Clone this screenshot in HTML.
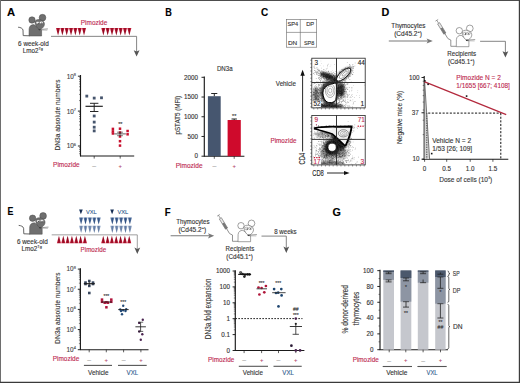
<!DOCTYPE html>
<html><head><meta charset="utf-8"><style>
html,body{margin:0;padding:0;background:#fff;width:520px;height:383px;overflow:hidden}
svg{display:block}
text{font-family:"Liberation Sans",sans-serif}
</style></head><body>
<svg width="520" height="383" viewBox="0 0 520 383">
<defs>
<linearGradient id="gRed" x1="0" y1="0" x2="1" y2="0">
<stop offset="0" stop-color="#d8213f"/><stop offset="0.5" stop-color="#8e0a22"/><stop offset="1" stop-color="#d8213f"/>
</linearGradient>
<linearGradient id="gNavy" x1="0" y1="0" x2="1" y2="0">
<stop offset="0" stop-color="#2d4d78"/><stop offset="0.5" stop-color="#0f2245"/><stop offset="1" stop-color="#2d4d78"/>
</linearGradient>
<linearGradient id="gB2" x1="0" y1="0" x2="1" y2="0">
<stop offset="0" stop-color="#7a95bd"/><stop offset="0.5" stop-color="#2f4f80"/><stop offset="1" stop-color="#7a95bd"/>
</linearGradient>
<linearGradient id="gB3" x1="0" y1="0" x2="1" y2="0">
<stop offset="0" stop-color="#aebfd8"/><stop offset="0.5" stop-color="#6079a0"/><stop offset="1" stop-color="#aebfd8"/>
</linearGradient>
</defs>
<rect x="0" y="0" width="520" height="383" fill="#ffffff"/>
<text x="6.9" y="16.1" font-size="10.4" fill="#000" stroke="#000" stroke-width="0.12" textLength="8.1" lengthAdjust="spacingAndGlyphs" font-weight="bold" >A</text>
<text x="165.2" y="16.2" font-size="10.4" fill="#000" stroke="#000" stroke-width="0.12" textLength="6.6" lengthAdjust="spacingAndGlyphs" font-weight="bold" >B</text>
<text x="261" y="16.2" font-size="10.4" fill="#000" stroke="#000" stroke-width="0.12" textLength="7.2" lengthAdjust="spacingAndGlyphs" font-weight="bold" >C</text>
<text x="381.6" y="16.3" font-size="10.4" fill="#000" stroke="#000" stroke-width="0.12" textLength="7.8" lengthAdjust="spacingAndGlyphs" font-weight="bold" >D</text>
<text x="7.4" y="215.4" font-size="10.4" fill="#000" stroke="#000" stroke-width="0.12" textLength="5.9" lengthAdjust="spacingAndGlyphs" font-weight="bold" >E</text>
<text x="164.8" y="215.8" font-size="10.4" fill="#000" stroke="#000" stroke-width="0.12" textLength="5.9" lengthAdjust="spacingAndGlyphs" font-weight="bold" >F</text>
<text x="332.6" y="216" font-size="10.4" fill="#000" stroke="#000" stroke-width="0.12" textLength="8.4" lengthAdjust="spacingAndGlyphs" font-weight="bold" >G</text>
<g transform="translate(-427.3 -10.7)">
<path d="M445.4 37.9 C447.8 38.1 449.9 39.0 450.3 40.7 L450.5 46.3 L456.8 46.5" fill="none" stroke="#555" stroke-width="0.9" />
<circle cx="459.3" cy="30.7" r="3.2" fill="#6f6f6f" stroke="#4a4a4a" stroke-width="0.5"/>
<circle cx="469.8" cy="28.4" r="3.35" fill="#6f6f6f" stroke="#4a4a4a" stroke-width="0.5"/>
<path d="M456.3 46.7 L456.4 39.6 C456.6 36.6 458.6 35.4 461.2 35.3 L468.9 40.8 L468.9 46.7 Z" fill="#6f6f6f" stroke="#4a4a4a" stroke-width="0.5" />
<path d="M462.3 33.2 C462.0 30.8 464.5 29.9 467.0 30.3 C470.5 30.9 472.4 33.5 471.6 36.0 C470.9 38.2 468.9 39.8 466.8 40.6 C464.6 39.0 462.6 36.2 462.3 33.2 Z" fill="#6f6f6f" stroke="#4a4a4a" stroke-width="0.5" />
<ellipse cx="465.0" cy="33.5" rx="1.75" ry="1.3" fill="#fff" stroke="#4a4a4a" stroke-width="0.4"/>
<ellipse cx="468.6" cy="33.3" rx="1.75" ry="1.3" fill="#fff" stroke="#4a4a4a" stroke-width="0.4"/>
<circle cx="465.5" cy="33.9" r="0.55" fill="#111" stroke="none" stroke-width="0.5"/>
<circle cx="468.7" cy="33.7" r="0.55" fill="#111" stroke="none" stroke-width="0.5"/>
<ellipse cx="466.9" cy="40.3" rx="1.1" ry="0.7" fill="#333"/>
<line x1="466.8" y1="40.2" x2="475.2" y2="39.6" stroke="#555" stroke-width="0.6" />
<line x1="467.2" y1="40.8" x2="474.6" y2="41" stroke="#777" stroke-width="0.4" />
</g>
<text x="18.1" y="45.67" font-size="6.3" fill="#333333" stroke="#333333" stroke-width="0.12" textLength="30.7" lengthAdjust="spacingAndGlyphs" >6 week-old</text>
<text x="22.7" y="52.6" font-size="6.3" fill="#333333" stroke="#333333" stroke-width="0.12">Lmo2<tspan font-size="3.8" dy="-2.9">Tg</tspan></text>
<path d="M51 36.35 L136.6 36.35 L136.6 53" fill="none" stroke="#666" stroke-width="0.8" />
<path d="M133.7 50.2 L136.6 51.61 L139.5 50.2 L136.6 56.6 Z" fill="#555" stroke="none" stroke-width="0.8" />
<text x="80.8" y="24.77" font-size="6.3" fill="#bd2a50" stroke="#bd2a50" stroke-width="0.12" textLength="26.5" lengthAdjust="spacingAndGlyphs" >Pimozide</text>
<path d="M56 28.1 L60.1 28.1 L58.05 35.4 Z" fill="url(#gRed)" stroke="none" stroke-width="0.8" />
<path d="M60.33 28.1 L64.43 28.1 L62.38 35.4 Z" fill="url(#gRed)" stroke="none" stroke-width="0.8" />
<path d="M64.66 28.1 L68.76 28.1 L66.71 35.4 Z" fill="url(#gRed)" stroke="none" stroke-width="0.8" />
<path d="M68.99 28.1 L73.09 28.1 L71.04 35.4 Z" fill="url(#gRed)" stroke="none" stroke-width="0.8" />
<path d="M73.32 28.1 L77.42 28.1 L75.37 35.4 Z" fill="url(#gRed)" stroke="none" stroke-width="0.8" />
<path d="M77.65 28.1 L81.75 28.1 L79.7 35.4 Z" fill="url(#gRed)" stroke="none" stroke-width="0.8" />
<path d="M81.98 28.1 L86.08 28.1 L84.03 35.4 Z" fill="url(#gRed)" stroke="none" stroke-width="0.8" />
<path d="M101.3 28.1 L105.4 28.1 L103.35 35.4 Z" fill="url(#gRed)" stroke="none" stroke-width="0.8" />
<path d="M105.63 28.1 L109.73 28.1 L107.68 35.4 Z" fill="url(#gRed)" stroke="none" stroke-width="0.8" />
<path d="M109.96 28.1 L114.06 28.1 L112.01 35.4 Z" fill="url(#gRed)" stroke="none" stroke-width="0.8" />
<path d="M114.29 28.1 L118.39 28.1 L116.34 35.4 Z" fill="url(#gRed)" stroke="none" stroke-width="0.8" />
<path d="M118.62 28.1 L122.72 28.1 L120.67 35.4 Z" fill="url(#gRed)" stroke="none" stroke-width="0.8" />
<path d="M122.95 28.1 L127.05 28.1 L125 35.4 Z" fill="url(#gRed)" stroke="none" stroke-width="0.8" />
<path d="M127.28 28.1 L131.38 28.1 L129.33 35.4 Z" fill="url(#gRed)" stroke="none" stroke-width="0.8" />
<line x1="80.5" y1="75" x2="80.5" y2="156.4" stroke="#1a1a1a" stroke-width="1.15" />
<line x1="80.1" y1="156" x2="134.2" y2="156" stroke="#1a1a1a" stroke-width="1.15" />
<line x1="77.9" y1="76.2" x2="80.5" y2="76.2" stroke="#1a1a1a" stroke-width="0.95" />
<line x1="77.9" y1="111.1" x2="80.5" y2="111.1" stroke="#1a1a1a" stroke-width="0.95" />
<line x1="77.9" y1="146" x2="80.5" y2="146" stroke="#1a1a1a" stroke-width="0.95" />
<line x1="79" y1="100.59" x2="80.5" y2="100.59" stroke="#1a1a1a" stroke-width="0.5" />
<line x1="79" y1="94.45" x2="80.5" y2="94.45" stroke="#1a1a1a" stroke-width="0.5" />
<line x1="79" y1="90.09" x2="80.5" y2="90.09" stroke="#1a1a1a" stroke-width="0.5" />
<line x1="79" y1="86.71" x2="80.5" y2="86.71" stroke="#1a1a1a" stroke-width="0.5" />
<line x1="79" y1="83.94" x2="80.5" y2="83.94" stroke="#1a1a1a" stroke-width="0.5" />
<line x1="79" y1="81.61" x2="80.5" y2="81.61" stroke="#1a1a1a" stroke-width="0.5" />
<line x1="79" y1="79.58" x2="80.5" y2="79.58" stroke="#1a1a1a" stroke-width="0.5" />
<line x1="79" y1="77.8" x2="80.5" y2="77.8" stroke="#1a1a1a" stroke-width="0.5" />
<line x1="79" y1="135.49" x2="80.5" y2="135.49" stroke="#1a1a1a" stroke-width="0.5" />
<line x1="79" y1="129.35" x2="80.5" y2="129.35" stroke="#1a1a1a" stroke-width="0.5" />
<line x1="79" y1="124.99" x2="80.5" y2="124.99" stroke="#1a1a1a" stroke-width="0.5" />
<line x1="79" y1="121.61" x2="80.5" y2="121.61" stroke="#1a1a1a" stroke-width="0.5" />
<line x1="79" y1="118.84" x2="80.5" y2="118.84" stroke="#1a1a1a" stroke-width="0.5" />
<line x1="79" y1="116.51" x2="80.5" y2="116.51" stroke="#1a1a1a" stroke-width="0.5" />
<line x1="79" y1="114.48" x2="80.5" y2="114.48" stroke="#1a1a1a" stroke-width="0.5" />
<line x1="79" y1="112.7" x2="80.5" y2="112.7" stroke="#1a1a1a" stroke-width="0.5" />
<line x1="79" y1="153.74" x2="80.5" y2="153.74" stroke="#1a1a1a" stroke-width="0.5" />
<line x1="79" y1="151.41" x2="80.5" y2="151.41" stroke="#1a1a1a" stroke-width="0.5" />
<line x1="79" y1="149.38" x2="80.5" y2="149.38" stroke="#1a1a1a" stroke-width="0.5" />
<line x1="79" y1="147.6" x2="80.5" y2="147.6" stroke="#1a1a1a" stroke-width="0.5" />
<text x="76" y="78.6" font-size="6.4" fill="#444" text-anchor="end" stroke="#444" stroke-width="0.12">10<tspan font-size="3.97" dy="-2.6">8</tspan></text>
<text x="76" y="113.6" font-size="6.4" fill="#444" text-anchor="end" stroke="#444" stroke-width="0.12">10<tspan font-size="3.97" dy="-2.6">7</tspan></text>
<text x="76" y="148.3" font-size="6.4" fill="#444" text-anchor="end" stroke="#444" stroke-width="0.12">10<tspan font-size="3.97" dy="-2.6">6</tspan></text>
<line x1="94.2" y1="156" x2="94.2" y2="158.6" stroke="#1a1a1a" stroke-width="0.7" />
<line x1="120.2" y1="156" x2="120.2" y2="158.6" stroke="#1a1a1a" stroke-width="0.7" />
<text transform="translate(57.6 114.95) rotate(-90)" x="0" y="2.77" font-size="7.7" fill="#333333" stroke="#333333" stroke-width="0.12" text-anchor="middle" textLength="71.1" lengthAdjust="spacingAndGlyphs">DN3a absolute numbers</text>
<text x="53.1" y="167.47" font-size="6.3" fill="#bd2a50" stroke="#bd2a50" stroke-width="0.12" textLength="26.5" lengthAdjust="spacingAndGlyphs" >Pimozide</text>
<text x="92.2" y="167.76" font-size="6" fill="#707070" stroke="#707070" stroke-width="0.12" textLength="3.8" lengthAdjust="spacingAndGlyphs" >–</text>
<text x="120.3" y="167.6" font-size="5.8" fill="#b2476a" stroke="#b2476a" stroke-width="0.12" text-anchor="middle" >+</text>
<rect x="85.4" y="94.7" width="2.8" height="2.8" fill="#46556d"/>
<rect x="92.8" y="96.7" width="2.8" height="2.8" fill="#46556d"/>
<rect x="100.1" y="96.4" width="2.8" height="2.8" fill="#46556d"/>
<rect x="92.8" y="114.6" width="2.8" height="2.8" fill="#46556d"/>
<rect x="92.8" y="120.7" width="2.8" height="2.8" fill="#46556d"/>
<rect x="92.8" y="125.8" width="2.8" height="2.8" fill="#46556d"/>
<rect x="92.8" y="129.5" width="2.8" height="2.8" fill="#46556d"/>
<line x1="85.5" y1="106.3" x2="102.8" y2="106.3" stroke="#1a1a1a" stroke-width="1.15" />
<line x1="94.2" y1="103.3" x2="94.2" y2="111.5" stroke="#1a1a1a" stroke-width="0.95" />
<line x1="90" y1="103.3" x2="98.4" y2="103.3" stroke="#1a1a1a" stroke-width="0.95" />
<line x1="90" y1="111.5" x2="98.4" y2="111.5" stroke="#1a1a1a" stroke-width="0.95" />
<rect x="118.75" y="127.45" width="2.5" height="2.5" fill="#c8102e"/>
<rect x="111.65" y="127.65" width="2.5" height="2.5" fill="#c8102e"/>
<rect x="111.65" y="130.15" width="2.5" height="2.5" fill="#c8102e"/>
<rect x="111.65" y="132.25" width="2.5" height="2.5" fill="#c8102e"/>
<rect x="126.35" y="129.75" width="2.5" height="2.5" fill="#c8102e"/>
<rect x="126.35" y="133.05" width="2.5" height="2.5" fill="#c8102e"/>
<rect x="118.75" y="135.25" width="2.5" height="2.5" fill="#c8102e"/>
<rect x="118.75" y="139.95" width="2.5" height="2.5" fill="#c8102e"/>
<rect x="118.75" y="144.35" width="2.5" height="2.5" fill="#c8102e"/>
<rect x="118.75" y="131.25" width="2.5" height="2.5" fill="#c8102e"/>
<line x1="114.2" y1="133.9" x2="125.9" y2="133.9" stroke="#333" stroke-width="0.8" />
<line x1="120" y1="132.2" x2="120" y2="135.7" stroke="#333" stroke-width="0.7" />
<line x1="117" y1="132.2" x2="123" y2="132.2" stroke="#333" stroke-width="0.6" />
<line x1="117" y1="135.7" x2="123" y2="135.7" stroke="#333" stroke-width="0.6" />
<text x="120.3" y="125.6" font-size="5.5" fill="#333" stroke="#333" stroke-width="0.12" text-anchor="middle" >**</text>
<text x="216.9" y="70.67" font-size="6.3" fill="#333333" stroke="#333333" stroke-width="0.12" textLength="15.7" lengthAdjust="spacingAndGlyphs" >DN3a</text>
<line x1="204.3" y1="76.5" x2="204.3" y2="156.6" stroke="#1a1a1a" stroke-width="1.15" />
<line x1="203.9" y1="156.2" x2="244.4" y2="156.2" stroke="#1a1a1a" stroke-width="1.15" />
<line x1="201.5" y1="156.2" x2="204.3" y2="156.2" stroke="#1a1a1a" stroke-width="0.95" />
<text x="197.9" y="158.45" font-size="6.3" fill="#333333" stroke="#333333" stroke-width="0.12" text-anchor="end" >0</text>
<line x1="201.5" y1="136.47" x2="204.3" y2="136.47" stroke="#1a1a1a" stroke-width="0.95" />
<text x="197.9" y="138.72" font-size="6.3" fill="#333333" stroke="#333333" stroke-width="0.12" text-anchor="end" >500</text>
<line x1="201.5" y1="116.75" x2="204.3" y2="116.75" stroke="#1a1a1a" stroke-width="0.95" />
<text x="197.9" y="119" font-size="6.3" fill="#333333" stroke="#333333" stroke-width="0.12" text-anchor="end" >1000</text>
<line x1="201.5" y1="97.02" x2="204.3" y2="97.02" stroke="#1a1a1a" stroke-width="0.95" />
<text x="197.9" y="99.27" font-size="6.3" fill="#333333" stroke="#333333" stroke-width="0.12" text-anchor="end" >1500</text>
<line x1="201.5" y1="77.3" x2="204.3" y2="77.3" stroke="#1a1a1a" stroke-width="0.95" />
<text x="197.9" y="79.55" font-size="6.3" fill="#333333" stroke="#333333" stroke-width="0.12" text-anchor="end" >2000</text>
<text transform="translate(177.3 115.2) rotate(-90)" x="0" y="2.38" font-size="6.6" fill="#333333" stroke="#333333" stroke-width="0.12" text-anchor="middle" textLength="38.8" lengthAdjust="spacingAndGlyphs">pSTAT5 (MFI)</text>
<rect x="207.9" y="96.2" width="12.8" height="60" fill="#46566f"/>
<rect x="227.6" y="120" width="13.2" height="36.2" fill="#cf0a2c"/>
<line x1="214.3" y1="93.5" x2="214.3" y2="96.2" stroke="#1a1a1a" stroke-width="0.95" />
<line x1="211.2" y1="93.5" x2="217.3" y2="93.5" stroke="#1a1a1a" stroke-width="0.95" />
<line x1="234.2" y1="119" x2="234.2" y2="120" stroke="#1a1a1a" stroke-width="0.95" />
<line x1="231.5" y1="119" x2="236.9" y2="119" stroke="#1a1a1a" stroke-width="0.95" />
<text x="234.2" y="118.3" font-size="5.5" fill="#333" stroke="#333" stroke-width="0.12" text-anchor="middle" >**</text>
<line x1="214.3" y1="156.2" x2="214.3" y2="158.8" stroke="#1a1a1a" stroke-width="0.7" />
<line x1="234.2" y1="156.2" x2="234.2" y2="158.8" stroke="#1a1a1a" stroke-width="0.7" />
<text x="175.7" y="167.57" font-size="6.3" fill="#bd2a50" stroke="#bd2a50" stroke-width="0.12" textLength="26.9" lengthAdjust="spacingAndGlyphs" >Pimozide</text>
<text x="212.5" y="167.76" font-size="6" fill="#707070" stroke="#707070" stroke-width="0.12" textLength="3.8" lengthAdjust="spacingAndGlyphs" >–</text>
<text x="234.2" y="167.7" font-size="5.8" fill="#b2476a" stroke="#b2476a" stroke-width="0.12" text-anchor="middle" >+</text>
<rect x="286.5" y="19.4" width="30.2" height="27.8" fill="none" stroke="#666" stroke-width="0.6"/>
<line x1="300.3" y1="19.4" x2="300.3" y2="47.2" stroke="#666" stroke-width="0.6" />
<line x1="286.5" y1="32.4" x2="316.7" y2="32.4" stroke="#666" stroke-width="0.6" />
<text x="287.4" y="26" font-size="6.2" fill="#333333" stroke="#333333" stroke-width="0.12" textLength="10.7" lengthAdjust="spacingAndGlyphs" >SP4</text>
<text x="306.2" y="26" font-size="6.2" fill="#333333" stroke="#333333" stroke-width="0.12" textLength="8" lengthAdjust="spacingAndGlyphs" >DP</text>
<text x="287.9" y="45.3" font-size="6.2" fill="#333333" stroke="#333333" stroke-width="0.12" textLength="9.3" lengthAdjust="spacingAndGlyphs" >DN</text>
<text x="303.9" y="45.3" font-size="6.2" fill="#333333" stroke="#333333" stroke-width="0.12" textLength="10.3" lengthAdjust="spacingAndGlyphs" >SP8</text>
<text x="275.8" y="86.47" font-size="6.3" fill="#333333" stroke="#333333" stroke-width="0.12" textLength="20.2" lengthAdjust="spacingAndGlyphs" >Vehicle</text>
<text x="270.5" y="143.27" font-size="6.3" fill="#bd2a50" stroke="#bd2a50" stroke-width="0.12" textLength="25.9" lengthAdjust="spacingAndGlyphs" >Pimozide</text>
<line x1="302.6" y1="151.5" x2="302.6" y2="74" stroke="#111" stroke-width="0.9" />
<path d="M300.4 75.8 L302.6 69.8 L304.8 75.8 Z" fill="#111" stroke="none" stroke-width="0.8" />
<text transform="translate(301.6 158.65) rotate(-90)" x="0" y="3.02" font-size="8.4" fill="#222" stroke="#222" stroke-width="0.12" text-anchor="middle" textLength="11.5" lengthAdjust="spacingAndGlyphs">CD4</text>
<text x="312.2" y="175.72" font-size="8.4" fill="#222" stroke="#222" stroke-width="0.12" textLength="11.6" lengthAdjust="spacingAndGlyphs" >CD8</text>
<line x1="327" y1="173" x2="346" y2="173" stroke="#111" stroke-width="0.9" />
<path d="M344 170.9 L349.6 173 L344 175.1 Z" fill="#111" stroke="none" stroke-width="0.8" />
<defs><filter id="bl1" filterUnits="userSpaceOnUse" x="300" y="50" width="80" height="130"><feGaussianBlur stdDeviation="1.3"/></filter><filter id="bl2" filterUnits="userSpaceOnUse" x="300" y="50" width="80" height="130"><feGaussianBlur stdDeviation="2.2"/></filter><clipPath id="cp1"><rect x="312.2" y="58.6" width="52.6" height="48.9"/></clipPath><clipPath id="cp2"><rect x="312.2" y="115.8" width="52.6" height="48.7"/></clipPath></defs>
<defs><filter id="bl0" filterUnits="userSpaceOnUse" x="300" y="50" width="80" height="130"><feGaussianBlur stdDeviation="0.45"/></filter></defs>
<g clip-path="url(#cp1)">
<g filter="url(#bl1)" opacity="0.75">
<ellipse cx="329.3" cy="92.8" rx="9" ry="12" fill="#000"/>
<ellipse cx="328.5" cy="76.5" rx="9" ry="3.0" fill="#000" transform="rotate(22 328.5 76.5)"/>
<circle cx="336" cy="81.5" r="3" fill="#000"/>
<ellipse cx="343.6" cy="74.6" rx="10" ry="4.3" fill="#000" transform="rotate(-41.5 343.6 74.6)"/>
<ellipse cx="330" cy="106" rx="13" ry="2.5" fill="#000"/>
<ellipse cx="341" cy="90" rx="4" ry="7" fill="#000"/>
<ellipse cx="316" cy="95" rx="3" ry="8" fill="#000" opacity="0.6"/>
</g>
<path d="M327.96 97.09h0.6v0.6h-0.6zM328.14 90.48h0.6v0.6h-0.6zM323.92 91.29h0.6v0.6h-0.6zM336.17 96.39h0.6v0.6h-0.6zM335.72 94.99h0.6v0.6h-0.6zM331.87 94.48h0.6v0.6h-0.6zM319.5 99.84h0.6v0.6h-0.6zM332.54 96.99h0.6v0.6h-0.6zM319.35 79.05h0.6v0.6h-0.6zM324.16 89.25h0.6v0.6h-0.6zM331.33 92.63h0.6v0.6h-0.6zM332.63 87.86h0.6v0.6h-0.6zM331.35 96.15h0.6v0.6h-0.6zM325.53 106.74h0.6v0.6h-0.6zM332.84 102.58h0.6v0.6h-0.6zM325.78 87.08h0.6v0.6h-0.6zM327.44 92.15h0.6v0.6h-0.6zM333.29 94.99h0.6v0.6h-0.6zM326.82 85.34h0.6v0.6h-0.6zM326.38 102.77h0.6v0.6h-0.6zM324.65 94.96h0.6v0.6h-0.6zM332.06 81.08h0.6v0.6h-0.6zM329.79 103.45h0.6v0.6h-0.6zM317.41 90.43h0.6v0.6h-0.6zM328.86 86.46h0.6v0.6h-0.6zM332.48 92.5h0.6v0.6h-0.6zM320.71 99.62h0.6v0.6h-0.6zM333.52 100.57h0.6v0.6h-0.6zM338.14 95.9h0.6v0.6h-0.6zM330.22 82.61h0.6v0.6h-0.6zM333.19 88.11h0.6v0.6h-0.6zM326.78 82.88h0.6v0.6h-0.6zM323.69 88.75h0.6v0.6h-0.6zM337.23 76.75h0.6v0.6h-0.6zM320.75 94.91h0.6v0.6h-0.6zM338.16 97.63h0.6v0.6h-0.6zM318.1 72.85h0.6v0.6h-0.6zM331.64 87.11h0.6v0.6h-0.6zM322.78 100.82h0.6v0.6h-0.6zM336.11 94.26h0.6v0.6h-0.6zM330.97 96.47h0.6v0.6h-0.6zM339.06 97.95h0.6v0.6h-0.6zM332.61 97.38h0.6v0.6h-0.6zM320.09 103.25h0.6v0.6h-0.6zM335.23 97.24h0.6v0.6h-0.6zM317.66 87.93h0.6v0.6h-0.6zM334.55 78.51h0.6v0.6h-0.6zM328.4 101.16h0.6v0.6h-0.6zM321.63 105.88h0.6v0.6h-0.6zM332.81 91.8h0.6v0.6h-0.6zM331.45 98.2h0.6v0.6h-0.6zM330.22 102.17h0.6v0.6h-0.6zM325.53 89.68h0.6v0.6h-0.6zM335.75 93.21h0.6v0.6h-0.6zM324.22 100.57h0.6v0.6h-0.6zM338.29 89.44h0.6v0.6h-0.6zM321.22 91.92h0.6v0.6h-0.6zM328.61 90.62h0.6v0.6h-0.6zM337.93 84.78h0.6v0.6h-0.6zM337.06 82.85h0.6v0.6h-0.6zM324.78 98.05h0.6v0.6h-0.6zM336.27 99.87h0.6v0.6h-0.6zM331.57 94.14h0.6v0.6h-0.6zM330.41 97.6h0.6v0.6h-0.6zM328.44 95.22h0.6v0.6h-0.6zM332.94 93.01h0.6v0.6h-0.6zM334.08 97.53h0.6v0.6h-0.6zM341.56 95.6h0.6v0.6h-0.6zM326.93 90.02h0.6v0.6h-0.6zM329.42 100.39h0.6v0.6h-0.6zM327.48 96.09h0.6v0.6h-0.6zM340.52 72.48h0.6v0.6h-0.6zM322.76 94.95h0.6v0.6h-0.6zM331.89 94.91h0.6v0.6h-0.6zM326.91 98.24h0.6v0.6h-0.6zM331.19 88.82h0.6v0.6h-0.6zM344.08 95.84h0.6v0.6h-0.6zM326.17 92.2h0.6v0.6h-0.6zM328.15 92.5h0.6v0.6h-0.6zM313.13 89.1h0.6v0.6h-0.6zM335.55 83.65h0.6v0.6h-0.6zM329.1 100.63h0.6v0.6h-0.6zM334.64 104.93h0.6v0.6h-0.6zM319.29 90.17h0.6v0.6h-0.6zM327.45 97.99h0.6v0.6h-0.6zM336.05 71.54h0.6v0.6h-0.6zM336.03 81.42h0.6v0.6h-0.6zM333.6 81.06h0.6v0.6h-0.6zM330.56 102.56h0.6v0.6h-0.6zM328.6 94.53h0.6v0.6h-0.6zM334.28 94.13h0.6v0.6h-0.6zM328.97 105.27h0.6v0.6h-0.6zM335.79 90.65h0.6v0.6h-0.6zM345.97 83.83h0.6v0.6h-0.6zM334.99 90.87h0.6v0.6h-0.6zM330.29 98.64h0.6v0.6h-0.6zM330.83 98.11h0.6v0.6h-0.6zM320.34 80.92h0.6v0.6h-0.6zM333.19 85.29h0.6v0.6h-0.6zM323.34 81.24h0.6v0.6h-0.6zM337.1 98.97h0.6v0.6h-0.6zM338.34 85.5h0.6v0.6h-0.6zM329.51 83.88h0.6v0.6h-0.6zM334.1 105.72h0.6v0.6h-0.6zM324.16 105.48h0.6v0.6h-0.6zM335.43 91.58h0.6v0.6h-0.6zM317.67 104.25h0.6v0.6h-0.6zM328.92 88.18h0.6v0.6h-0.6zM331.9 96.28h0.6v0.6h-0.6zM338.49 84.84h0.6v0.6h-0.6zM336.32 104.9h0.6v0.6h-0.6zM338.21 91.56h0.6v0.6h-0.6zM325.04 101.15h0.6v0.6h-0.6zM330.19 93.99h0.6v0.6h-0.6zM338.05 90.89h0.6v0.6h-0.6zM315.72 89.9h0.6v0.6h-0.6zM318.38 99.55h0.6v0.6h-0.6zM331.4 88.11h0.6v0.6h-0.6zM329.44 99.66h0.6v0.6h-0.6zM329.97 103.61h0.6v0.6h-0.6zM329.13 101.32h0.6v0.6h-0.6zM338.45 105.88h0.6v0.6h-0.6zM325.47 100.04h0.6v0.6h-0.6zM318.24 84.33h0.6v0.6h-0.6zM317.72 101.55h0.6v0.6h-0.6zM322.11 92.9h0.6v0.6h-0.6zM328.35 92.77h0.6v0.6h-0.6zM325.95 94.87h0.6v0.6h-0.6zM340.25 93.35h0.6v0.6h-0.6zM332.69 101h0.6v0.6h-0.6zM328.31 82.92h0.6v0.6h-0.6zM326.17 101.59h0.6v0.6h-0.6zM319.62 88.22h0.6v0.6h-0.6zM335.54 99.34h0.6v0.6h-0.6zM329.55 99.44h0.6v0.6h-0.6zM330.5 83.57h0.6v0.6h-0.6zM320.12 87.89h0.6v0.6h-0.6zM335.04 88.48h0.6v0.6h-0.6zM324.09 86.83h0.6v0.6h-0.6zM320.31 92.06h0.6v0.6h-0.6zM322.42 95.91h0.6v0.6h-0.6zM315.34 95.62h0.6v0.6h-0.6zM325.65 77.46h0.6v0.6h-0.6zM333.85 90.8h0.6v0.6h-0.6zM316.12 86h0.6v0.6h-0.6zM331.25 89.33h0.6v0.6h-0.6zM334.18 98.98h0.6v0.6h-0.6zM333.5 95.61h0.6v0.6h-0.6zM337.5 98.28h0.6v0.6h-0.6zM332.21 76.33h0.6v0.6h-0.6zM334.88 103.48h0.6v0.6h-0.6zM327.72 89.24h0.6v0.6h-0.6zM341.14 78.93h0.6v0.6h-0.6zM323.93 98.52h0.6v0.6h-0.6zM340.82 92.04h0.6v0.6h-0.6zM332.87 100.22h0.6v0.6h-0.6zM324.07 92.29h0.6v0.6h-0.6zM331.26 99.6h0.6v0.6h-0.6zM329.29 91.44h0.6v0.6h-0.6zM323.4 90.13h0.6v0.6h-0.6zM334.85 93.81h0.6v0.6h-0.6zM324.38 86.27h0.6v0.6h-0.6zM345.5 102.12h0.6v0.6h-0.6zM333.32 72.26h0.6v0.6h-0.6zM333.23 96.85h0.6v0.6h-0.6zM339.6 96.42h0.6v0.6h-0.6zM329.1 97.18h0.6v0.6h-0.6zM317.83 101.27h0.6v0.6h-0.6zM331.45 87.38h0.6v0.6h-0.6zM337.45 107.47h0.6v0.6h-0.6zM321.09 87.67h0.6v0.6h-0.6zM331.25 94.47h0.6v0.6h-0.6zM327.11 85.21h0.6v0.6h-0.6zM342.22 101.3h0.6v0.6h-0.6zM322.33 82.24h0.6v0.6h-0.6zM339.72 100.91h0.6v0.6h-0.6zM340.43 99.48h0.6v0.6h-0.6zM324.27 95.09h0.6v0.6h-0.6zM316.54 87.02h0.6v0.6h-0.6zM329.15 97.18h0.6v0.6h-0.6zM325.13 92.01h0.6v0.6h-0.6zM332.25 96.01h0.6v0.6h-0.6zM333.33 94.67h0.6v0.6h-0.6zM327.56 99.31h0.6v0.6h-0.6zM329.8 86.39h0.6v0.6h-0.6zM325.74 93h0.6v0.6h-0.6zM328.84 94.26h0.6v0.6h-0.6zM329.5 94.41h0.6v0.6h-0.6zM328.69 82.93h0.6v0.6h-0.6zM332.03 101.43h0.6v0.6h-0.6zM332.11 91.49h0.6v0.6h-0.6zM332.18 85.27h0.6v0.6h-0.6zM318.12 93.48h0.6v0.6h-0.6zM323.92 98.92h0.6v0.6h-0.6zM323 71.97h0.6v0.6h-0.6zM323.26 105.62h0.6v0.6h-0.6zM327.21 82.04h0.6v0.6h-0.6zM324.92 97.17h0.6v0.6h-0.6zM332.48 94.41h0.6v0.6h-0.6zM338.4 98.65h0.6v0.6h-0.6zM329.37 97.77h0.6v0.6h-0.6zM339.43 100.77h0.6v0.6h-0.6zM335.64 84.34h0.6v0.6h-0.6zM328.61 98.84h0.6v0.6h-0.6zM327.72 101.55h0.6v0.6h-0.6zM333.08 100.27h0.6v0.6h-0.6zM336.94 91.28h0.6v0.6h-0.6zM327.44 99.99h0.6v0.6h-0.6zM335.38 93.05h0.6v0.6h-0.6zM322.5 94.5h0.6v0.6h-0.6zM331.66 102.04h0.6v0.6h-0.6zM334.2 93.19h0.6v0.6h-0.6zM334.62 97.32h0.6v0.6h-0.6zM330.74 93.44h0.6v0.6h-0.6zM328.04 98.49h0.6v0.6h-0.6zM323.17 87.97h0.6v0.6h-0.6zM329.53 81.29h0.6v0.6h-0.6zM326.88 76.93h0.6v0.6h-0.6zM325.4 97.55h0.6v0.6h-0.6zM332.9 92.56h0.6v0.6h-0.6zM328.11 81.67h0.6v0.6h-0.6zM340.47 97.13h0.6v0.6h-0.6zM336.06 85.94h0.6v0.6h-0.6zM328.39 78.44h0.6v0.6h-0.6zM334.18 100.48h0.6v0.6h-0.6zM318.12 92.58h0.6v0.6h-0.6zM333.28 78.9h0.6v0.6h-0.6zM318.55 84.48h0.6v0.6h-0.6zM325.72 81.78h0.6v0.6h-0.6zM329.69 95h0.6v0.6h-0.6zM333.3 98.62h0.6v0.6h-0.6zM338.52 102.31h0.6v0.6h-0.6zM321.63 88.96h0.6v0.6h-0.6zM323.14 84.39h0.6v0.6h-0.6zM329.01 93.04h0.6v0.6h-0.6zM332.44 80.3h0.6v0.6h-0.6zM322.07 92.82h0.6v0.6h-0.6zM328.3 90.51h0.6v0.6h-0.6zM329.12 86.92h0.6v0.6h-0.6zM333.71 95.83h0.6v0.6h-0.6zM328.97 87.62h0.6v0.6h-0.6zM328.45 71.23h0.6v0.6h-0.6zM323.61 93.3h0.6v0.6h-0.6zM320.48 94.6h0.6v0.6h-0.6zM330.38 81.98h0.6v0.6h-0.6zM328 90.49h0.6v0.6h-0.6zM332.26 97.9h0.6v0.6h-0.6zM329.28 86.19h0.6v0.6h-0.6zM328.63 92.48h0.6v0.6h-0.6zM333.91 95.35h0.6v0.6h-0.6zM325.16 82.16h0.6v0.6h-0.6zM327.26 87.08h0.6v0.6h-0.6zM322.83 92.07h0.6v0.6h-0.6zM326.55 93.84h0.6v0.6h-0.6zM332.64 89.7h0.6v0.6h-0.6zM343.45 90.43h0.6v0.6h-0.6zM336.11 93.97h0.6v0.6h-0.6zM336.2 73.99h0.6v0.6h-0.6zM324.99 94.98h0.6v0.6h-0.6zM331.44 103.24h0.6v0.6h-0.6zM334.1 100.58h0.6v0.6h-0.6zM332.56 91.75h0.6v0.6h-0.6zM332.55 84.37h0.6v0.6h-0.6zM336.59 84.86h0.6v0.6h-0.6zM328.16 93.16h0.6v0.6h-0.6zM336.48 93.21h0.6v0.6h-0.6zM324.65 95.07h0.6v0.6h-0.6zM332.99 98.68h0.6v0.6h-0.6zM324.86 107.02h0.6v0.6h-0.6zM339.5 93.15h0.6v0.6h-0.6zM331.11 89.57h0.6v0.6h-0.6zM337.98 87.36h0.6v0.6h-0.6zM333.54 89.16h0.6v0.6h-0.6zM325.34 98.75h0.6v0.6h-0.6zM337.5 92.92h0.6v0.6h-0.6zM325.44 99.49h0.6v0.6h-0.6zM329.2 95.49h0.6v0.6h-0.6zM338.64 102.05h0.6v0.6h-0.6zM329.52 99.29h0.6v0.6h-0.6zM325.62 92.64h0.6v0.6h-0.6zM319 107.29h0.6v0.6h-0.6zM337.69 83.28h0.6v0.6h-0.6zM320.47 80.03h0.6v0.6h-0.6zM336.55 89.32h0.6v0.6h-0.6zM329.14 90.5h0.6v0.6h-0.6zM328.77 84.29h0.6v0.6h-0.6zM329.64 81.5h0.6v0.6h-0.6zM329.07 95.47h0.6v0.6h-0.6zM332.31 91.15h0.6v0.6h-0.6zM324.08 94.28h0.6v0.6h-0.6zM326.59 105.53h0.6v0.6h-0.6zM334.11 92.08h0.6v0.6h-0.6zM326.67 87.38h0.6v0.6h-0.6zM323.88 90.18h0.6v0.6h-0.6zM331.27 97.12h0.6v0.6h-0.6zM325.27 93.1h0.6v0.6h-0.6zM346.27 78.06h0.6v0.6h-0.6zM326.37 94.36h0.6v0.6h-0.6zM330.43 96.26h0.6v0.6h-0.6zM328.07 95.93h0.6v0.6h-0.6zM329.82 99.17h0.6v0.6h-0.6zM318.14 85.92h0.6v0.6h-0.6zM329.49 84.75h0.6v0.6h-0.6zM323.23 98.02h0.6v0.6h-0.6zM325.6 98.08h0.6v0.6h-0.6zM333.97 95.45h0.6v0.6h-0.6zM332.55 92.16h0.6v0.6h-0.6zM321.05 92.76h0.6v0.6h-0.6zM332.23 88.76h0.6v0.6h-0.6zM328.9 98.99h0.6v0.6h-0.6zM324.23 98.12h0.6v0.6h-0.6zM340.68 88.56h0.6v0.6h-0.6zM330.38 91.8h0.6v0.6h-0.6zM338.74 95.53h0.6v0.6h-0.6zM334.89 87.48h0.6v0.6h-0.6zM329.4 92.92h0.6v0.6h-0.6zM318.84 104.53h0.6v0.6h-0.6zM334.9 79.01h0.6v0.6h-0.6zM333.97 91.95h0.6v0.6h-0.6zM332.19 95.93h0.6v0.6h-0.6zM320.51 91.3h0.6v0.6h-0.6zM338.46 88.4h0.6v0.6h-0.6zM323.36 82.12h0.6v0.6h-0.6zM322.17 95.68h0.6v0.6h-0.6zM339.66 96.44h0.6v0.6h-0.6zM326.38 87.61h0.6v0.6h-0.6zM332.67 97.39h0.6v0.6h-0.6zM323.41 83.64h0.6v0.6h-0.6zM331.25 94.98h0.6v0.6h-0.6zM321.66 91.38h0.6v0.6h-0.6zM326.24 96.68h0.6v0.6h-0.6zM328.8 92.31h0.6v0.6h-0.6zM327.38 101.43h0.6v0.6h-0.6zM337.84 90.06h0.6v0.6h-0.6zM334.58 86.94h0.6v0.6h-0.6zM329.93 99h0.6v0.6h-0.6zM338.59 89.94h0.6v0.6h-0.6zM329.06 94.57h0.6v0.6h-0.6zM320.51 93.13h0.6v0.6h-0.6zM325.44 95.97h0.6v0.6h-0.6zM322.72 77.19h0.6v0.6h-0.6zM329.73 95.08h0.6v0.6h-0.6zM326.21 100.11h0.6v0.6h-0.6zM327.86 88.15h0.6v0.6h-0.6zM332.37 80.45h0.6v0.6h-0.6zM325.44 92.83h0.6v0.6h-0.6zM334.59 91.7h0.6v0.6h-0.6zM331.35 87.76h0.6v0.6h-0.6zM331.31 106.31h0.6v0.6h-0.6zM325.64 93.14h0.6v0.6h-0.6zM330.54 101.19h0.6v0.6h-0.6zM322.08 76.2h0.6v0.6h-0.6zM333.14 99.36h0.6v0.6h-0.6zM330.73 95.03h0.6v0.6h-0.6zM335.08 95.95h0.6v0.6h-0.6zM339.48 83.09h0.6v0.6h-0.6zM327.25 65.44h0.6v0.6h-0.6zM334.37 90.02h0.6v0.6h-0.6zM329.46 90.96h0.6v0.6h-0.6zM326.5 86.3h0.6v0.6h-0.6zM325.72 98.11h0.6v0.6h-0.6zM329.72 93.53h0.6v0.6h-0.6zM328.46 100.31h0.6v0.6h-0.6zM332.46 91.87h0.6v0.6h-0.6zM333.49 91.79h0.6v0.6h-0.6zM322.58 104.64h0.6v0.6h-0.6zM332.29 85.34h0.6v0.6h-0.6zM335.97 95.76h0.6v0.6h-0.6zM320.11 105.88h0.6v0.6h-0.6zM331.5 100.13h0.6v0.6h-0.6zM330.69 91.8h0.6v0.6h-0.6zM320.21 100.77h0.6v0.6h-0.6zM329.68 90.71h0.6v0.6h-0.6zM331.61 93.62h0.6v0.6h-0.6zM333.55 90.03h0.6v0.6h-0.6zM329.28 75.89h0.6v0.6h-0.6zM326.96 98.41h0.6v0.6h-0.6zM337.52 90.09h0.6v0.6h-0.6zM328.77 105.67h0.6v0.6h-0.6zM327.55 98.87h0.6v0.6h-0.6zM339.57 93.32h0.6v0.6h-0.6zM336.86 87.32h0.6v0.6h-0.6zM330.75 92.38h0.6v0.6h-0.6zM330.19 102.04h0.6v0.6h-0.6zM343.84 87.68h0.6v0.6h-0.6zM326.05 96.98h0.6v0.6h-0.6zM323.17 96.98h0.6v0.6h-0.6zM332.93 90.78h0.6v0.6h-0.6zM332.69 80.61h0.6v0.6h-0.6zM334.06 80.64h0.6v0.6h-0.6zM325.32 88.55h0.6v0.6h-0.6zM327.09 99.87h0.6v0.6h-0.6zM329.99 89.82h0.6v0.6h-0.6zM332.76 105.65h0.6v0.6h-0.6zM329.54 95.93h0.6v0.6h-0.6zM336.94 95.14h0.6v0.6h-0.6zM342.75 77.12h0.6v0.6h-0.6zM329.27 96.34h0.6v0.6h-0.6zM335.29 98.35h0.6v0.6h-0.6zM327.87 84.57h0.6v0.6h-0.6zM330.12 101.27h0.6v0.6h-0.6zM322.96 84.78h0.6v0.6h-0.6zM329.35 77.5h0.6v0.6h-0.6zM327.94 89.51h0.6v0.6h-0.6zM332.2 87.39h0.6v0.6h-0.6zM324.21 89.85h0.6v0.6h-0.6zM329.2 87.68h0.6v0.6h-0.6zM329.57 99h0.6v0.6h-0.6zM336.61 106.64h0.6v0.6h-0.6zM324.8 89.64h0.6v0.6h-0.6zM325.15 92.73h0.6v0.6h-0.6zM332.64 82.13h0.6v0.6h-0.6zM332.28 92.79h0.6v0.6h-0.6zM318.54 95.34h0.6v0.6h-0.6zM336.67 78.06h0.6v0.6h-0.6zM334.34 94.67h0.6v0.6h-0.6zM332.35 96.53h0.6v0.6h-0.6zM337.32 91.21h0.6v0.6h-0.6zM334.74 89.72h0.6v0.6h-0.6zM333.87 86.49h0.6v0.6h-0.6zM328.85 106.85h0.6v0.6h-0.6zM332.17 91.73h0.6v0.6h-0.6zM322.63 86.68h0.6v0.6h-0.6zM330.66 100.52h0.6v0.6h-0.6zM332.06 97.19h0.6v0.6h-0.6zM329.25 103.82h0.6v0.6h-0.6zM327.16 88.6h0.6v0.6h-0.6zM334.83 93.51h0.6v0.6h-0.6zM327.83 88.39h0.6v0.6h-0.6zM327.96 97.99h0.6v0.6h-0.6zM331.62 83.32h0.6v0.6h-0.6zM332.06 94.43h0.6v0.6h-0.6zM323.5 99.18h0.6v0.6h-0.6zM327.82 90.32h0.6v0.6h-0.6zM334.27 103.57h0.6v0.6h-0.6zM325.37 96.51h0.6v0.6h-0.6zM326.54 102.56h0.6v0.6h-0.6zM325.62 99.49h0.6v0.6h-0.6zM342.81 72.67h0.6v0.6h-0.6zM326.89 97h0.6v0.6h-0.6zM328.94 87.65h0.6v0.6h-0.6zM342.41 93.64h0.6v0.6h-0.6zM319.63 99.83h0.6v0.6h-0.6zM319.17 102.21h0.6v0.6h-0.6zM326.03 94.16h0.6v0.6h-0.6zM337.07 93.94h0.6v0.6h-0.6zM321.15 79.43h0.6v0.6h-0.6zM336.6 98.92h0.6v0.6h-0.6zM324.61 99.88h0.6v0.6h-0.6zM332.48 98.18h0.6v0.6h-0.6zM315.95 90.58h0.6v0.6h-0.6zM334.9 98.87h0.6v0.6h-0.6zM334.79 73.34h0.6v0.6h-0.6zM330.51 96.94h0.6v0.6h-0.6zM344.81 85.37h0.6v0.6h-0.6zM327.52 93.29h0.6v0.6h-0.6zM334.82 89.45h0.6v0.6h-0.6zM336.38 86.7h0.6v0.6h-0.6zM331.1 88.78h0.6v0.6h-0.6zM330.45 87.47h0.6v0.6h-0.6zM319.92 101.74h0.6v0.6h-0.6zM331.32 88.53h0.6v0.6h-0.6zM330.71 100.92h0.6v0.6h-0.6zM323.64 92.12h0.6v0.6h-0.6zM332.73 97.21h0.6v0.6h-0.6zM327.49 76.14h0.6v0.6h-0.6zM336.96 95.63h0.6v0.6h-0.6zM329.58 90.77h0.6v0.6h-0.6zM331.08 89.6h0.6v0.6h-0.6zM323.35 87.08h0.6v0.6h-0.6zM325.92 88.1h0.6v0.6h-0.6zM322.55 98.09h0.6v0.6h-0.6zM321.64 98.28h0.6v0.6h-0.6zM323.41 95.82h0.6v0.6h-0.6zM337.74 94.63h0.6v0.6h-0.6zM325.12 93.39h0.6v0.6h-0.6zM330.39 79.13h0.6v0.6h-0.6zM325.85 94.3h0.6v0.6h-0.6zM326.68 93.64h0.6v0.6h-0.6zM333.9 99.13h0.6v0.6h-0.6zM334.93 97.71h0.6v0.6h-0.6zM327.77 92.85h0.6v0.6h-0.6zM327.87 90.49h0.6v0.6h-0.6zM328.42 79.2h0.6v0.6h-0.6zM327.5 92.81h0.6v0.6h-0.6zM323.66 92.81h0.6v0.6h-0.6zM332.59 91.68h0.6v0.6h-0.6zM341.96 72.15h0.6v0.6h-0.6zM328.26 78.4h0.6v0.6h-0.6zM314.49 94.02h0.6v0.6h-0.6zM332.61 90.58h0.6v0.6h-0.6zM332.81 75.06h0.6v0.6h-0.6zM334.61 95.98h0.6v0.6h-0.6zM329.64 88.3h0.6v0.6h-0.6zM333.33 89.12h0.6v0.6h-0.6zM330.84 88.92h0.6v0.6h-0.6zM316.02 92.75h0.6v0.6h-0.6zM330.71 99.04h0.6v0.6h-0.6zM324.24 92.74h0.6v0.6h-0.6zM333.2 94.16h0.6v0.6h-0.6zM324.05 77.63h0.6v0.6h-0.6zM334.64 105.24h0.6v0.6h-0.6zM335.03 99.51h0.6v0.6h-0.6zM325.79 87.29h0.6v0.6h-0.6zM334.83 85.71h0.6v0.6h-0.6zM318.62 85.02h0.6v0.6h-0.6zM325.38 87.17h0.6v0.6h-0.6zM330.89 87.01h0.6v0.6h-0.6zM337.36 92.37h0.6v0.6h-0.6zM322.98 103.47h0.6v0.6h-0.6zM326 94.77h0.6v0.6h-0.6zM329.42 90.48h0.6v0.6h-0.6zM331.45 87.46h0.6v0.6h-0.6zM318.43 75.34h0.6v0.6h-0.6zM321.9 86.93h0.6v0.6h-0.6zM329.36 93.44h0.6v0.6h-0.6zM332.84 93.96h0.6v0.6h-0.6zM324.74 87.33h0.6v0.6h-0.6zM316.79 91.65h0.6v0.6h-0.6zM332.41 97.24h0.6v0.6h-0.6zM328.77 91.61h0.6v0.6h-0.6zM335.12 93.12h0.6v0.6h-0.6zM333.93 97.66h0.6v0.6h-0.6zM330.78 103.45h0.6v0.6h-0.6zM326.06 90.13h0.6v0.6h-0.6zM324.65 86.62h0.6v0.6h-0.6zM338.84 107.07h0.6v0.6h-0.6zM329.64 97.55h0.6v0.6h-0.6zM336.55 99.46h0.6v0.6h-0.6zM336.73 82.9h0.6v0.6h-0.6zM325.66 96.62h0.6v0.6h-0.6zM338.11 93.83h0.6v0.6h-0.6zM324.35 90.16h0.6v0.6h-0.6zM325.54 86.13h0.6v0.6h-0.6zM338.51 88h0.6v0.6h-0.6zM336.61 95.69h0.6v0.6h-0.6zM325.83 96.28h0.6v0.6h-0.6zM339.23 97.98h0.6v0.6h-0.6zM337.07 93.78h0.6v0.6h-0.6zM332.6 91.39h0.6v0.6h-0.6zM332.06 103.4h0.6v0.6h-0.6zM320.91 92.5h0.6v0.6h-0.6zM330.94 88.43h0.6v0.6h-0.6zM327.65 99.3h0.6v0.6h-0.6zM341.51 98.04h0.6v0.6h-0.6zM331.46 80.59h0.6v0.6h-0.6zM341.07 93.62h0.6v0.6h-0.6zM329.3 84.05h0.6v0.6h-0.6zM329.16 84.23h0.6v0.6h-0.6zM329.93 96.73h0.6v0.6h-0.6zM329.69 95.24h0.6v0.6h-0.6zM324.39 104.44h0.6v0.6h-0.6zM325.58 78.45h0.6v0.6h-0.6zM328.37 86.89h0.6v0.6h-0.6zM323.44 90.16h0.6v0.6h-0.6zM331.25 83.55h0.6v0.6h-0.6zM328.67 104.41h0.6v0.6h-0.6zM333.6 91.78h0.6v0.6h-0.6zM330.27 92.04h0.6v0.6h-0.6zM329.21 98.86h0.6v0.6h-0.6zM328.94 73.76h0.6v0.6h-0.6zM329.37 85.88h0.6v0.6h-0.6zM333.41 88.12h0.6v0.6h-0.6zM323.22 84h0.6v0.6h-0.6zM321.03 73.84h0.6v0.6h-0.6zM318.23 95.92h0.6v0.6h-0.6zM325.67 78.05h0.6v0.6h-0.6zM320.6 97.94h0.6v0.6h-0.6zM324.85 90.07h0.6v0.6h-0.6zM331.48 103.85h0.6v0.6h-0.6zM341.15 101.26h0.6v0.6h-0.6zM330.36 94.47h0.6v0.6h-0.6zM340.31 104.43h0.6v0.6h-0.6zM327.64 96.66h0.6v0.6h-0.6zM331.22 93.42h0.6v0.6h-0.6zM326.5 82.39h0.6v0.6h-0.6zM326.3 80.65h0.6v0.6h-0.6zM336.84 97.29h0.6v0.6h-0.6zM322.26 104.17h0.6v0.6h-0.6zM334.85 77.73h0.6v0.6h-0.6zM340.55 99.48h0.6v0.6h-0.6zM341.89 83.15h0.6v0.6h-0.6zM332.68 96.38h0.6v0.6h-0.6zM330.71 94.37h0.6v0.6h-0.6zM335.82 81.04h0.6v0.6h-0.6zM322.05 81.85h0.6v0.6h-0.6zM326.15 88.16h0.6v0.6h-0.6zM331.7 95.13h0.6v0.6h-0.6zM329.69 87.59h0.6v0.6h-0.6zM326.85 100.62h0.6v0.6h-0.6zM334.08 93.81h0.6v0.6h-0.6zM327.56 105.42h0.6v0.6h-0.6zM325.94 98.19h0.6v0.6h-0.6zM336.42 90.88h0.6v0.6h-0.6zM334.45 84.07h0.6v0.6h-0.6zM335.58 94.6h0.6v0.6h-0.6zM319.98 98.36h0.6v0.6h-0.6zM324.15 103.25h0.6v0.6h-0.6zM325.43 91.68h0.6v0.6h-0.6zM331.2 90.34h0.6v0.6h-0.6zM331.06 88.57h0.6v0.6h-0.6zM333.53 93.04h0.6v0.6h-0.6zM330.77 70.98h0.6v0.6h-0.6zM336.47 93.25h0.6v0.6h-0.6zM318.8 93.76h0.6v0.6h-0.6zM332.3 101.57h0.6v0.6h-0.6zM323 105.38h0.6v0.6h-0.6zM328.62 98.44h0.6v0.6h-0.6zM327.3 84.07h0.6v0.6h-0.6zM336.08 100.25h0.6v0.6h-0.6zM338.73 99.86h0.6v0.6h-0.6zM326.06 79.7h0.6v0.6h-0.6zM325.6 87.6h0.6v0.6h-0.6zM324.61 97.66h0.6v0.6h-0.6zM331.47 90.84h0.6v0.6h-0.6zM330.54 91.83h0.6v0.6h-0.6zM330.78 99.02h0.6v0.6h-0.6zM335.26 87.51h0.6v0.6h-0.6zM320.46 104.42h0.6v0.6h-0.6zM330.19 101.85h0.6v0.6h-0.6zM319.64 90.36h0.6v0.6h-0.6zM329.66 81.47h0.6v0.6h-0.6zM326.4 98.8h0.6v0.6h-0.6zM335.97 105.75h0.6v0.6h-0.6zM324.32 81.79h0.6v0.6h-0.6zM332.62 100.52h0.6v0.6h-0.6zM330.66 82.59h0.6v0.6h-0.6zM334.19 99.34h0.6v0.6h-0.6zM332.82 89.1h0.6v0.6h-0.6zM331.32 99.33h0.6v0.6h-0.6zM326.15 78.25h0.6v0.6h-0.6zM331.47 96.85h0.6v0.6h-0.6zM329.58 100.11h0.6v0.6h-0.6zM325.98 92.34h0.6v0.6h-0.6zM327.67 97.57h0.6v0.6h-0.6zM339.07 90.99h0.6v0.6h-0.6zM341.83 105.23h0.6v0.6h-0.6zM334.24 97.7h0.6v0.6h-0.6zM340.12 91.56h0.6v0.6h-0.6zM328.83 84.5h0.6v0.6h-0.6zM332.34 103.76h0.6v0.6h-0.6zM332.69 96.38h0.6v0.6h-0.6zM328.3 94.36h0.6v0.6h-0.6zM320.95 101.39h0.6v0.6h-0.6zM327.04 84.16h0.6v0.6h-0.6zM324.99 86.4h0.6v0.6h-0.6zM334.63 101.47h0.6v0.6h-0.6zM321.35 100.41h0.6v0.6h-0.6zM334.83 88.37h0.6v0.6h-0.6zM320.58 87.04h0.6v0.6h-0.6zM325.7 95.74h0.6v0.6h-0.6zM327.35 76.77h0.6v0.6h-0.6zM330.9 80.73h0.6v0.6h-0.6zM334.93 83.35h0.6v0.6h-0.6zM325.34 86.17h0.6v0.6h-0.6zM326.24 103.38h0.6v0.6h-0.6zM334.61 97.81h0.6v0.6h-0.6zM331.42 80.62h0.6v0.6h-0.6zM326.38 88.59h0.6v0.6h-0.6zM323.64 97.07h0.6v0.6h-0.6zM325.05 87.32h0.6v0.6h-0.6zM323.23 76.54h0.6v0.6h-0.6zM333.07 103.65h0.6v0.6h-0.6zM330.55 85.19h0.6v0.6h-0.6zM313.27 94.38h0.6v0.6h-0.6zM336.8 95.38h0.6v0.6h-0.6zM335.06 104.83h0.6v0.6h-0.6zM336.26 89.47h0.6v0.6h-0.6zM335.81 99.21h0.6v0.6h-0.6zM320.28 89.76h0.6v0.6h-0.6zM320.96 92.13h0.6v0.6h-0.6zM332.97 84.46h0.6v0.6h-0.6zM317.17 103.39h0.6v0.6h-0.6zM331.76 104.77h0.6v0.6h-0.6zM321.56 101.48h0.6v0.6h-0.6zM328.24 95.15h0.6v0.6h-0.6zM328.58 100.99h0.6v0.6h-0.6zM335.73 93.7h0.6v0.6h-0.6zM321.35 98.93h0.6v0.6h-0.6zM326.68 98.03h0.6v0.6h-0.6zM331.08 105.99h0.6v0.6h-0.6zM336.33 89.39h0.6v0.6h-0.6zM331.59 107.11h0.6v0.6h-0.6zM326.28 96.47h0.6v0.6h-0.6zM336.64 103.06h0.6v0.6h-0.6zM332.61 82.44h0.6v0.6h-0.6zM321.93 94.98h0.6v0.6h-0.6zM324.33 102.1h0.6v0.6h-0.6zM334.12 79.63h0.6v0.6h-0.6zM324.59 94.33h0.6v0.6h-0.6zM326.54 91.76h0.6v0.6h-0.6zM332.32 86.52h0.6v0.6h-0.6zM332.3 87.91h0.6v0.6h-0.6zM326.23 97.29h0.6v0.6h-0.6zM326.06 95.3h0.6v0.6h-0.6zM339.1 93.22h0.6v0.6h-0.6zM328.62 98.88h0.6v0.6h-0.6zM327.31 101.66h0.6v0.6h-0.6zM321.8 97.95h0.6v0.6h-0.6zM326.43 86.61h0.6v0.6h-0.6zM340.12 86.2h0.6v0.6h-0.6zM340.04 98.27h0.6v0.6h-0.6zM338.22 85.19h0.6v0.6h-0.6zM336.69 104.65h0.6v0.6h-0.6zM328.8 91.97h0.6v0.6h-0.6zM344.24 94.42h0.6v0.6h-0.6zM326.96 87.96h0.6v0.6h-0.6zM332.18 95.64h0.6v0.6h-0.6zM330.57 106.77h0.6v0.6h-0.6zM327.53 96.79h0.6v0.6h-0.6zM338.26 84.97h0.6v0.6h-0.6zM321.37 84.22h0.6v0.6h-0.6zM323.27 78.23h0.6v0.6h-0.6zM332.22 78.15h0.6v0.6h-0.6zM332.49 104.63h0.6v0.6h-0.6zM319.81 90.47h0.6v0.6h-0.6zM317.99 99.23h0.6v0.6h-0.6zM325.08 90.87h0.6v0.6h-0.6zM329.83 97.36h0.6v0.6h-0.6zM327.42 93.12h0.6v0.6h-0.6zM326.22 93.92h0.6v0.6h-0.6zM322.46 93.51h0.6v0.6h-0.6zM317.91 89.08h0.6v0.6h-0.6zM340.99 93.64h0.6v0.6h-0.6zM321.94 95.06h0.6v0.6h-0.6zM323.67 79.79h0.6v0.6h-0.6zM325.08 98.89h0.6v0.6h-0.6zM331.8 92.22h0.6v0.6h-0.6zM323.94 84.37h0.6v0.6h-0.6zM337.6 94.96h0.6v0.6h-0.6zM323.79 76.11h0.6v0.6h-0.6zM322.61 92.39h0.6v0.6h-0.6zM330.76 91.74h0.6v0.6h-0.6zM327.83 82.01h0.6v0.6h-0.6zM323.19 106.51h0.6v0.6h-0.6zM324.96 99.76h0.6v0.6h-0.6zM319.34 90.81h0.6v0.6h-0.6zM331.07 101.29h0.6v0.6h-0.6zM322.76 97.76h0.6v0.6h-0.6zM331.82 87.1h0.6v0.6h-0.6zM332.36 85.82h0.6v0.6h-0.6zM324.72 92.85h0.6v0.6h-0.6zM313.22 92.12h0.6v0.6h-0.6zM323.5 81.3h0.6v0.6h-0.6zM326.95 99.1h0.6v0.6h-0.6zM327.07 103.13h0.6v0.6h-0.6zM322.54 82.5h0.6v0.6h-0.6zM338.81 96.19h0.6v0.6h-0.6zM335.17 86.39h0.6v0.6h-0.6zM334.33 95.08h0.6v0.6h-0.6zM333.39 93.2h0.6v0.6h-0.6zM336.74 87.81h0.6v0.6h-0.6zM323.72 81.18h0.6v0.6h-0.6zM336.46 87.09h0.6v0.6h-0.6zM323.24 85.48h0.6v0.6h-0.6zM326.83 82.83h0.6v0.6h-0.6zM327.76 87.98h0.6v0.6h-0.6zM326.19 85.32h0.6v0.6h-0.6zM329.72 89.31h0.6v0.6h-0.6zM330.19 94.99h0.6v0.6h-0.6zM331.54 75.49h0.6v0.6h-0.6zM326.29 86.63h0.6v0.6h-0.6zM334.15 80.38h0.6v0.6h-0.6zM325.21 90.65h0.6v0.6h-0.6zM327.48 100.93h0.6v0.6h-0.6zM326.84 100.72h0.6v0.6h-0.6zM320.71 78.5h0.6v0.6h-0.6zM336.82 96.49h0.6v0.6h-0.6zM332.43 93.99h0.6v0.6h-0.6zM332.41 83.27h0.6v0.6h-0.6zM335.19 88.74h0.6v0.6h-0.6zM335.41 93.7h0.6v0.6h-0.6zM317.66 82.7h0.6v0.6h-0.6zM336.27 91.91h0.6v0.6h-0.6zM327.13 94.94h0.6v0.6h-0.6zM326.95 88.64h0.6v0.6h-0.6z" fill="#000" fill-opacity="0.6"/>
<path d="M341.36 91.87h0.6v0.6h-0.6zM346.31 91.27h0.6v0.6h-0.6zM347.58 101.82h0.6v0.6h-0.6zM347.01 97.37h0.6v0.6h-0.6zM341.46 91.82h0.6v0.6h-0.6zM340.5 86.61h0.6v0.6h-0.6zM340.77 87.16h0.6v0.6h-0.6zM346.74 94.21h0.6v0.6h-0.6zM339.44 79.51h0.6v0.6h-0.6zM340.81 88.5h0.6v0.6h-0.6zM337.2 84.18h0.6v0.6h-0.6zM333.12 94.41h0.6v0.6h-0.6zM340.77 106.49h0.6v0.6h-0.6zM340.89 90.11h0.6v0.6h-0.6zM346.05 91.8h0.6v0.6h-0.6zM341.59 88.77h0.6v0.6h-0.6zM338.88 100h0.6v0.6h-0.6zM344.5 101.3h0.6v0.6h-0.6zM339.78 91.18h0.6v0.6h-0.6zM337.92 96.8h0.6v0.6h-0.6zM336.12 94.39h0.6v0.6h-0.6zM344.84 99.47h0.6v0.6h-0.6zM337.71 97.54h0.6v0.6h-0.6zM338.5 86.46h0.6v0.6h-0.6zM336.37 97.93h0.6v0.6h-0.6zM346.77 87.43h0.6v0.6h-0.6zM338.34 88.97h0.6v0.6h-0.6zM349.78 97.03h0.6v0.6h-0.6zM339.1 80.23h0.6v0.6h-0.6zM338.65 98.12h0.6v0.6h-0.6zM347.54 89.4h0.6v0.6h-0.6zM338.58 87.94h0.6v0.6h-0.6zM334.4 96.45h0.6v0.6h-0.6zM337.2 97.38h0.6v0.6h-0.6zM335.02 83.38h0.6v0.6h-0.6zM342.01 86.42h0.6v0.6h-0.6zM343.73 91.05h0.6v0.6h-0.6zM336.89 94.73h0.6v0.6h-0.6zM343.95 79.52h0.6v0.6h-0.6zM347.39 93.98h0.6v0.6h-0.6zM343.66 79.84h0.6v0.6h-0.6zM338.48 88.9h0.6v0.6h-0.6zM344.77 82.24h0.6v0.6h-0.6zM337.91 78.82h0.6v0.6h-0.6zM340.16 93.08h0.6v0.6h-0.6zM335.1 87.45h0.6v0.6h-0.6zM342.79 100.51h0.6v0.6h-0.6zM343.32 89.18h0.6v0.6h-0.6zM336.88 85.38h0.6v0.6h-0.6zM338.68 91.88h0.6v0.6h-0.6zM340.83 101h0.6v0.6h-0.6zM342.01 84.57h0.6v0.6h-0.6zM346.41 96.69h0.6v0.6h-0.6zM341.35 86.67h0.6v0.6h-0.6zM334.45 84.87h0.6v0.6h-0.6zM344.19 86.18h0.6v0.6h-0.6zM336.38 92.17h0.6v0.6h-0.6zM341.85 94.64h0.6v0.6h-0.6zM343.29 99.45h0.6v0.6h-0.6zM338.06 96.87h0.6v0.6h-0.6zM337.54 95.16h0.6v0.6h-0.6zM341.63 92.46h0.6v0.6h-0.6zM344.39 90.9h0.6v0.6h-0.6zM344.89 96.25h0.6v0.6h-0.6zM341.47 87.6h0.6v0.6h-0.6zM338.36 87.83h0.6v0.6h-0.6zM340.29 90.85h0.6v0.6h-0.6zM351.43 94.83h0.6v0.6h-0.6zM343.69 85.84h0.6v0.6h-0.6zM338.51 89.09h0.6v0.6h-0.6zM341.67 84.78h0.6v0.6h-0.6zM346.64 87.62h0.6v0.6h-0.6zM344.77 76.98h0.6v0.6h-0.6zM340.98 92.67h0.6v0.6h-0.6zM341.67 94.61h0.6v0.6h-0.6zM341.98 91.97h0.6v0.6h-0.6zM334.38 86.72h0.6v0.6h-0.6zM332.8 94.77h0.6v0.6h-0.6zM342.08 89.83h0.6v0.6h-0.6zM338.13 87.51h0.6v0.6h-0.6zM347.46 101.39h0.6v0.6h-0.6zM340.8 98.73h0.6v0.6h-0.6zM335.44 79.39h0.6v0.6h-0.6zM339.31 85.75h0.6v0.6h-0.6zM339.04 92.13h0.6v0.6h-0.6zM351.59 87.04h0.6v0.6h-0.6zM341.17 92.66h0.6v0.6h-0.6zM340.88 96.59h0.6v0.6h-0.6zM347.21 83.54h0.6v0.6h-0.6zM341.57 89.41h0.6v0.6h-0.6zM342.25 81.81h0.6v0.6h-0.6zM334.85 77.1h0.6v0.6h-0.6zM342.84 92.15h0.6v0.6h-0.6zM341.26 76.8h0.6v0.6h-0.6zM339.69 86.47h0.6v0.6h-0.6zM336.05 85.51h0.6v0.6h-0.6zM343.44 94.26h0.6v0.6h-0.6zM340.92 94.09h0.6v0.6h-0.6zM338.89 91.43h0.6v0.6h-0.6zM341.14 94.33h0.6v0.6h-0.6zM340.76 90.14h0.6v0.6h-0.6zM340.53 87.13h0.6v0.6h-0.6zM348.82 94.09h0.6v0.6h-0.6zM342.5 104.75h0.6v0.6h-0.6zM345.91 81.66h0.6v0.6h-0.6zM343.43 96.03h0.6v0.6h-0.6zM347.6 98.89h0.6v0.6h-0.6zM343.7 83.94h0.6v0.6h-0.6zM337.95 92.61h0.6v0.6h-0.6zM342.77 84.87h0.6v0.6h-0.6zM339.65 88.6h0.6v0.6h-0.6zM341.21 93.02h0.6v0.6h-0.6zM340 83.58h0.6v0.6h-0.6zM345.35 100.58h0.6v0.6h-0.6zM340.63 97.15h0.6v0.6h-0.6zM342.55 94.96h0.6v0.6h-0.6zM342.69 86.42h0.6v0.6h-0.6zM343.01 97.06h0.6v0.6h-0.6zM337.86 102.8h0.6v0.6h-0.6zM348.31 101.94h0.6v0.6h-0.6zM347.96 95.45h0.6v0.6h-0.6zM339.82 87.4h0.6v0.6h-0.6zM338.15 91.7h0.6v0.6h-0.6zM340.89 95.02h0.6v0.6h-0.6zM333.93 104.87h0.6v0.6h-0.6zM348.97 90.84h0.6v0.6h-0.6zM343.37 93.85h0.6v0.6h-0.6zM341.96 89.75h0.6v0.6h-0.6zM340.57 86.05h0.6v0.6h-0.6zM341.62 90.86h0.6v0.6h-0.6zM342.12 85.87h0.6v0.6h-0.6zM341.14 91.29h0.6v0.6h-0.6zM343.11 84.62h0.6v0.6h-0.6zM342.47 96.9h0.6v0.6h-0.6zM343.09 88.79h0.6v0.6h-0.6zM339.28 89.58h0.6v0.6h-0.6zM343.55 100.32h0.6v0.6h-0.6zM340.45 87.14h0.6v0.6h-0.6zM342.32 92.23h0.6v0.6h-0.6zM337.82 86.58h0.6v0.6h-0.6zM340.64 95.03h0.6v0.6h-0.6zM336.82 84.89h0.6v0.6h-0.6zM342.75 83.65h0.6v0.6h-0.6zM341.38 93.11h0.6v0.6h-0.6zM340.61 84.89h0.6v0.6h-0.6zM340.79 89.01h0.6v0.6h-0.6zM342.18 85.97h0.6v0.6h-0.6zM344.82 80.95h0.6v0.6h-0.6zM340.38 91.05h0.6v0.6h-0.6zM344.37 87.35h0.6v0.6h-0.6zM342.91 87.6h0.6v0.6h-0.6zM343.58 101.42h0.6v0.6h-0.6zM339.6 93.66h0.6v0.6h-0.6zM337.75 96.84h0.6v0.6h-0.6zM345.24 91.21h0.6v0.6h-0.6zM337.03 93.41h0.6v0.6h-0.6zM345.02 97.54h0.6v0.6h-0.6zM343.85 80.02h0.6v0.6h-0.6zM338.62 99.53h0.6v0.6h-0.6zM336.71 97.79h0.6v0.6h-0.6zM347.59 95.57h0.6v0.6h-0.6zM344.92 89h0.6v0.6h-0.6zM336.71 90.38h0.6v0.6h-0.6zM340.3 90.71h0.6v0.6h-0.6zM343.44 90.13h0.6v0.6h-0.6zM341.67 93.54h0.6v0.6h-0.6zM340.98 102.06h0.6v0.6h-0.6zM342.55 91.51h0.6v0.6h-0.6zM340.27 87.25h0.6v0.6h-0.6zM345.7 91.9h0.6v0.6h-0.6zM337.22 87.63h0.6v0.6h-0.6zM340.52 88.33h0.6v0.6h-0.6zM344.8 84.03h0.6v0.6h-0.6zM342.72 91.86h0.6v0.6h-0.6zM336.88 91.28h0.6v0.6h-0.6zM340.67 94.01h0.6v0.6h-0.6zM339.42 92.82h0.6v0.6h-0.6zM335.17 84.5h0.6v0.6h-0.6zM343.75 97.25h0.6v0.6h-0.6zM340.95 87.41h0.6v0.6h-0.6zM344.79 78.45h0.6v0.6h-0.6zM338.2 95.03h0.6v0.6h-0.6zM343.28 84.81h0.6v0.6h-0.6zM334.39 99.71h0.6v0.6h-0.6zM341.54 85.62h0.6v0.6h-0.6zM341.19 96.41h0.6v0.6h-0.6zM331.93 97.66h0.6v0.6h-0.6zM343.59 78.51h0.6v0.6h-0.6zM343.7 80.32h0.6v0.6h-0.6zM344.99 93.39h0.6v0.6h-0.6zM348.88 87.34h0.6v0.6h-0.6zM341.02 97.28h0.6v0.6h-0.6zM338.76 86.77h0.6v0.6h-0.6zM339.7 90.56h0.6v0.6h-0.6zM337.21 93.91h0.6v0.6h-0.6zM342.9 91.43h0.6v0.6h-0.6zM346.95 89.03h0.6v0.6h-0.6zM345.57 87.72h0.6v0.6h-0.6zM343.65 79.39h0.6v0.6h-0.6zM341.69 89.95h0.6v0.6h-0.6zM339.27 87.34h0.6v0.6h-0.6zM339.78 86.68h0.6v0.6h-0.6zM333.32 87.42h0.6v0.6h-0.6zM339.08 87.85h0.6v0.6h-0.6zM337.3 90.19h0.6v0.6h-0.6zM343.75 89.5h0.6v0.6h-0.6zM339.28 99.14h0.6v0.6h-0.6zM344.42 96.53h0.6v0.6h-0.6zM345.04 89.04h0.6v0.6h-0.6zM340.55 97.68h0.6v0.6h-0.6zM339.06 90.28h0.6v0.6h-0.6zM342.32 93.24h0.6v0.6h-0.6zM340.03 96.9h0.6v0.6h-0.6zM340.38 95.35h0.6v0.6h-0.6zM344.75 94.96h0.6v0.6h-0.6zM343.57 84.04h0.6v0.6h-0.6zM336.41 87.29h0.6v0.6h-0.6zM342.66 100h0.6v0.6h-0.6zM336.72 92.84h0.6v0.6h-0.6zM338.01 86.61h0.6v0.6h-0.6zM340.03 95.15h0.6v0.6h-0.6zM341.75 98.08h0.6v0.6h-0.6zM337.55 96.34h0.6v0.6h-0.6zM344.26 91.42h0.6v0.6h-0.6zM342.67 87.62h0.6v0.6h-0.6zM337.19 88.57h0.6v0.6h-0.6zM339.3 100.9h0.6v0.6h-0.6zM341.71 92.87h0.6v0.6h-0.6zM343.6 86.33h0.6v0.6h-0.6zM344.21 93.26h0.6v0.6h-0.6zM335.69 94.61h0.6v0.6h-0.6zM342.93 93.72h0.6v0.6h-0.6zM346.55 88.51h0.6v0.6h-0.6zM342.79 95.49h0.6v0.6h-0.6zM337.85 98.2h0.6v0.6h-0.6zM335.92 83.2h0.6v0.6h-0.6zM342.83 84.47h0.6v0.6h-0.6zM340.59 81.13h0.6v0.6h-0.6zM341.24 84.2h0.6v0.6h-0.6zM342.2 81.8h0.6v0.6h-0.6zM342.57 89.4h0.6v0.6h-0.6zM341.22 90.59h0.6v0.6h-0.6zM341.46 83.07h0.6v0.6h-0.6zM332.02 91.2h0.6v0.6h-0.6zM337.72 88.27h0.6v0.6h-0.6zM342.49 79.09h0.6v0.6h-0.6zM338.33 87.34h0.6v0.6h-0.6zM337.3 92.96h0.6v0.6h-0.6zM340.51 86.08h0.6v0.6h-0.6z" fill="#000" fill-opacity="0.55"/>
<path d="M313.35 100.65h0.6v0.6h-0.6zM314.39 99.1h0.6v0.6h-0.6zM317.94 81.74h0.6v0.6h-0.6zM313.03 95.02h0.6v0.6h-0.6zM317.59 100.46h0.6v0.6h-0.6zM319.07 102.24h0.6v0.6h-0.6zM315.3 93.53h0.6v0.6h-0.6zM318.98 92.02h0.6v0.6h-0.6zM319.88 83.88h0.6v0.6h-0.6zM318.59 93.79h0.6v0.6h-0.6zM317.5 95.15h0.6v0.6h-0.6zM313.05 91.74h0.6v0.6h-0.6zM321.34 89.21h0.6v0.6h-0.6zM312.66 94.08h0.6v0.6h-0.6zM315.24 88.61h0.6v0.6h-0.6zM313.81 102.33h0.6v0.6h-0.6zM314.76 87.35h0.6v0.6h-0.6zM319.02 98.95h0.6v0.6h-0.6zM313.16 100.24h0.6v0.6h-0.6zM320.1 93.21h0.6v0.6h-0.6zM312.33 98.6h0.6v0.6h-0.6zM319.43 94.84h0.6v0.6h-0.6zM317.84 100.38h0.6v0.6h-0.6zM322.43 93.23h0.6v0.6h-0.6zM314.96 94.73h0.6v0.6h-0.6zM320.36 88.41h0.6v0.6h-0.6zM320.68 75.76h0.6v0.6h-0.6zM319.05 90.27h0.6v0.6h-0.6zM317.97 99.82h0.6v0.6h-0.6zM312.72 94.4h0.6v0.6h-0.6zM317.27 99.11h0.6v0.6h-0.6zM313.52 88.06h0.6v0.6h-0.6zM315.88 93.44h0.6v0.6h-0.6zM314.79 105.05h0.6v0.6h-0.6zM319.23 95.15h0.6v0.6h-0.6zM318.83 87.22h0.6v0.6h-0.6zM315.46 90.97h0.6v0.6h-0.6zM312.44 95.12h0.6v0.6h-0.6zM316.04 105.05h0.6v0.6h-0.6zM313.56 91.75h0.6v0.6h-0.6zM317.85 97.83h0.6v0.6h-0.6zM316.59 91.68h0.6v0.6h-0.6zM318.08 97.52h0.6v0.6h-0.6zM316.97 95.42h0.6v0.6h-0.6zM316.86 88.87h0.6v0.6h-0.6zM315.86 88.61h0.6v0.6h-0.6zM317.72 99.82h0.6v0.6h-0.6zM322.12 103.86h0.6v0.6h-0.6zM313.92 91.8h0.6v0.6h-0.6zM313.5 97.14h0.6v0.6h-0.6zM322.84 99.96h0.6v0.6h-0.6zM312.36 98.61h0.6v0.6h-0.6zM316.5 97.1h0.6v0.6h-0.6zM322.2 89.21h0.6v0.6h-0.6zM317.6 89.55h0.6v0.6h-0.6zM316.64 101.95h0.6v0.6h-0.6zM316.05 90.14h0.6v0.6h-0.6zM316.58 99.32h0.6v0.6h-0.6zM315.21 98.49h0.6v0.6h-0.6zM319.11 93.97h0.6v0.6h-0.6zM315.04 93.7h0.6v0.6h-0.6zM313.41 93.55h0.6v0.6h-0.6zM315.53 96.47h0.6v0.6h-0.6zM320.78 104.15h0.6v0.6h-0.6zM315.07 99.22h0.6v0.6h-0.6zM317.44 100.33h0.6v0.6h-0.6zM316.57 96.86h0.6v0.6h-0.6zM315 89.51h0.6v0.6h-0.6zM319.29 104.09h0.6v0.6h-0.6zM318.62 98.05h0.6v0.6h-0.6zM317.35 91.85h0.6v0.6h-0.6zM317.14 91.12h0.6v0.6h-0.6zM313.41 103.95h0.6v0.6h-0.6zM314.2 94.85h0.6v0.6h-0.6zM314.88 96.09h0.6v0.6h-0.6zM315.83 89.76h0.6v0.6h-0.6zM319.94 89.51h0.6v0.6h-0.6zM314.88 98.88h0.6v0.6h-0.6zM314.78 91.96h0.6v0.6h-0.6zM317.64 92.43h0.6v0.6h-0.6zM312.51 94.28h0.6v0.6h-0.6zM315.8 106.93h0.6v0.6h-0.6zM312.99 101.79h0.6v0.6h-0.6zM313.98 92.51h0.6v0.6h-0.6zM315.45 96.89h0.6v0.6h-0.6zM319.26 107.25h0.6v0.6h-0.6zM314.46 104.31h0.6v0.6h-0.6zM319.69 100.69h0.6v0.6h-0.6zM314.07 101.3h0.6v0.6h-0.6zM316.16 97.47h0.6v0.6h-0.6zM315.64 99.65h0.6v0.6h-0.6zM320.07 102.92h0.6v0.6h-0.6zM315.84 101.97h0.6v0.6h-0.6zM321.15 88.45h0.6v0.6h-0.6zM321.21 85.65h0.6v0.6h-0.6zM318.24 99.16h0.6v0.6h-0.6zM321.25 96.95h0.6v0.6h-0.6zM314.96 89.42h0.6v0.6h-0.6zM312.5 100.36h0.6v0.6h-0.6zM315.74 89.98h0.6v0.6h-0.6zM318.2 89.65h0.6v0.6h-0.6zM315.1 91.79h0.6v0.6h-0.6zM321.79 105.24h0.6v0.6h-0.6zM315.99 84h0.6v0.6h-0.6zM317.38 95.5h0.6v0.6h-0.6zM317.62 98.96h0.6v0.6h-0.6zM315.47 101.48h0.6v0.6h-0.6zM319.18 96.47h0.6v0.6h-0.6zM315.2 91.64h0.6v0.6h-0.6zM318.72 87.3h0.6v0.6h-0.6zM315.99 89.75h0.6v0.6h-0.6zM316.42 95.25h0.6v0.6h-0.6zM319.3 84.54h0.6v0.6h-0.6zM316.29 97.02h0.6v0.6h-0.6zM319.16 87.41h0.6v0.6h-0.6zM318.79 96.54h0.6v0.6h-0.6zM320.84 102.97h0.6v0.6h-0.6zM316.5 92.03h0.6v0.6h-0.6zM315.41 88.42h0.6v0.6h-0.6zM316.41 81.85h0.6v0.6h-0.6zM316.23 97.98h0.6v0.6h-0.6zM319.67 92.57h0.6v0.6h-0.6zM320.94 90.44h0.6v0.6h-0.6zM316.07 81.86h0.6v0.6h-0.6zM314.06 89.46h0.6v0.6h-0.6zM321.17 98.63h0.6v0.6h-0.6zM313.05 98.65h0.6v0.6h-0.6zM318 93.4h0.6v0.6h-0.6zM316.57 92.91h0.6v0.6h-0.6zM314.81 82.88h0.6v0.6h-0.6zM316.22 103.78h0.6v0.6h-0.6zM320.97 93.1h0.6v0.6h-0.6zM314.17 93.55h0.6v0.6h-0.6zM319.3 97.4h0.6v0.6h-0.6zM314.68 97.47h0.6v0.6h-0.6zM315.86 98.52h0.6v0.6h-0.6zM315.23 84.95h0.6v0.6h-0.6zM316.68 100.19h0.6v0.6h-0.6zM313.04 94.27h0.6v0.6h-0.6zM319.24 92.44h0.6v0.6h-0.6zM319.09 102.01h0.6v0.6h-0.6zM313.55 106.13h0.6v0.6h-0.6zM318.81 104.07h0.6v0.6h-0.6zM313.6 90.48h0.6v0.6h-0.6zM317.11 81.86h0.6v0.6h-0.6zM318.49 98.81h0.6v0.6h-0.6zM315.11 98.66h0.6v0.6h-0.6zM318.91 97.1h0.6v0.6h-0.6zM318.12 105.29h0.6v0.6h-0.6zM315.02 96.1h0.6v0.6h-0.6zM314.88 102.03h0.6v0.6h-0.6zM315.23 98.22h0.6v0.6h-0.6zM316.92 95.45h0.6v0.6h-0.6zM321.83 94.42h0.6v0.6h-0.6zM320.89 100.6h0.6v0.6h-0.6zM320.59 93.88h0.6v0.6h-0.6zM319.37 100.12h0.6v0.6h-0.6zM314.6 96.82h0.6v0.6h-0.6zM316.1 94.76h0.6v0.6h-0.6zM320.53 90.13h0.6v0.6h-0.6zM315.1 90.64h0.6v0.6h-0.6zM316.54 98.82h0.6v0.6h-0.6zM321.94 97.09h0.6v0.6h-0.6zM317.93 90.04h0.6v0.6h-0.6zM318.29 104.18h0.6v0.6h-0.6zM320.64 81.81h0.6v0.6h-0.6zM319.25 105.69h0.6v0.6h-0.6zM319.05 84.91h0.6v0.6h-0.6zM315.55 98.96h0.6v0.6h-0.6zM317.78 89.53h0.6v0.6h-0.6zM313.75 101.51h0.6v0.6h-0.6zM312.39 104.67h0.6v0.6h-0.6zM316.56 97.03h0.6v0.6h-0.6zM312.39 90.98h0.6v0.6h-0.6zM318.62 85.09h0.6v0.6h-0.6zM322.88 85.54h0.6v0.6h-0.6zM312.74 95.29h0.6v0.6h-0.6zM317.98 99.94h0.6v0.6h-0.6zM315.36 93.6h0.6v0.6h-0.6zM315.77 91.13h0.6v0.6h-0.6zM317.27 96.07h0.6v0.6h-0.6zM314.57 96.69h0.6v0.6h-0.6zM316.46 94.48h0.6v0.6h-0.6zM319.9 83.42h0.6v0.6h-0.6zM317.27 87.83h0.6v0.6h-0.6zM315.52 105.08h0.6v0.6h-0.6zM313.17 94.33h0.6v0.6h-0.6zM314.68 101.39h0.6v0.6h-0.6zM313.49 83.68h0.6v0.6h-0.6zM318.08 92.62h0.6v0.6h-0.6zM315.52 102.26h0.6v0.6h-0.6zM313.77 92.49h0.6v0.6h-0.6zM316.95 97.78h0.6v0.6h-0.6zM314.91 101.96h0.6v0.6h-0.6zM323.39 92.25h0.6v0.6h-0.6zM322.25 80.82h0.6v0.6h-0.6zM320.82 92.69h0.6v0.6h-0.6zM316.92 92.72h0.6v0.6h-0.6zM314.54 86.41h0.6v0.6h-0.6zM315.29 103.71h0.6v0.6h-0.6zM320 92.66h0.6v0.6h-0.6zM314.88 90.28h0.6v0.6h-0.6zM312.81 107.12h0.6v0.6h-0.6zM318.54 95.79h0.6v0.6h-0.6zM314.99 88.13h0.6v0.6h-0.6zM320.55 100.25h0.6v0.6h-0.6zM313.57 101.65h0.6v0.6h-0.6zM313.1 99.31h0.6v0.6h-0.6zM313.55 92.21h0.6v0.6h-0.6zM318.02 97.91h0.6v0.6h-0.6zM319.61 89.38h0.6v0.6h-0.6zM321.35 104.04h0.6v0.6h-0.6zM316.47 98.13h0.6v0.6h-0.6zM314.11 93.98h0.6v0.6h-0.6zM312.44 95.6h0.6v0.6h-0.6zM317.11 104.03h0.6v0.6h-0.6zM319.41 100.48h0.6v0.6h-0.6zM315.39 93.49h0.6v0.6h-0.6zM315.45 96.49h0.6v0.6h-0.6zM316.57 91.55h0.6v0.6h-0.6zM321.61 94.34h0.6v0.6h-0.6zM321.33 102.89h0.6v0.6h-0.6zM314.97 97.69h0.6v0.6h-0.6zM320.49 92.76h0.6v0.6h-0.6zM316.77 91.25h0.6v0.6h-0.6zM316.68 92.62h0.6v0.6h-0.6zM316.75 101.73h0.6v0.6h-0.6zM320.78 95.89h0.6v0.6h-0.6zM317.12 100.75h0.6v0.6h-0.6zM315.61 87.89h0.6v0.6h-0.6zM319.91 88.72h0.6v0.6h-0.6zM319.36 88.52h0.6v0.6h-0.6zM322.12 87.98h0.6v0.6h-0.6zM319.11 105.08h0.6v0.6h-0.6zM313.55 104.98h0.6v0.6h-0.6zM313.97 83.14h0.6v0.6h-0.6zM318.72 99.71h0.6v0.6h-0.6zM315.88 78.03h0.6v0.6h-0.6zM316.33 92.94h0.6v0.6h-0.6zM315.33 93.05h0.6v0.6h-0.6zM322.03 105.39h0.6v0.6h-0.6zM315.39 90.22h0.6v0.6h-0.6zM317.72 102.14h0.6v0.6h-0.6zM318.72 87.14h0.6v0.6h-0.6zM317 95.94h0.6v0.6h-0.6zM320.92 103.04h0.6v0.6h-0.6zM318.11 103.17h0.6v0.6h-0.6zM315.29 105.34h0.6v0.6h-0.6zM315.19 97.66h0.6v0.6h-0.6zM319.32 88.86h0.6v0.6h-0.6zM314.34 83.19h0.6v0.6h-0.6zM317.01 94.63h0.6v0.6h-0.6zM315.5 98.35h0.6v0.6h-0.6zM316.77 93.21h0.6v0.6h-0.6zM318.94 106.78h0.6v0.6h-0.6zM315.13 88.68h0.6v0.6h-0.6zM314.64 95.62h0.6v0.6h-0.6zM318.3 89.21h0.6v0.6h-0.6zM319.57 88.12h0.6v0.6h-0.6zM319.04 97.87h0.6v0.6h-0.6zM315.69 93.89h0.6v0.6h-0.6zM317.96 100.8h0.6v0.6h-0.6zM312.39 96.85h0.6v0.6h-0.6zM314.22 99.24h0.6v0.6h-0.6zM320.71 95.35h0.6v0.6h-0.6zM316.17 96.23h0.6v0.6h-0.6zM318.22 96.11h0.6v0.6h-0.6zM315.28 90.09h0.6v0.6h-0.6zM315.95 103.15h0.6v0.6h-0.6z" fill="#000" fill-opacity="0.5"/>
<path d="M325.99 78.38h0.6v0.6h-0.6zM314.07 69.89h0.6v0.6h-0.6zM328.98 76.76h0.6v0.6h-0.6zM319.09 71.47h0.6v0.6h-0.6zM335.11 76.57h0.6v0.6h-0.6zM322.98 72.13h0.6v0.6h-0.6zM324.09 76.17h0.6v0.6h-0.6zM332.12 73.85h0.6v0.6h-0.6zM335.73 78.26h0.6v0.6h-0.6zM323.16 77.92h0.6v0.6h-0.6zM327.95 73.82h0.6v0.6h-0.6zM324.6 73.54h0.6v0.6h-0.6zM322.34 73.45h0.6v0.6h-0.6zM331.94 78.7h0.6v0.6h-0.6zM318.13 78.22h0.6v0.6h-0.6zM322.12 74.29h0.6v0.6h-0.6zM327.13 77.62h0.6v0.6h-0.6zM325.42 76.31h0.6v0.6h-0.6zM338.7 80.87h0.6v0.6h-0.6zM321.48 74.47h0.6v0.6h-0.6zM323.47 73.82h0.6v0.6h-0.6zM328.27 77.2h0.6v0.6h-0.6zM325.37 77.1h0.6v0.6h-0.6zM327.4 73.46h0.6v0.6h-0.6zM332.46 77.43h0.6v0.6h-0.6zM334.45 77.62h0.6v0.6h-0.6zM330.34 77.99h0.6v0.6h-0.6zM314.14 67.78h0.6v0.6h-0.6zM320.51 76.32h0.6v0.6h-0.6zM316.75 73.8h0.6v0.6h-0.6zM332.99 79.42h0.6v0.6h-0.6zM331.46 76.76h0.6v0.6h-0.6zM327.28 76.58h0.6v0.6h-0.6zM329.25 78.36h0.6v0.6h-0.6zM326.89 74.51h0.6v0.6h-0.6zM324.2 75.73h0.6v0.6h-0.6zM319.51 70.42h0.6v0.6h-0.6zM325.69 74.33h0.6v0.6h-0.6zM327.95 70.87h0.6v0.6h-0.6zM325.85 75.02h0.6v0.6h-0.6zM333.06 74.33h0.6v0.6h-0.6zM325.52 76.39h0.6v0.6h-0.6zM329.27 79.38h0.6v0.6h-0.6zM333.89 76.58h0.6v0.6h-0.6zM331.14 76.96h0.6v0.6h-0.6zM322.11 77.22h0.6v0.6h-0.6zM324.74 73.33h0.6v0.6h-0.6zM325.92 73.81h0.6v0.6h-0.6zM332.62 79.03h0.6v0.6h-0.6zM334.71 79.93h0.6v0.6h-0.6zM323.46 76.75h0.6v0.6h-0.6zM324.32 73.97h0.6v0.6h-0.6zM326.57 75.91h0.6v0.6h-0.6zM334.34 77.68h0.6v0.6h-0.6zM329.41 76.9h0.6v0.6h-0.6zM321.54 71.55h0.6v0.6h-0.6zM326.03 76.45h0.6v0.6h-0.6zM328.88 77.74h0.6v0.6h-0.6zM328.08 75.5h0.6v0.6h-0.6zM330.5 75.32h0.6v0.6h-0.6zM320.53 72.73h0.6v0.6h-0.6zM320.19 72.21h0.6v0.6h-0.6zM323.88 73.61h0.6v0.6h-0.6zM327.83 74.67h0.6v0.6h-0.6zM326.45 72.23h0.6v0.6h-0.6zM328.91 74.93h0.6v0.6h-0.6zM331.69 72.01h0.6v0.6h-0.6zM323.02 74.92h0.6v0.6h-0.6zM314.65 70.32h0.6v0.6h-0.6zM327.93 76.59h0.6v0.6h-0.6zM319.3 73.4h0.6v0.6h-0.6zM329 74.78h0.6v0.6h-0.6zM331.54 77.71h0.6v0.6h-0.6zM327.92 75.43h0.6v0.6h-0.6zM330.38 77.55h0.6v0.6h-0.6zM333.29 79.45h0.6v0.6h-0.6zM324.34 74.47h0.6v0.6h-0.6zM332.7 77.52h0.6v0.6h-0.6zM329.19 77.96h0.6v0.6h-0.6zM328.2 71.64h0.6v0.6h-0.6zM328.06 76.87h0.6v0.6h-0.6zM328.77 75.13h0.6v0.6h-0.6zM334.11 78.56h0.6v0.6h-0.6zM324.66 73.57h0.6v0.6h-0.6zM330.21 75.01h0.6v0.6h-0.6zM320.67 77.64h0.6v0.6h-0.6zM333.8 80.91h0.6v0.6h-0.6zM334.43 80.21h0.6v0.6h-0.6zM317.56 74.72h0.6v0.6h-0.6zM333.83 79.75h0.6v0.6h-0.6zM316.06 74.22h0.6v0.6h-0.6zM335.22 78.26h0.6v0.6h-0.6zM327.63 77.87h0.6v0.6h-0.6zM326.25 77.99h0.6v0.6h-0.6zM327.44 77.62h0.6v0.6h-0.6zM329.02 73.72h0.6v0.6h-0.6zM319.85 79.75h0.6v0.6h-0.6zM328.06 79.16h0.6v0.6h-0.6zM332.41 81.74h0.6v0.6h-0.6zM330.92 76.32h0.6v0.6h-0.6zM328.98 72.78h0.6v0.6h-0.6zM325.83 77.43h0.6v0.6h-0.6zM315.68 71.89h0.6v0.6h-0.6zM331 80.37h0.6v0.6h-0.6zM322.96 73.03h0.6v0.6h-0.6zM318.09 70.31h0.6v0.6h-0.6zM328.9 81.08h0.6v0.6h-0.6zM320.31 76.21h0.6v0.6h-0.6zM330.17 76.23h0.6v0.6h-0.6zM341.18 76.39h0.6v0.6h-0.6zM326.98 76.45h0.6v0.6h-0.6zM337.73 84.05h0.6v0.6h-0.6zM339.66 81.34h0.6v0.6h-0.6zM331.83 80.78h0.6v0.6h-0.6zM330.01 77.96h0.6v0.6h-0.6zM326.8 75.07h0.6v0.6h-0.6zM319.44 77.06h0.6v0.6h-0.6zM326.58 71.48h0.6v0.6h-0.6zM328.95 76.71h0.6v0.6h-0.6zM327.14 79.86h0.6v0.6h-0.6zM327.12 75.49h0.6v0.6h-0.6zM323.47 74.54h0.6v0.6h-0.6zM324.98 75.62h0.6v0.6h-0.6zM344.14 83.67h0.6v0.6h-0.6zM321.47 77.83h0.6v0.6h-0.6zM331.59 79.54h0.6v0.6h-0.6zM330.78 79.23h0.6v0.6h-0.6zM330.14 80.21h0.6v0.6h-0.6zM331.98 80.82h0.6v0.6h-0.6zM324.78 75.11h0.6v0.6h-0.6zM322.86 76.35h0.6v0.6h-0.6zM332.34 77.16h0.6v0.6h-0.6zM328.77 82.21h0.6v0.6h-0.6zM335.01 76.86h0.6v0.6h-0.6zM326.54 77.15h0.6v0.6h-0.6zM327.03 76.82h0.6v0.6h-0.6zM333.66 79.35h0.6v0.6h-0.6zM321.03 75.11h0.6v0.6h-0.6zM326.89 76.19h0.6v0.6h-0.6zM325.43 72.47h0.6v0.6h-0.6zM320.99 72.86h0.6v0.6h-0.6zM323.66 68.97h0.6v0.6h-0.6zM334.57 76.59h0.6v0.6h-0.6zM323.18 75.59h0.6v0.6h-0.6zM313.45 73.4h0.6v0.6h-0.6zM322.85 75.73h0.6v0.6h-0.6zM324.67 75.71h0.6v0.6h-0.6zM328.07 76.43h0.6v0.6h-0.6zM318.65 69.58h0.6v0.6h-0.6zM326.26 78.66h0.6v0.6h-0.6zM324.16 75.98h0.6v0.6h-0.6zM328.03 77.43h0.6v0.6h-0.6zM333.97 75.64h0.6v0.6h-0.6zM329.12 76.47h0.6v0.6h-0.6zM326.42 73.98h0.6v0.6h-0.6zM323.98 72.63h0.6v0.6h-0.6zM319.73 78.36h0.6v0.6h-0.6zM336.72 79.9h0.6v0.6h-0.6zM332.23 76.04h0.6v0.6h-0.6zM313.71 66.87h0.6v0.6h-0.6zM327.23 79.11h0.6v0.6h-0.6zM327.99 74.3h0.6v0.6h-0.6zM326.91 73.87h0.6v0.6h-0.6zM320.1 72.76h0.6v0.6h-0.6zM325.92 73.86h0.6v0.6h-0.6zM323.36 72.6h0.6v0.6h-0.6zM327.78 79.23h0.6v0.6h-0.6zM324.74 79.79h0.6v0.6h-0.6zM318.52 73.19h0.6v0.6h-0.6zM321.34 73.4h0.6v0.6h-0.6zM327.65 77.43h0.6v0.6h-0.6zM334.04 77.65h0.6v0.6h-0.6zM320.89 73.16h0.6v0.6h-0.6zM329.6 75.57h0.6v0.6h-0.6zM331.13 81.19h0.6v0.6h-0.6zM319.51 73.77h0.6v0.6h-0.6zM334.41 74.93h0.6v0.6h-0.6zM328.78 76.24h0.6v0.6h-0.6zM318.82 75.49h0.6v0.6h-0.6zM329.03 75.8h0.6v0.6h-0.6zM329.44 78.33h0.6v0.6h-0.6zM331.26 78.92h0.6v0.6h-0.6zM330.57 74.96h0.6v0.6h-0.6zM325.12 75.52h0.6v0.6h-0.6zM326.2 73.47h0.6v0.6h-0.6zM317.44 72.71h0.6v0.6h-0.6zM328.1 75.21h0.6v0.6h-0.6zM325.88 73.69h0.6v0.6h-0.6zM323.5 74.4h0.6v0.6h-0.6zM323.51 76.03h0.6v0.6h-0.6zM326.63 76.13h0.6v0.6h-0.6zM328.78 79.38h0.6v0.6h-0.6zM330.6 77.92h0.6v0.6h-0.6zM327.2 74.39h0.6v0.6h-0.6zM325.15 76.69h0.6v0.6h-0.6zM329.01 75.99h0.6v0.6h-0.6zM321.38 70.54h0.6v0.6h-0.6zM328.5 78.76h0.6v0.6h-0.6zM330.52 74.53h0.6v0.6h-0.6zM326.18 76.14h0.6v0.6h-0.6zM322.26 74.84h0.6v0.6h-0.6zM327.02 74.25h0.6v0.6h-0.6zM320.17 74.97h0.6v0.6h-0.6zM330.08 75.37h0.6v0.6h-0.6zM321.35 75.61h0.6v0.6h-0.6zM330.96 76.94h0.6v0.6h-0.6zM336.36 79.13h0.6v0.6h-0.6zM320.98 75.89h0.6v0.6h-0.6zM326.23 76.42h0.6v0.6h-0.6zM328.43 74.47h0.6v0.6h-0.6zM321.2 73.28h0.6v0.6h-0.6zM335.85 77.43h0.6v0.6h-0.6zM334.71 79.54h0.6v0.6h-0.6zM321.27 74.27h0.6v0.6h-0.6zM331.23 75.8h0.6v0.6h-0.6zM315.69 72.23h0.6v0.6h-0.6zM321.16 74.59h0.6v0.6h-0.6zM317.23 71.8h0.6v0.6h-0.6zM324.18 71.77h0.6v0.6h-0.6zM326.07 75.99h0.6v0.6h-0.6zM325.33 72.86h0.6v0.6h-0.6zM329.91 73.5h0.6v0.6h-0.6zM330.05 78.24h0.6v0.6h-0.6zM335.96 81.43h0.6v0.6h-0.6zM329.23 77.44h0.6v0.6h-0.6zM328.61 73.87h0.6v0.6h-0.6zM335.04 80.32h0.6v0.6h-0.6zM326.78 73.51h0.6v0.6h-0.6zM335.16 80.37h0.6v0.6h-0.6zM320.6 74.85h0.6v0.6h-0.6zM337.78 80.26h0.6v0.6h-0.6zM329.97 76.31h0.6v0.6h-0.6zM323.32 76.78h0.6v0.6h-0.6zM344.09 83.07h0.6v0.6h-0.6zM326.26 77.36h0.6v0.6h-0.6zM325.33 76.86h0.6v0.6h-0.6zM332.72 76.16h0.6v0.6h-0.6zM321.75 73.75h0.6v0.6h-0.6zM331.81 78.5h0.6v0.6h-0.6zM335.21 76.4h0.6v0.6h-0.6zM330.62 76.14h0.6v0.6h-0.6zM327.81 77h0.6v0.6h-0.6zM322.42 73.69h0.6v0.6h-0.6zM321.01 74.17h0.6v0.6h-0.6zM323.26 73.47h0.6v0.6h-0.6zM329.15 75.5h0.6v0.6h-0.6zM334.17 77.53h0.6v0.6h-0.6zM331.89 78.54h0.6v0.6h-0.6zM322.07 73.57h0.6v0.6h-0.6zM323.24 73.74h0.6v0.6h-0.6zM324.73 78.89h0.6v0.6h-0.6zM324.11 78.12h0.6v0.6h-0.6zM330.86 74.81h0.6v0.6h-0.6zM314.52 72.43h0.6v0.6h-0.6zM316.23 73.2h0.6v0.6h-0.6zM332.78 79.12h0.6v0.6h-0.6zM326.55 75.3h0.6v0.6h-0.6zM329.12 76.21h0.6v0.6h-0.6zM324.88 74.38h0.6v0.6h-0.6zM334.26 77.61h0.6v0.6h-0.6zM330.38 74.95h0.6v0.6h-0.6zM324.64 72.19h0.6v0.6h-0.6zM325.94 77h0.6v0.6h-0.6zM329.5 75.97h0.6v0.6h-0.6zM331.05 76.89h0.6v0.6h-0.6zM329.31 77.49h0.6v0.6h-0.6zM332.2 72.91h0.6v0.6h-0.6zM319.92 74.78h0.6v0.6h-0.6zM325.31 80h0.6v0.6h-0.6zM326.63 74.7h0.6v0.6h-0.6zM335.16 80.42h0.6v0.6h-0.6zM337.37 81.2h0.6v0.6h-0.6zM325.88 77.06h0.6v0.6h-0.6zM323.57 73.7h0.6v0.6h-0.6zM324.67 74.61h0.6v0.6h-0.6zM332.04 77.01h0.6v0.6h-0.6zM329.59 76h0.6v0.6h-0.6zM334.24 73.15h0.6v0.6h-0.6zM326.26 76.06h0.6v0.6h-0.6zM320.96 75.7h0.6v0.6h-0.6zM327.75 78.97h0.6v0.6h-0.6zM332.22 79.42h0.6v0.6h-0.6zM327.47 73.93h0.6v0.6h-0.6zM326.64 74.9h0.6v0.6h-0.6zM329.18 75.9h0.6v0.6h-0.6zM345.1 79.9h0.6v0.6h-0.6zM334.16 77.88h0.6v0.6h-0.6zM325.53 77.34h0.6v0.6h-0.6zM328.38 74.03h0.6v0.6h-0.6zM329.87 76.74h0.6v0.6h-0.6zM316.28 72.13h0.6v0.6h-0.6zM322.35 72.6h0.6v0.6h-0.6zM329.88 77.77h0.6v0.6h-0.6zM324.38 79.47h0.6v0.6h-0.6zM330.2 76h0.6v0.6h-0.6zM328.86 76.49h0.6v0.6h-0.6zM316.77 68.64h0.6v0.6h-0.6zM318.54 76.92h0.6v0.6h-0.6zM326.71 75.31h0.6v0.6h-0.6zM323.76 76.75h0.6v0.6h-0.6zM326.43 79.32h0.6v0.6h-0.6zM330.56 80.84h0.6v0.6h-0.6zM326.6 76.62h0.6v0.6h-0.6zM325.29 74.97h0.6v0.6h-0.6zM318.61 71.44h0.6v0.6h-0.6zM322.85 72.99h0.6v0.6h-0.6zM333.85 79.28h0.6v0.6h-0.6zM333.47 80.37h0.6v0.6h-0.6zM331.73 79.97h0.6v0.6h-0.6zM323.67 76.34h0.6v0.6h-0.6zM326.15 74.56h0.6v0.6h-0.6zM332.37 82.64h0.6v0.6h-0.6zM321 77.21h0.6v0.6h-0.6zM332.57 76.47h0.6v0.6h-0.6zM328.7 77.45h0.6v0.6h-0.6zM329.77 76.37h0.6v0.6h-0.6zM320.57 73.5h0.6v0.6h-0.6zM331.57 79.45h0.6v0.6h-0.6zM330.26 79.59h0.6v0.6h-0.6zM322.21 74h0.6v0.6h-0.6zM328.61 78.72h0.6v0.6h-0.6zM327.97 77.46h0.6v0.6h-0.6zM326.72 80.24h0.6v0.6h-0.6zM315.8 71.47h0.6v0.6h-0.6zM340.62 81.93h0.6v0.6h-0.6zM317.57 72.51h0.6v0.6h-0.6zM320.29 71.91h0.6v0.6h-0.6zM327.48 79.75h0.6v0.6h-0.6zM329.51 78.39h0.6v0.6h-0.6zM332.82 78.74h0.6v0.6h-0.6zM322.97 74.19h0.6v0.6h-0.6zM329.5 76.43h0.6v0.6h-0.6zM324.17 74.13h0.6v0.6h-0.6zM320.17 71.15h0.6v0.6h-0.6zM327.27 75.36h0.6v0.6h-0.6zM326.7 78.79h0.6v0.6h-0.6zM329.13 76.78h0.6v0.6h-0.6zM321.97 71.76h0.6v0.6h-0.6zM330.14 75.44h0.6v0.6h-0.6zM330.57 75.2h0.6v0.6h-0.6zM328.27 76.36h0.6v0.6h-0.6zM333.12 77.63h0.6v0.6h-0.6zM325.33 75.84h0.6v0.6h-0.6zM326.59 79.34h0.6v0.6h-0.6zM326.5 74.69h0.6v0.6h-0.6zM325.45 76.36h0.6v0.6h-0.6zM328.26 77.94h0.6v0.6h-0.6zM318.31 77.67h0.6v0.6h-0.6zM337.39 80.08h0.6v0.6h-0.6zM320.91 73.89h0.6v0.6h-0.6zM331.32 73.1h0.6v0.6h-0.6zM328.63 73.59h0.6v0.6h-0.6zM328.97 79.65h0.6v0.6h-0.6zM334.12 75.72h0.6v0.6h-0.6zM334.26 80.78h0.6v0.6h-0.6zM325.21 76.32h0.6v0.6h-0.6zM335.87 78.86h0.6v0.6h-0.6zM327.82 75.17h0.6v0.6h-0.6zM335.24 74.83h0.6v0.6h-0.6zM335.8 77.51h0.6v0.6h-0.6zM333.63 75.28h0.6v0.6h-0.6zM322.9 73.13h0.6v0.6h-0.6zM333.1 75.08h0.6v0.6h-0.6zM331.19 76.36h0.6v0.6h-0.6zM334.38 78.3h0.6v0.6h-0.6zM330.23 76.93h0.6v0.6h-0.6zM337.37 79.4h0.6v0.6h-0.6zM325.95 79.69h0.6v0.6h-0.6zM327.43 77.59h0.6v0.6h-0.6zM323.41 74.98h0.6v0.6h-0.6zM315.26 71.53h0.6v0.6h-0.6zM325.11 72.13h0.6v0.6h-0.6zM319.09 75.21h0.6v0.6h-0.6zM330.87 74.4h0.6v0.6h-0.6zM337.72 78.84h0.6v0.6h-0.6zM325.35 75.85h0.6v0.6h-0.6zM322.56 70.87h0.6v0.6h-0.6zM322.66 76.71h0.6v0.6h-0.6zM333.73 75.41h0.6v0.6h-0.6zM333.93 78.84h0.6v0.6h-0.6zM330.15 77.36h0.6v0.6h-0.6zM330.43 75.3h0.6v0.6h-0.6zM323.13 73h0.6v0.6h-0.6zM325.08 76.52h0.6v0.6h-0.6zM319.84 76.44h0.6v0.6h-0.6zM324.53 73.79h0.6v0.6h-0.6zM330.96 78.48h0.6v0.6h-0.6zM326.45 73.56h0.6v0.6h-0.6zM323.28 71.2h0.6v0.6h-0.6zM332.86 80.58h0.6v0.6h-0.6zM337.16 81.09h0.6v0.6h-0.6zM328.74 78.27h0.6v0.6h-0.6zM332.79 77.77h0.6v0.6h-0.6zM327.85 80.8h0.6v0.6h-0.6zM319.42 70.06h0.6v0.6h-0.6zM321.8 75.48h0.6v0.6h-0.6zM334.11 78.14h0.6v0.6h-0.6zM331.14 77.55h0.6v0.6h-0.6zM329.49 75.88h0.6v0.6h-0.6z" fill="#000" fill-opacity="0.55"/>
<path d="M343.36 74.6h0.6v0.6h-0.6zM352.5 74.03h0.6v0.6h-0.6zM335.84 82.99h0.6v0.6h-0.6zM345.07 76.34h0.6v0.6h-0.6zM349.78 71.59h0.6v0.6h-0.6zM345.74 69.38h0.6v0.6h-0.6zM338.23 84.68h0.6v0.6h-0.6zM347.62 67.72h0.6v0.6h-0.6zM350.67 70.43h0.6v0.6h-0.6zM333.44 86.32h0.6v0.6h-0.6zM340.78 80.77h0.6v0.6h-0.6zM339.07 75.91h0.6v0.6h-0.6zM335.87 80.47h0.6v0.6h-0.6zM347.18 69.04h0.6v0.6h-0.6zM338.29 86.22h0.6v0.6h-0.6zM353.33 68.18h0.6v0.6h-0.6zM338.97 74.44h0.6v0.6h-0.6zM336.71 82.32h0.6v0.6h-0.6zM347.87 67.14h0.6v0.6h-0.6zM343.04 73.98h0.6v0.6h-0.6zM343.12 76.5h0.6v0.6h-0.6zM352.3 64.66h0.6v0.6h-0.6zM349.3 73.04h0.6v0.6h-0.6zM341.92 75.39h0.6v0.6h-0.6zM338.96 82.07h0.6v0.6h-0.6zM339.92 75.46h0.6v0.6h-0.6zM342.4 72.61h0.6v0.6h-0.6zM338.1 78.25h0.6v0.6h-0.6zM350.16 67.97h0.6v0.6h-0.6zM343.56 69.56h0.6v0.6h-0.6zM337.33 85.97h0.6v0.6h-0.6zM339.08 73.25h0.6v0.6h-0.6zM344 76.08h0.6v0.6h-0.6zM333.9 79.97h0.6v0.6h-0.6zM343.2 71.69h0.6v0.6h-0.6zM348.85 73.02h0.6v0.6h-0.6zM344.88 71.86h0.6v0.6h-0.6zM342.24 73.5h0.6v0.6h-0.6zM343.41 75.64h0.6v0.6h-0.6zM343.69 77.58h0.6v0.6h-0.6zM354.83 62.74h0.6v0.6h-0.6zM346.48 74.63h0.6v0.6h-0.6zM346.15 71.39h0.6v0.6h-0.6zM342.9 78.38h0.6v0.6h-0.6zM347.29 72.87h0.6v0.6h-0.6zM340.75 79.02h0.6v0.6h-0.6zM346.94 70.86h0.6v0.6h-0.6zM350.15 75.93h0.6v0.6h-0.6zM335.65 83.41h0.6v0.6h-0.6zM335.71 76.77h0.6v0.6h-0.6zM343.29 76.51h0.6v0.6h-0.6zM341.81 72.08h0.6v0.6h-0.6zM335.79 79.41h0.6v0.6h-0.6zM342.19 72.87h0.6v0.6h-0.6zM339.31 84.04h0.6v0.6h-0.6zM339.28 77.68h0.6v0.6h-0.6zM339.94 75.67h0.6v0.6h-0.6zM343.2 73.77h0.6v0.6h-0.6zM344.46 69.69h0.6v0.6h-0.6zM339.71 84.35h0.6v0.6h-0.6zM344.42 76.26h0.6v0.6h-0.6zM350 70.65h0.6v0.6h-0.6zM341.09 71.41h0.6v0.6h-0.6zM337.55 82.99h0.6v0.6h-0.6zM347.65 72.77h0.6v0.6h-0.6zM332.11 77.35h0.6v0.6h-0.6zM336.54 76.65h0.6v0.6h-0.6zM342.56 71.9h0.6v0.6h-0.6zM349.96 66.75h0.6v0.6h-0.6zM342.28 78.47h0.6v0.6h-0.6zM343.56 71.43h0.6v0.6h-0.6zM350.58 74.73h0.6v0.6h-0.6zM337.27 79.13h0.6v0.6h-0.6zM335.17 75.3h0.6v0.6h-0.6zM347.63 73.22h0.6v0.6h-0.6zM348.83 71.26h0.6v0.6h-0.6zM333.9 82.83h0.6v0.6h-0.6zM338.37 75.05h0.6v0.6h-0.6zM339.53 80.56h0.6v0.6h-0.6zM345.37 79.46h0.6v0.6h-0.6zM342.56 68.92h0.6v0.6h-0.6zM349.82 73.15h0.6v0.6h-0.6zM341.63 72.07h0.6v0.6h-0.6zM349.71 64.64h0.6v0.6h-0.6zM339.93 71.23h0.6v0.6h-0.6zM334.71 76.5h0.6v0.6h-0.6zM350.64 72.2h0.6v0.6h-0.6zM339.31 73.61h0.6v0.6h-0.6zM343.85 75.47h0.6v0.6h-0.6zM334.31 78.66h0.6v0.6h-0.6zM344.19 76.27h0.6v0.6h-0.6zM344.61 75.05h0.6v0.6h-0.6zM333.4 74.97h0.6v0.6h-0.6zM343.45 71.45h0.6v0.6h-0.6zM342.28 74.3h0.6v0.6h-0.6zM344.5 71.02h0.6v0.6h-0.6zM350.43 68.52h0.6v0.6h-0.6zM347.07 73.49h0.6v0.6h-0.6zM349.12 70.93h0.6v0.6h-0.6zM334.1 80.62h0.6v0.6h-0.6zM353.17 67.62h0.6v0.6h-0.6zM346.96 73.04h0.6v0.6h-0.6zM339.3 75.89h0.6v0.6h-0.6zM342.35 79.42h0.6v0.6h-0.6zM348.22 76.37h0.6v0.6h-0.6zM349.05 76.03h0.6v0.6h-0.6zM343.7 70.32h0.6v0.6h-0.6zM352.39 67.84h0.6v0.6h-0.6zM349.56 69.91h0.6v0.6h-0.6zM342.22 76.2h0.6v0.6h-0.6zM336.12 76.92h0.6v0.6h-0.6zM338.36 77.23h0.6v0.6h-0.6zM336.83 80h0.6v0.6h-0.6zM348.37 77.11h0.6v0.6h-0.6zM352.24 66.67h0.6v0.6h-0.6zM347.37 70.36h0.6v0.6h-0.6zM345.32 72.79h0.6v0.6h-0.6zM341.03 76.92h0.6v0.6h-0.6zM337.14 81.57h0.6v0.6h-0.6zM340.29 73.64h0.6v0.6h-0.6zM342.71 77.08h0.6v0.6h-0.6zM341.04 78.28h0.6v0.6h-0.6zM348.87 75.09h0.6v0.6h-0.6zM338.09 78.87h0.6v0.6h-0.6zM348.49 75.23h0.6v0.6h-0.6zM346.03 74.84h0.6v0.6h-0.6zM335.46 79.57h0.6v0.6h-0.6zM351.01 66.94h0.6v0.6h-0.6zM352.68 63.97h0.6v0.6h-0.6zM339.47 72.6h0.6v0.6h-0.6zM347.01 72.32h0.6v0.6h-0.6zM353.5 66.29h0.6v0.6h-0.6zM339.91 72.84h0.6v0.6h-0.6zM344.7 76.67h0.6v0.6h-0.6zM349.15 73.74h0.6v0.6h-0.6zM347.59 70.75h0.6v0.6h-0.6zM346.71 72.28h0.6v0.6h-0.6zM339.97 83.44h0.6v0.6h-0.6zM343.53 70.89h0.6v0.6h-0.6zM345.85 73.43h0.6v0.6h-0.6zM350.76 73.07h0.6v0.6h-0.6zM329.76 88.45h0.6v0.6h-0.6zM349.29 66.18h0.6v0.6h-0.6zM335 82.91h0.6v0.6h-0.6zM345.72 73.75h0.6v0.6h-0.6zM337.34 78.3h0.6v0.6h-0.6zM345.71 75.11h0.6v0.6h-0.6zM354.6 65.77h0.6v0.6h-0.6zM336.58 72.49h0.6v0.6h-0.6zM348.47 69.69h0.6v0.6h-0.6zM341.29 73.05h0.6v0.6h-0.6zM344.01 67.91h0.6v0.6h-0.6zM344.23 74.27h0.6v0.6h-0.6zM347.17 75.75h0.6v0.6h-0.6zM343.18 75.1h0.6v0.6h-0.6zM345.01 67.86h0.6v0.6h-0.6zM342.2 75.87h0.6v0.6h-0.6zM346.77 68.89h0.6v0.6h-0.6zM348.05 71.83h0.6v0.6h-0.6zM333.77 77.95h0.6v0.6h-0.6zM336.79 80.86h0.6v0.6h-0.6zM345.73 75.02h0.6v0.6h-0.6zM346.54 69.94h0.6v0.6h-0.6zM350.08 71.54h0.6v0.6h-0.6zM346.61 73.42h0.6v0.6h-0.6zM337.87 80.68h0.6v0.6h-0.6zM336.46 76.58h0.6v0.6h-0.6zM342.04 76.26h0.6v0.6h-0.6zM342.68 74.09h0.6v0.6h-0.6zM338.96 79.12h0.6v0.6h-0.6zM337.5 74.92h0.6v0.6h-0.6zM346.43 76.93h0.6v0.6h-0.6zM339.72 74.16h0.6v0.6h-0.6zM353.15 71.93h0.6v0.6h-0.6zM341.71 75.34h0.6v0.6h-0.6zM349.56 79.34h0.6v0.6h-0.6zM345.85 75.86h0.6v0.6h-0.6zM342.55 69.07h0.6v0.6h-0.6zM336.04 76.8h0.6v0.6h-0.6zM345.79 72.86h0.6v0.6h-0.6zM351.74 66.34h0.6v0.6h-0.6zM345.13 73.33h0.6v0.6h-0.6zM348.13 78.41h0.6v0.6h-0.6zM347.4 76.15h0.6v0.6h-0.6zM348.78 67.78h0.6v0.6h-0.6zM346.19 70.83h0.6v0.6h-0.6zM344.3 74.34h0.6v0.6h-0.6zM342.8 73.5h0.6v0.6h-0.6zM350.63 67.34h0.6v0.6h-0.6zM349.79 74.77h0.6v0.6h-0.6zM348.3 73.82h0.6v0.6h-0.6zM352.12 70.69h0.6v0.6h-0.6zM349.43 64.37h0.6v0.6h-0.6zM353.09 66.19h0.6v0.6h-0.6zM333.89 80.72h0.6v0.6h-0.6zM336.67 80.42h0.6v0.6h-0.6zM334.52 78.91h0.6v0.6h-0.6zM345.21 73.54h0.6v0.6h-0.6zM339.21 77.45h0.6v0.6h-0.6zM343.15 75.07h0.6v0.6h-0.6zM343.09 74.1h0.6v0.6h-0.6zM345.04 67.61h0.6v0.6h-0.6zM341.32 76.87h0.6v0.6h-0.6zM340.6 75.14h0.6v0.6h-0.6zM341.72 76.78h0.6v0.6h-0.6zM349.26 68.81h0.6v0.6h-0.6zM342.8 76.34h0.6v0.6h-0.6zM339.01 71.76h0.6v0.6h-0.6zM344.16 72.62h0.6v0.6h-0.6zM341.78 78.18h0.6v0.6h-0.6zM342.75 73.21h0.6v0.6h-0.6zM329.92 80.46h0.6v0.6h-0.6zM343.37 74.21h0.6v0.6h-0.6zM346.02 73.06h0.6v0.6h-0.6zM339 74.08h0.6v0.6h-0.6zM337.92 78.92h0.6v0.6h-0.6zM339.18 80.9h0.6v0.6h-0.6zM333.95 76.68h0.6v0.6h-0.6zM339.51 71.86h0.6v0.6h-0.6zM349.75 65.59h0.6v0.6h-0.6zM342.83 74.25h0.6v0.6h-0.6zM336.46 74.56h0.6v0.6h-0.6zM335.89 84.16h0.6v0.6h-0.6zM352.2 74.35h0.6v0.6h-0.6zM337.32 81.86h0.6v0.6h-0.6zM344.88 76.21h0.6v0.6h-0.6zM342.23 78.11h0.6v0.6h-0.6zM348.92 71.85h0.6v0.6h-0.6zM350.27 67.96h0.6v0.6h-0.6zM349.84 66.51h0.6v0.6h-0.6zM346.94 61.99h0.6v0.6h-0.6zM342.19 72.88h0.6v0.6h-0.6zM345.28 76.51h0.6v0.6h-0.6zM347.17 71.61h0.6v0.6h-0.6zM349.29 64.32h0.6v0.6h-0.6zM342.11 80.94h0.6v0.6h-0.6zM341.55 69.04h0.6v0.6h-0.6zM343.14 70.72h0.6v0.6h-0.6zM352.68 70.4h0.6v0.6h-0.6zM343.04 79.37h0.6v0.6h-0.6zM341.01 79.87h0.6v0.6h-0.6zM346.11 71.77h0.6v0.6h-0.6zM336.07 80.05h0.6v0.6h-0.6zM331.35 83.21h0.6v0.6h-0.6zM336.54 84.81h0.6v0.6h-0.6zM334.61 73.89h0.6v0.6h-0.6zM346.99 72.72h0.6v0.6h-0.6zM344.65 80.81h0.6v0.6h-0.6zM347.39 71.31h0.6v0.6h-0.6zM335.28 71.49h0.6v0.6h-0.6z" fill="#000" fill-opacity="0.55"/>
<path d="M324.67 104.38h0.6v0.6h-0.6zM329.62 103.99h0.6v0.6h-0.6zM343.59 106.9h0.6v0.6h-0.6zM342.6 106.02h0.6v0.6h-0.6zM318.95 105.31h0.6v0.6h-0.6zM318.67 105.17h0.6v0.6h-0.6zM328.91 107.01h0.6v0.6h-0.6zM331.41 106.6h0.6v0.6h-0.6zM326.79 107.14h0.6v0.6h-0.6zM343.48 106.06h0.6v0.6h-0.6zM331.81 107.12h0.6v0.6h-0.6zM326.38 104.99h0.6v0.6h-0.6zM329.45 105.84h0.6v0.6h-0.6zM337.51 105.93h0.6v0.6h-0.6zM331.11 106.17h0.6v0.6h-0.6zM333.06 105.55h0.6v0.6h-0.6zM339.94 104.36h0.6v0.6h-0.6zM326.53 105.44h0.6v0.6h-0.6zM335.83 106.56h0.6v0.6h-0.6zM334.36 106h0.6v0.6h-0.6zM323.54 104.82h0.6v0.6h-0.6zM326.99 105.7h0.6v0.6h-0.6zM332.52 107.03h0.6v0.6h-0.6zM338.79 106.34h0.6v0.6h-0.6zM323.26 104.91h0.6v0.6h-0.6zM330.55 107.04h0.6v0.6h-0.6zM347.53 106.77h0.6v0.6h-0.6zM325.67 106.39h0.6v0.6h-0.6zM330.59 105.44h0.6v0.6h-0.6zM332.18 107.49h0.6v0.6h-0.6zM323.59 107.45h0.6v0.6h-0.6zM323.59 105.18h0.6v0.6h-0.6zM331.98 106.15h0.6v0.6h-0.6zM321.16 104.06h0.6v0.6h-0.6zM330.21 106.86h0.6v0.6h-0.6zM325.86 106.78h0.6v0.6h-0.6zM316.26 107.09h0.6v0.6h-0.6zM333.75 106.92h0.6v0.6h-0.6zM324.48 106.62h0.6v0.6h-0.6zM332.48 106.88h0.6v0.6h-0.6zM340.55 105.76h0.6v0.6h-0.6zM335.75 106.96h0.6v0.6h-0.6zM329.58 104.57h0.6v0.6h-0.6zM345.81 103.7h0.6v0.6h-0.6zM332.73 105.94h0.6v0.6h-0.6zM340.3 105.87h0.6v0.6h-0.6zM330.35 107.42h0.6v0.6h-0.6zM334.1 105.72h0.6v0.6h-0.6zM336.13 107.09h0.6v0.6h-0.6zM338.89 105.73h0.6v0.6h-0.6zM329.59 105.91h0.6v0.6h-0.6zM322.47 106.88h0.6v0.6h-0.6zM327.08 107.08h0.6v0.6h-0.6zM340.27 106.33h0.6v0.6h-0.6zM330.57 106.7h0.6v0.6h-0.6zM323.8 105.02h0.6v0.6h-0.6zM340.03 106.76h0.6v0.6h-0.6zM329.33 104.64h0.6v0.6h-0.6zM319.68 105.17h0.6v0.6h-0.6zM343.92 105.67h0.6v0.6h-0.6zM335.38 105.38h0.6v0.6h-0.6zM334.67 105.95h0.6v0.6h-0.6zM333.03 106.14h0.6v0.6h-0.6zM330.5 106.9h0.6v0.6h-0.6zM325.41 106.81h0.6v0.6h-0.6zM351.84 106.79h0.6v0.6h-0.6zM325.45 105.78h0.6v0.6h-0.6zM333.04 105.63h0.6v0.6h-0.6zM339.94 106.5h0.6v0.6h-0.6zM338.62 106.71h0.6v0.6h-0.6zM342.31 106.5h0.6v0.6h-0.6zM316.86 105.6h0.6v0.6h-0.6zM334.33 107.35h0.6v0.6h-0.6zM332.89 107.16h0.6v0.6h-0.6zM318.24 106.22h0.6v0.6h-0.6zM332.33 106.16h0.6v0.6h-0.6zM330.54 107.4h0.6v0.6h-0.6zM321.52 105.66h0.6v0.6h-0.6zM320.6 103.97h0.6v0.6h-0.6zM336.86 106.18h0.6v0.6h-0.6zM338.61 105.95h0.6v0.6h-0.6zM331.34 106.67h0.6v0.6h-0.6zM347.8 105.87h0.6v0.6h-0.6zM320.31 107.39h0.6v0.6h-0.6zM339.5 104.29h0.6v0.6h-0.6zM323.84 105.02h0.6v0.6h-0.6zM335 107.25h0.6v0.6h-0.6zM323.47 104.83h0.6v0.6h-0.6zM336.07 103.45h0.6v0.6h-0.6zM335.72 106.27h0.6v0.6h-0.6zM324.85 106.09h0.6v0.6h-0.6zM327.54 105.42h0.6v0.6h-0.6zM316.61 106.16h0.6v0.6h-0.6zM322.78 105.31h0.6v0.6h-0.6zM322.41 104.13h0.6v0.6h-0.6zM340.2 106.6h0.6v0.6h-0.6zM323.81 104.38h0.6v0.6h-0.6zM326.59 105.74h0.6v0.6h-0.6zM345.26 105.82h0.6v0.6h-0.6zM335.92 106.23h0.6v0.6h-0.6zM335.3 105.86h0.6v0.6h-0.6zM329.21 105.09h0.6v0.6h-0.6zM322.04 104.31h0.6v0.6h-0.6zM334.44 107.26h0.6v0.6h-0.6zM334.74 106.68h0.6v0.6h-0.6zM322.18 107.37h0.6v0.6h-0.6zM340.5 107.43h0.6v0.6h-0.6zM341.04 105.8h0.6v0.6h-0.6zM324.84 106.86h0.6v0.6h-0.6zM328.31 106.53h0.6v0.6h-0.6zM327.61 105.71h0.6v0.6h-0.6zM331.8 103.67h0.6v0.6h-0.6zM321.99 104.84h0.6v0.6h-0.6zM323.45 102.75h0.6v0.6h-0.6zM335.3 104.67h0.6v0.6h-0.6zM340.76 104.02h0.6v0.6h-0.6zM324.92 105.97h0.6v0.6h-0.6zM341.09 106.67h0.6v0.6h-0.6zM328.9 105.32h0.6v0.6h-0.6zM330.79 106.56h0.6v0.6h-0.6zM336.5 106.53h0.6v0.6h-0.6zM331.77 106.48h0.6v0.6h-0.6zM335.01 106.34h0.6v0.6h-0.6zM323.1 106.65h0.6v0.6h-0.6zM333.55 106.71h0.6v0.6h-0.6zM332.06 107.06h0.6v0.6h-0.6zM320.11 104.87h0.6v0.6h-0.6zM328.91 105.14h0.6v0.6h-0.6zM324.19 106.55h0.6v0.6h-0.6zM340.41 105.67h0.6v0.6h-0.6zM334.94 106.77h0.6v0.6h-0.6zM326.87 105.12h0.6v0.6h-0.6zM328.66 105.44h0.6v0.6h-0.6zM334.73 103.92h0.6v0.6h-0.6zM335.3 104h0.6v0.6h-0.6zM330.47 107.16h0.6v0.6h-0.6zM323.99 104.84h0.6v0.6h-0.6zM333.8 107.25h0.6v0.6h-0.6zM326.26 106.14h0.6v0.6h-0.6zM325.55 105.67h0.6v0.6h-0.6zM315.86 106h0.6v0.6h-0.6zM344.18 106.96h0.6v0.6h-0.6zM321.19 104.73h0.6v0.6h-0.6zM315.43 104.37h0.6v0.6h-0.6zM326.34 105.51h0.6v0.6h-0.6zM333.54 107.4h0.6v0.6h-0.6zM332.25 103.72h0.6v0.6h-0.6zM325.22 102.8h0.6v0.6h-0.6zM332.13 105.26h0.6v0.6h-0.6zM341.59 107.2h0.6v0.6h-0.6zM332.42 106.75h0.6v0.6h-0.6zM324.86 106.43h0.6v0.6h-0.6zM346.76 105.22h0.6v0.6h-0.6zM324.2 106.74h0.6v0.6h-0.6zM321.53 106.31h0.6v0.6h-0.6zM327.68 104.7h0.6v0.6h-0.6zM330.68 105.8h0.6v0.6h-0.6zM338.06 107.13h0.6v0.6h-0.6zM323.17 106.62h0.6v0.6h-0.6zM326.88 105.57h0.6v0.6h-0.6zM326.38 104h0.6v0.6h-0.6zM348.84 104.96h0.6v0.6h-0.6zM326.89 106.02h0.6v0.6h-0.6zM317.68 107.09h0.6v0.6h-0.6zM329.56 106.91h0.6v0.6h-0.6zM349.6 106.11h0.6v0.6h-0.6zM324.44 105.64h0.6v0.6h-0.6zM331.26 104.9h0.6v0.6h-0.6zM337.73 107.27h0.6v0.6h-0.6zM337.04 106.89h0.6v0.6h-0.6zM330.54 105.7h0.6v0.6h-0.6zM332.7 106.86h0.6v0.6h-0.6zM332.73 105.71h0.6v0.6h-0.6zM322.7 107.11h0.6v0.6h-0.6zM334.8 107.28h0.6v0.6h-0.6zM334.42 106.37h0.6v0.6h-0.6zM345.16 104.46h0.6v0.6h-0.6zM324.1 105.75h0.6v0.6h-0.6zM316.06 107.02h0.6v0.6h-0.6zM329.52 105.71h0.6v0.6h-0.6zM326.4 107.46h0.6v0.6h-0.6zM335.09 106.45h0.6v0.6h-0.6zM334.84 105.45h0.6v0.6h-0.6zM326.84 107.31h0.6v0.6h-0.6zM337.68 105.01h0.6v0.6h-0.6zM345.25 106.67h0.6v0.6h-0.6zM314.87 104.51h0.6v0.6h-0.6zM337.65 106.1h0.6v0.6h-0.6zM339.65 104.24h0.6v0.6h-0.6zM324.08 107.49h0.6v0.6h-0.6zM326.86 107h0.6v0.6h-0.6zM341.48 104.86h0.6v0.6h-0.6zM339.18 102.18h0.6v0.6h-0.6zM327.93 104.01h0.6v0.6h-0.6zM332.65 105.44h0.6v0.6h-0.6zM325.09 105.28h0.6v0.6h-0.6zM332.57 105.82h0.6v0.6h-0.6zM322.09 106.17h0.6v0.6h-0.6zM333.56 105.25h0.6v0.6h-0.6zM339.71 104.08h0.6v0.6h-0.6zM333.57 105.93h0.6v0.6h-0.6zM343.76 105.56h0.6v0.6h-0.6zM324.2 104.55h0.6v0.6h-0.6zM347.36 107.4h0.6v0.6h-0.6zM320.52 106.01h0.6v0.6h-0.6zM333.66 103.53h0.6v0.6h-0.6zM330.02 107.19h0.6v0.6h-0.6zM329.04 106.8h0.6v0.6h-0.6zM331.86 105.47h0.6v0.6h-0.6zM333.04 106.74h0.6v0.6h-0.6zM329.67 105.5h0.6v0.6h-0.6zM321.13 106.86h0.6v0.6h-0.6zM337.22 102.98h0.6v0.6h-0.6zM338.01 105.46h0.6v0.6h-0.6zM341.83 105.06h0.6v0.6h-0.6zM326.19 106.18h0.6v0.6h-0.6zM315.57 105.03h0.6v0.6h-0.6zM319.72 106.3h0.6v0.6h-0.6zM326.89 105.62h0.6v0.6h-0.6zM343.42 105.91h0.6v0.6h-0.6z" fill="#000" fill-opacity="0.55"/>
<path d="M360.98 105.96h0.6v0.6h-0.6zM359.13 97.03h0.6v0.6h-0.6zM339.86 99.59h0.6v0.6h-0.6zM347.22 96.32h0.6v0.6h-0.6zM337.17 93.08h0.6v0.6h-0.6zM351.59 88.62h0.6v0.6h-0.6zM352 106.39h0.6v0.6h-0.6zM351.57 90.34h0.6v0.6h-0.6zM343.74 97.78h0.6v0.6h-0.6zM345.97 79.38h0.6v0.6h-0.6zM351.77 100.66h0.6v0.6h-0.6zM344.59 104.99h0.6v0.6h-0.6zM353.41 103.12h0.6v0.6h-0.6zM339.6 94.98h0.6v0.6h-0.6zM358.98 95h0.6v0.6h-0.6zM351.25 90.72h0.6v0.6h-0.6zM357.49 90.26h0.6v0.6h-0.6zM350.84 80.93h0.6v0.6h-0.6zM339.74 107.13h0.6v0.6h-0.6zM350.4 96.47h0.6v0.6h-0.6zM335.02 94.77h0.6v0.6h-0.6zM364.13 84.79h0.6v0.6h-0.6zM333.78 93.9h0.6v0.6h-0.6zM346.37 93.57h0.6v0.6h-0.6zM341.42 85.74h0.6v0.6h-0.6zM341.56 99.38h0.6v0.6h-0.6zM349.68 100.62h0.6v0.6h-0.6zM342.63 99.03h0.6v0.6h-0.6zM346.98 95.61h0.6v0.6h-0.6zM356.38 95.23h0.6v0.6h-0.6zM347.6 83.62h0.6v0.6h-0.6zM350.44 100.36h0.6v0.6h-0.6zM345.68 94.55h0.6v0.6h-0.6zM337.9 85.87h0.6v0.6h-0.6zM352.76 103.87h0.6v0.6h-0.6zM347.88 83.55h0.6v0.6h-0.6zM347.4 84.29h0.6v0.6h-0.6zM352.05 93.96h0.6v0.6h-0.6zM357.11 92.4h0.6v0.6h-0.6zM352.28 96.37h0.6v0.6h-0.6zM353.06 84.92h0.6v0.6h-0.6zM354.87 101.05h0.6v0.6h-0.6zM334.34 76.38h0.6v0.6h-0.6zM343.85 105.24h0.6v0.6h-0.6zM350.14 99.66h0.6v0.6h-0.6zM353.81 101.1h0.6v0.6h-0.6zM345.62 90.98h0.6v0.6h-0.6zM352.58 99.18h0.6v0.6h-0.6zM353.95 97.33h0.6v0.6h-0.6zM346.67 102.6h0.6v0.6h-0.6zM353.24 102.32h0.6v0.6h-0.6zM332.52 101.94h0.6v0.6h-0.6zM333.21 96.45h0.6v0.6h-0.6zM345.43 95.83h0.6v0.6h-0.6zM346.72 92.86h0.6v0.6h-0.6zM351.33 97.39h0.6v0.6h-0.6zM344.5 77.56h0.6v0.6h-0.6z" fill="#000" fill-opacity="0.35"/>
<path d="M317.39 69.6h0.6v0.6h-0.6zM317.02 69.27h0.6v0.6h-0.6zM319.82 65.21h0.6v0.6h-0.6zM328.91 72.9h0.6v0.6h-0.6zM321.39 67.85h0.6v0.6h-0.6zM327.67 64.07h0.6v0.6h-0.6zM316.84 71.35h0.6v0.6h-0.6zM327.33 66.54h0.6v0.6h-0.6zM317.4 69.04h0.6v0.6h-0.6zM313.66 66.52h0.6v0.6h-0.6zM320.63 60.71h0.6v0.6h-0.6zM325.5 70.27h0.6v0.6h-0.6zM328.33 63.74h0.6v0.6h-0.6zM314.38 65.58h0.6v0.6h-0.6zM314.26 74.1h0.6v0.6h-0.6zM316.2 67.07h0.6v0.6h-0.6zM323.22 69.35h0.6v0.6h-0.6zM330.62 64.77h0.6v0.6h-0.6zM327.23 68.44h0.6v0.6h-0.6zM315.04 68.45h0.6v0.6h-0.6zM313.67 72.82h0.6v0.6h-0.6zM317.66 70.99h0.6v0.6h-0.6zM329.74 66.16h0.6v0.6h-0.6zM316.66 68.39h0.6v0.6h-0.6zM315.76 70.68h0.6v0.6h-0.6zM323.04 65.73h0.6v0.6h-0.6zM317.92 70.16h0.6v0.6h-0.6zM313.37 73.03h0.6v0.6h-0.6zM317.32 67.42h0.6v0.6h-0.6zM316.49 72.84h0.6v0.6h-0.6zM326.91 71.88h0.6v0.6h-0.6zM325.89 68.27h0.6v0.6h-0.6zM332.11 69.98h0.6v0.6h-0.6zM324.6 69.72h0.6v0.6h-0.6zM326.39 68.83h0.6v0.6h-0.6zM321 63.24h0.6v0.6h-0.6zM334.29 64.12h0.6v0.6h-0.6zM333.55 71.64h0.6v0.6h-0.6zM318.4 68.79h0.6v0.6h-0.6z" fill="#000" fill-opacity="0.3"/>
</g>
<path d="M336.2 83.0 C336.7 88 336.6 96 335.8 99.5 C334.8 103 328.5 103.6 326.0 101.2 C323.0 98.2 322.3 92.5 323.6 89.5 C326.0 85.2 331.5 83.6 336.2 83.0 Z" fill="#fff" stroke="#000" stroke-width="1" />
<ellipse cx="330.2" cy="90.6" rx="4.8" ry="6.9" fill="none" stroke="#555" stroke-width="0.5"/>
<ellipse cx="330.2" cy="90.6" rx="3.2" ry="4.6" fill="none" stroke="#666" stroke-width="0.5"/>
<ellipse cx="330.2" cy="90.6" rx="1.6" ry="2.3" fill="none" stroke="#777" stroke-width="0.5"/>
<g transform="translate(343.6 74.6) rotate(-41.5)">
<ellipse cx="0" cy="0" rx="9.0" ry="3.5" fill="#fff" stroke="#111" stroke-width="0.9"/>
<ellipse cx="0.8" cy="0" rx="6.2" ry="2.3" fill="none" stroke="#555" stroke-width="0.5"/>
<ellipse cx="1.5" cy="0" rx="3.4" ry="1.1" fill="none" stroke="#666" stroke-width="0.5"/>
</g>
<rect x="311.8" y="58.2" width="53.4" height="49.7" fill="none" stroke="#222" stroke-width="0.8"/>
<line x1="336.5" y1="58.2" x2="336.5" y2="107.9" stroke="#222" stroke-width="0.9" />
<line x1="311.8" y1="82.5" x2="365.2" y2="82.5" stroke="#222" stroke-width="0.9" />
<line x1="310.2" y1="60.2" x2="311.8" y2="60.2" stroke="#222" stroke-width="0.45" />
<line x1="310.2" y1="63.79" x2="311.8" y2="63.79" stroke="#222" stroke-width="0.45" />
<line x1="310.2" y1="67.38" x2="311.8" y2="67.38" stroke="#222" stroke-width="0.45" />
<line x1="310.2" y1="70.98" x2="311.8" y2="70.98" stroke="#222" stroke-width="0.45" />
<line x1="310.2" y1="74.57" x2="311.8" y2="74.57" stroke="#222" stroke-width="0.45" />
<line x1="310.2" y1="78.16" x2="311.8" y2="78.16" stroke="#222" stroke-width="0.45" />
<line x1="310.2" y1="81.75" x2="311.8" y2="81.75" stroke="#222" stroke-width="0.45" />
<line x1="310.2" y1="85.35" x2="311.8" y2="85.35" stroke="#222" stroke-width="0.45" />
<line x1="310.2" y1="88.94" x2="311.8" y2="88.94" stroke="#222" stroke-width="0.45" />
<line x1="310.2" y1="92.53" x2="311.8" y2="92.53" stroke="#222" stroke-width="0.45" />
<line x1="310.2" y1="96.12" x2="311.8" y2="96.12" stroke="#222" stroke-width="0.45" />
<line x1="310.2" y1="99.72" x2="311.8" y2="99.72" stroke="#222" stroke-width="0.45" />
<line x1="310.2" y1="103.31" x2="311.8" y2="103.31" stroke="#222" stroke-width="0.45" />
<line x1="310.2" y1="106.9" x2="311.8" y2="106.9" stroke="#222" stroke-width="0.45" />
<line x1="313.8" y1="107.9" x2="313.8" y2="109.5" stroke="#222" stroke-width="0.45" />
<line x1="317.68" y1="107.9" x2="317.68" y2="109.5" stroke="#222" stroke-width="0.45" />
<line x1="321.55" y1="107.9" x2="321.55" y2="109.5" stroke="#222" stroke-width="0.45" />
<line x1="325.43" y1="107.9" x2="325.43" y2="109.5" stroke="#222" stroke-width="0.45" />
<line x1="329.31" y1="107.9" x2="329.31" y2="109.5" stroke="#222" stroke-width="0.45" />
<line x1="333.18" y1="107.9" x2="333.18" y2="109.5" stroke="#222" stroke-width="0.45" />
<line x1="337.06" y1="107.9" x2="337.06" y2="109.5" stroke="#222" stroke-width="0.45" />
<line x1="340.94" y1="107.9" x2="340.94" y2="109.5" stroke="#222" stroke-width="0.45" />
<line x1="344.82" y1="107.9" x2="344.82" y2="109.5" stroke="#222" stroke-width="0.45" />
<line x1="348.69" y1="107.9" x2="348.69" y2="109.5" stroke="#222" stroke-width="0.45" />
<line x1="352.57" y1="107.9" x2="352.57" y2="109.5" stroke="#222" stroke-width="0.45" />
<line x1="356.45" y1="107.9" x2="356.45" y2="109.5" stroke="#222" stroke-width="0.45" />
<line x1="360.32" y1="107.9" x2="360.32" y2="109.5" stroke="#222" stroke-width="0.45" />
<line x1="364.2" y1="107.9" x2="364.2" y2="109.5" stroke="#222" stroke-width="0.45" />
<rect x="313.3" y="100.8" width="7.6" height="6.2" fill="#fff"/>
<text x="313.6" y="106.4" font-size="6.6" fill="#222" stroke="#222" stroke-width="0.12" textLength="7" lengthAdjust="spacingAndGlyphs" >52</text>
<text x="314.6" y="64.8" font-size="6.4" fill="#222" stroke="#222" stroke-width="0.12" >3</text>
<text x="364.8" y="64.8" font-size="6.4" fill="#222" stroke="#222" stroke-width="0.12" text-anchor="end" >44</text>
<text x="364.2" y="106.4" font-size="6.6" fill="#222" stroke="#222" stroke-width="0.12" text-anchor="end" >1</text>
<g clip-path="url(#cp2)">
<g filter="url(#bl1)" opacity="0.8">
<circle cx="332" cy="147.3" r="8" fill="#000"/>
<ellipse cx="329" cy="152" rx="8" ry="8" fill="#000" opacity="0.35"/>
<path d="M331 134 L337 136.5 L346 146.5 L341 151 L333 142 Z" fill="#000"/>
<ellipse cx="331" cy="163.3" rx="13" ry="2" fill="#000" opacity="0.6"/>
<ellipse cx="341" cy="153" rx="6" ry="6" fill="#000" opacity="0.45"/>
<ellipse cx="324" cy="134.5" rx="9" ry="3" fill="#000" opacity="0.3"/>
</g>
<path d="M331.87 137.12h0.6v0.6h-0.6zM330.17 149.6h0.6v0.6h-0.6zM338.42 141.41h0.6v0.6h-0.6zM319.63 139.36h0.6v0.6h-0.6zM333.81 148.44h0.6v0.6h-0.6zM332.82 148.81h0.6v0.6h-0.6zM329.99 140.51h0.6v0.6h-0.6zM334.49 150.12h0.6v0.6h-0.6zM335.17 154.84h0.6v0.6h-0.6zM325.2 135.16h0.6v0.6h-0.6zM322.21 159.74h0.6v0.6h-0.6zM326.98 150.19h0.6v0.6h-0.6zM331.92 152h0.6v0.6h-0.6zM349.64 145.16h0.6v0.6h-0.6zM331.07 144.72h0.6v0.6h-0.6zM333.35 150.86h0.6v0.6h-0.6zM326.67 155.24h0.6v0.6h-0.6zM338.3 150.45h0.6v0.6h-0.6zM331.39 146.7h0.6v0.6h-0.6zM322.96 151.61h0.6v0.6h-0.6zM326.64 145.24h0.6v0.6h-0.6zM337.48 142.94h0.6v0.6h-0.6zM329.13 152.72h0.6v0.6h-0.6zM342.21 144.2h0.6v0.6h-0.6zM338.07 144.4h0.6v0.6h-0.6zM334.13 150.66h0.6v0.6h-0.6zM325.74 153.64h0.6v0.6h-0.6zM341.9 148.29h0.6v0.6h-0.6zM333.48 141.55h0.6v0.6h-0.6zM341.83 148.35h0.6v0.6h-0.6zM324.98 152.2h0.6v0.6h-0.6zM323.96 144.23h0.6v0.6h-0.6zM320.28 155.57h0.6v0.6h-0.6zM344.16 144.51h0.6v0.6h-0.6zM328.41 144.82h0.6v0.6h-0.6zM328.89 151.05h0.6v0.6h-0.6zM340.02 142.46h0.6v0.6h-0.6zM334.42 138.09h0.6v0.6h-0.6zM340.38 147.51h0.6v0.6h-0.6zM328.15 156.42h0.6v0.6h-0.6zM331.42 155.53h0.6v0.6h-0.6zM337.91 157.11h0.6v0.6h-0.6zM327.6 148.31h0.6v0.6h-0.6zM334.03 146.93h0.6v0.6h-0.6zM340.38 144.07h0.6v0.6h-0.6zM337.51 155.5h0.6v0.6h-0.6zM321.26 142.67h0.6v0.6h-0.6zM327.03 145h0.6v0.6h-0.6zM334.15 147.04h0.6v0.6h-0.6zM332.43 145.47h0.6v0.6h-0.6zM331.55 150.66h0.6v0.6h-0.6zM336.1 143.7h0.6v0.6h-0.6zM331.37 143.81h0.6v0.6h-0.6zM331.02 140.1h0.6v0.6h-0.6zM337.25 151.69h0.6v0.6h-0.6zM331.33 144.24h0.6v0.6h-0.6zM329.49 144.34h0.6v0.6h-0.6zM323.51 156.98h0.6v0.6h-0.6zM350.09 141.24h0.6v0.6h-0.6zM325.58 151.18h0.6v0.6h-0.6zM335.33 139.35h0.6v0.6h-0.6zM321.43 150.98h0.6v0.6h-0.6zM321.05 155.83h0.6v0.6h-0.6zM329.28 148.47h0.6v0.6h-0.6zM331.98 144.92h0.6v0.6h-0.6zM331.22 146.35h0.6v0.6h-0.6zM338.84 147.5h0.6v0.6h-0.6zM331.82 145.09h0.6v0.6h-0.6zM328.51 143.95h0.6v0.6h-0.6zM332.06 158.1h0.6v0.6h-0.6zM338.13 149.3h0.6v0.6h-0.6zM341.18 153.58h0.6v0.6h-0.6zM333.14 147.1h0.6v0.6h-0.6zM325.96 149.37h0.6v0.6h-0.6zM330.26 139.28h0.6v0.6h-0.6zM324.93 158.65h0.6v0.6h-0.6zM333.18 150.74h0.6v0.6h-0.6zM333.1 145.44h0.6v0.6h-0.6zM334.54 153.96h0.6v0.6h-0.6zM330.3 150.82h0.6v0.6h-0.6zM337.64 145.34h0.6v0.6h-0.6zM332.93 143.93h0.6v0.6h-0.6zM335.32 145.97h0.6v0.6h-0.6zM338.31 143.8h0.6v0.6h-0.6zM341.29 146.29h0.6v0.6h-0.6zM327.38 143.03h0.6v0.6h-0.6zM335.64 143.29h0.6v0.6h-0.6zM341.92 155.05h0.6v0.6h-0.6zM334.85 140.18h0.6v0.6h-0.6zM331.87 144.01h0.6v0.6h-0.6zM322.04 150.34h0.6v0.6h-0.6zM344.11 145.05h0.6v0.6h-0.6zM336.45 155.06h0.6v0.6h-0.6zM326.72 146.13h0.6v0.6h-0.6zM333.48 150.6h0.6v0.6h-0.6zM325.7 149.19h0.6v0.6h-0.6zM331.41 153.23h0.6v0.6h-0.6zM323.21 144.9h0.6v0.6h-0.6zM329.23 146.26h0.6v0.6h-0.6zM335.97 144.54h0.6v0.6h-0.6zM347.06 144.11h0.6v0.6h-0.6zM336.62 153.61h0.6v0.6h-0.6zM337.31 146.88h0.6v0.6h-0.6zM327.44 146.6h0.6v0.6h-0.6zM335.66 148.67h0.6v0.6h-0.6zM335.2 151.16h0.6v0.6h-0.6zM327.14 142.86h0.6v0.6h-0.6zM339.93 145.33h0.6v0.6h-0.6zM323.29 158.23h0.6v0.6h-0.6zM327.41 142.86h0.6v0.6h-0.6zM337.32 141.78h0.6v0.6h-0.6zM327.21 153.76h0.6v0.6h-0.6zM327.49 161.8h0.6v0.6h-0.6zM332.54 162.76h0.6v0.6h-0.6zM332.71 148.3h0.6v0.6h-0.6zM328.47 146.78h0.6v0.6h-0.6zM329.24 147.87h0.6v0.6h-0.6zM336.24 141.01h0.6v0.6h-0.6zM326.95 136.49h0.6v0.6h-0.6zM340.27 147.59h0.6v0.6h-0.6zM331.92 147.68h0.6v0.6h-0.6zM337.52 149.77h0.6v0.6h-0.6zM336.68 147.08h0.6v0.6h-0.6zM331.33 147.69h0.6v0.6h-0.6zM321.76 153.99h0.6v0.6h-0.6zM323.32 142.53h0.6v0.6h-0.6zM335.69 148.3h0.6v0.6h-0.6zM336.47 157.38h0.6v0.6h-0.6zM342.24 155.6h0.6v0.6h-0.6zM330.76 159.27h0.6v0.6h-0.6zM327.16 147.53h0.6v0.6h-0.6zM337.48 146.83h0.6v0.6h-0.6zM331.33 146.06h0.6v0.6h-0.6zM339.51 134.43h0.6v0.6h-0.6zM339 153.83h0.6v0.6h-0.6zM331.6 151.09h0.6v0.6h-0.6zM326.67 154.1h0.6v0.6h-0.6zM348.83 142.94h0.6v0.6h-0.6zM339.68 147.69h0.6v0.6h-0.6zM330.14 145.32h0.6v0.6h-0.6zM330.96 141.12h0.6v0.6h-0.6zM324.53 157.14h0.6v0.6h-0.6zM331.9 151.04h0.6v0.6h-0.6zM333.71 150.62h0.6v0.6h-0.6zM323.61 142.78h0.6v0.6h-0.6zM335.48 153.49h0.6v0.6h-0.6zM325.71 144.82h0.6v0.6h-0.6zM326.12 151.59h0.6v0.6h-0.6zM333.89 148.18h0.6v0.6h-0.6zM328.43 149.89h0.6v0.6h-0.6zM332.18 143.91h0.6v0.6h-0.6zM333.83 144.34h0.6v0.6h-0.6zM337.24 151.44h0.6v0.6h-0.6zM328.22 151.23h0.6v0.6h-0.6zM332.37 144.12h0.6v0.6h-0.6zM326.97 138.85h0.6v0.6h-0.6zM325.78 149.91h0.6v0.6h-0.6zM338.64 144.54h0.6v0.6h-0.6zM332.88 149.89h0.6v0.6h-0.6zM336.29 150.44h0.6v0.6h-0.6zM338.75 152.21h0.6v0.6h-0.6zM327.81 150.18h0.6v0.6h-0.6zM319.12 147.01h0.6v0.6h-0.6zM332.11 151.19h0.6v0.6h-0.6zM330.34 152.58h0.6v0.6h-0.6zM339.27 143.38h0.6v0.6h-0.6zM329.01 149.43h0.6v0.6h-0.6zM334.7 148.79h0.6v0.6h-0.6zM336.57 141.5h0.6v0.6h-0.6zM336.27 154.42h0.6v0.6h-0.6zM338.11 150.35h0.6v0.6h-0.6zM330.69 150.2h0.6v0.6h-0.6zM331.59 139.27h0.6v0.6h-0.6zM328.67 147.78h0.6v0.6h-0.6zM329.16 142.87h0.6v0.6h-0.6zM330.72 145.96h0.6v0.6h-0.6zM332.38 147.73h0.6v0.6h-0.6zM332.95 153.46h0.6v0.6h-0.6zM332.75 150.24h0.6v0.6h-0.6zM325.28 131.79h0.6v0.6h-0.6zM329.8 151.73h0.6v0.6h-0.6zM330.13 144.57h0.6v0.6h-0.6zM325.18 152.9h0.6v0.6h-0.6zM329.1 149.35h0.6v0.6h-0.6zM338.22 150.95h0.6v0.6h-0.6zM344.34 147.27h0.6v0.6h-0.6zM337.26 151.82h0.6v0.6h-0.6zM328.4 148.26h0.6v0.6h-0.6zM328.89 142.36h0.6v0.6h-0.6zM333.65 143.74h0.6v0.6h-0.6zM341.24 143.93h0.6v0.6h-0.6zM329.01 148.5h0.6v0.6h-0.6zM329.15 148.29h0.6v0.6h-0.6zM328.66 140.18h0.6v0.6h-0.6zM318.73 140.91h0.6v0.6h-0.6zM340.37 150.44h0.6v0.6h-0.6zM332.85 145.44h0.6v0.6h-0.6zM331.2 149.64h0.6v0.6h-0.6zM324.36 143.61h0.6v0.6h-0.6zM327.1 154.92h0.6v0.6h-0.6zM326.19 154.45h0.6v0.6h-0.6zM329.44 162.99h0.6v0.6h-0.6zM331.57 148.18h0.6v0.6h-0.6zM339.43 152.81h0.6v0.6h-0.6zM337.17 142.12h0.6v0.6h-0.6zM338.25 157.24h0.6v0.6h-0.6zM331.44 145.34h0.6v0.6h-0.6zM326 153.6h0.6v0.6h-0.6zM333.62 148.04h0.6v0.6h-0.6zM325.21 156.92h0.6v0.6h-0.6zM336.81 147.89h0.6v0.6h-0.6zM340.12 142.77h0.6v0.6h-0.6zM336.85 142.51h0.6v0.6h-0.6zM339.76 146.49h0.6v0.6h-0.6zM338.73 145.71h0.6v0.6h-0.6zM334.19 154.28h0.6v0.6h-0.6zM327.04 148.53h0.6v0.6h-0.6zM327.39 152.69h0.6v0.6h-0.6zM328.68 145.95h0.6v0.6h-0.6zM330.89 154.41h0.6v0.6h-0.6zM326.27 147.86h0.6v0.6h-0.6zM330.19 144.98h0.6v0.6h-0.6zM327.67 147.12h0.6v0.6h-0.6zM333.08 139.49h0.6v0.6h-0.6zM333.29 141.49h0.6v0.6h-0.6zM332.08 160.54h0.6v0.6h-0.6zM326.68 147.64h0.6v0.6h-0.6zM330.6 153.4h0.6v0.6h-0.6zM329.39 138.18h0.6v0.6h-0.6zM323.14 148.97h0.6v0.6h-0.6zM333.39 153.87h0.6v0.6h-0.6zM329.05 151.66h0.6v0.6h-0.6zM326.15 155.12h0.6v0.6h-0.6zM331.61 144.27h0.6v0.6h-0.6zM332.98 157.58h0.6v0.6h-0.6zM327.34 141.18h0.6v0.6h-0.6zM326.42 141.65h0.6v0.6h-0.6zM331.72 149.93h0.6v0.6h-0.6zM331.1 149.08h0.6v0.6h-0.6zM338.52 146.41h0.6v0.6h-0.6zM325.11 135.43h0.6v0.6h-0.6zM333.33 144.26h0.6v0.6h-0.6zM330.63 150.25h0.6v0.6h-0.6zM334.54 139.38h0.6v0.6h-0.6zM326.74 148.41h0.6v0.6h-0.6zM331.21 154.31h0.6v0.6h-0.6zM329.24 136.64h0.6v0.6h-0.6zM338.44 139h0.6v0.6h-0.6zM326.66 150.14h0.6v0.6h-0.6zM326.17 161.69h0.6v0.6h-0.6zM333.31 150.94h0.6v0.6h-0.6zM329.6 160.19h0.6v0.6h-0.6zM334.97 144.06h0.6v0.6h-0.6zM338.9 138.71h0.6v0.6h-0.6zM328.77 149.59h0.6v0.6h-0.6zM332.76 142.73h0.6v0.6h-0.6zM340.69 156.09h0.6v0.6h-0.6zM326.86 150.05h0.6v0.6h-0.6zM328.51 145.62h0.6v0.6h-0.6zM337.42 148.69h0.6v0.6h-0.6zM331.4 148.56h0.6v0.6h-0.6zM325.55 154.71h0.6v0.6h-0.6zM327.87 155.2h0.6v0.6h-0.6zM329.48 145.49h0.6v0.6h-0.6zM340.17 149.05h0.6v0.6h-0.6zM328.48 145.05h0.6v0.6h-0.6zM335.33 158.29h0.6v0.6h-0.6zM335.38 145.84h0.6v0.6h-0.6zM325.83 144.3h0.6v0.6h-0.6zM331.35 149.35h0.6v0.6h-0.6zM328.39 155.04h0.6v0.6h-0.6zM326.73 144.07h0.6v0.6h-0.6zM334.73 150.65h0.6v0.6h-0.6zM329.85 153.29h0.6v0.6h-0.6zM324.26 156.99h0.6v0.6h-0.6zM344.03 158.74h0.6v0.6h-0.6zM332.65 158.82h0.6v0.6h-0.6zM332.3 155.31h0.6v0.6h-0.6zM330.9 149.07h0.6v0.6h-0.6zM334.88 138.39h0.6v0.6h-0.6zM330.86 157.45h0.6v0.6h-0.6zM315.93 150.12h0.6v0.6h-0.6zM337.07 149.8h0.6v0.6h-0.6zM333.07 155.63h0.6v0.6h-0.6zM333.84 137.59h0.6v0.6h-0.6zM326.81 146.37h0.6v0.6h-0.6zM332.79 145.54h0.6v0.6h-0.6zM331.42 157.18h0.6v0.6h-0.6zM315.88 154.33h0.6v0.6h-0.6zM337.15 151.31h0.6v0.6h-0.6zM332.08 148.35h0.6v0.6h-0.6zM334 149.33h0.6v0.6h-0.6zM328.02 152.3h0.6v0.6h-0.6zM327.46 147.78h0.6v0.6h-0.6zM330.03 141.67h0.6v0.6h-0.6zM335.33 147.62h0.6v0.6h-0.6zM325.6 147.57h0.6v0.6h-0.6zM324.43 155.88h0.6v0.6h-0.6zM334.84 158.91h0.6v0.6h-0.6zM328.88 151.88h0.6v0.6h-0.6zM326.68 143.32h0.6v0.6h-0.6zM331.51 150.26h0.6v0.6h-0.6zM337.07 146.53h0.6v0.6h-0.6zM338.05 153.29h0.6v0.6h-0.6zM327.2 147.02h0.6v0.6h-0.6zM326.98 157.36h0.6v0.6h-0.6zM328.98 152.85h0.6v0.6h-0.6zM337.01 146.61h0.6v0.6h-0.6zM329.33 149.89h0.6v0.6h-0.6zM327.75 141.07h0.6v0.6h-0.6zM326.7 149.86h0.6v0.6h-0.6zM333.05 157.66h0.6v0.6h-0.6zM321.99 150.76h0.6v0.6h-0.6zM325.68 154.33h0.6v0.6h-0.6zM335.81 148.7h0.6v0.6h-0.6zM340.08 145.96h0.6v0.6h-0.6zM329.1 142.24h0.6v0.6h-0.6zM328.41 148.63h0.6v0.6h-0.6zM335.68 155.01h0.6v0.6h-0.6zM330.53 144.01h0.6v0.6h-0.6zM330.17 145.65h0.6v0.6h-0.6zM329.44 145.8h0.6v0.6h-0.6zM327.23 147.71h0.6v0.6h-0.6zM329.2 147.08h0.6v0.6h-0.6zM324.43 148.79h0.6v0.6h-0.6zM335.13 151.54h0.6v0.6h-0.6zM329 141.77h0.6v0.6h-0.6zM324.89 141.59h0.6v0.6h-0.6zM328.49 146.31h0.6v0.6h-0.6zM322.31 151.66h0.6v0.6h-0.6zM323.6 144.26h0.6v0.6h-0.6zM328.06 152.53h0.6v0.6h-0.6zM342.04 146.07h0.6v0.6h-0.6zM330.5 145.86h0.6v0.6h-0.6zM330.91 147.08h0.6v0.6h-0.6zM345.46 142.07h0.6v0.6h-0.6zM331.4 143.7h0.6v0.6h-0.6zM333.95 145.17h0.6v0.6h-0.6zM335.14 142.11h0.6v0.6h-0.6zM343.51 149.14h0.6v0.6h-0.6zM322.37 151.81h0.6v0.6h-0.6zM329.44 141.72h0.6v0.6h-0.6zM334.41 145.18h0.6v0.6h-0.6zM336.02 145.02h0.6v0.6h-0.6zM336.92 148.81h0.6v0.6h-0.6zM333.95 148.86h0.6v0.6h-0.6zM330.02 146.04h0.6v0.6h-0.6zM334.46 151.86h0.6v0.6h-0.6zM329.78 160.16h0.6v0.6h-0.6zM341.21 141.78h0.6v0.6h-0.6zM337.91 147.62h0.6v0.6h-0.6zM333.27 143.72h0.6v0.6h-0.6zM340.98 143.53h0.6v0.6h-0.6zM331.56 144.07h0.6v0.6h-0.6zM342.51 154.81h0.6v0.6h-0.6zM324.83 145.56h0.6v0.6h-0.6zM333.98 145.67h0.6v0.6h-0.6zM330.08 142.17h0.6v0.6h-0.6zM333.36 142.09h0.6v0.6h-0.6zM336.52 161h0.6v0.6h-0.6zM330.23 156.92h0.6v0.6h-0.6zM334.03 144.38h0.6v0.6h-0.6zM330.13 142.8h0.6v0.6h-0.6zM332.62 151.8h0.6v0.6h-0.6zM337.05 146.5h0.6v0.6h-0.6zM325.52 147.6h0.6v0.6h-0.6zM341.08 149.53h0.6v0.6h-0.6zM331.66 136.77h0.6v0.6h-0.6zM329.65 150.95h0.6v0.6h-0.6zM326.87 155.31h0.6v0.6h-0.6zM328.93 143.3h0.6v0.6h-0.6zM328.86 147.51h0.6v0.6h-0.6zM337.42 144.96h0.6v0.6h-0.6zM322.34 147.59h0.6v0.6h-0.6zM334.83 156.34h0.6v0.6h-0.6zM325.92 156.02h0.6v0.6h-0.6zM335.67 150.47h0.6v0.6h-0.6zM327.84 143.25h0.6v0.6h-0.6zM326.83 153.05h0.6v0.6h-0.6zM333.19 153.78h0.6v0.6h-0.6zM341.85 148.12h0.6v0.6h-0.6zM331.74 158.36h0.6v0.6h-0.6zM324.94 145.6h0.6v0.6h-0.6zM330 145.97h0.6v0.6h-0.6zM332.78 143.5h0.6v0.6h-0.6zM338.29 140.66h0.6v0.6h-0.6zM327.59 138.91h0.6v0.6h-0.6zM324.42 151.19h0.6v0.6h-0.6zM335.41 146.96h0.6v0.6h-0.6zM336.57 151.35h0.6v0.6h-0.6zM328.88 147.81h0.6v0.6h-0.6zM333.99 158.86h0.6v0.6h-0.6zM329.62 150.02h0.6v0.6h-0.6zM334.95 154.59h0.6v0.6h-0.6zM334.3 153.8h0.6v0.6h-0.6zM326.25 146.61h0.6v0.6h-0.6zM321.53 147.76h0.6v0.6h-0.6zM344.61 149.33h0.6v0.6h-0.6zM332.48 149.46h0.6v0.6h-0.6zM332.79 140.9h0.6v0.6h-0.6zM328.26 147.09h0.6v0.6h-0.6zM332.91 143.38h0.6v0.6h-0.6zM331.43 144.08h0.6v0.6h-0.6zM324.87 144.49h0.6v0.6h-0.6zM327.65 152.54h0.6v0.6h-0.6zM339.24 151.15h0.6v0.6h-0.6zM330.86 145.04h0.6v0.6h-0.6zM323.51 145.2h0.6v0.6h-0.6zM340.46 154.24h0.6v0.6h-0.6zM333.22 146.71h0.6v0.6h-0.6zM332.02 150.3h0.6v0.6h-0.6zM331.96 150.34h0.6v0.6h-0.6zM327.83 148.28h0.6v0.6h-0.6zM330.1 153.82h0.6v0.6h-0.6zM325.3 155h0.6v0.6h-0.6zM331.54 145.33h0.6v0.6h-0.6zM332.12 148.7h0.6v0.6h-0.6zM330.74 150.31h0.6v0.6h-0.6zM328.88 138.95h0.6v0.6h-0.6zM335.77 147.9h0.6v0.6h-0.6zM341.01 150.11h0.6v0.6h-0.6zM321.18 154.7h0.6v0.6h-0.6zM328.29 150.98h0.6v0.6h-0.6zM344 153.9h0.6v0.6h-0.6zM326.09 147.55h0.6v0.6h-0.6zM323.32 151.62h0.6v0.6h-0.6zM335.04 142.54h0.6v0.6h-0.6zM334.45 153.05h0.6v0.6h-0.6zM336.37 144.45h0.6v0.6h-0.6zM328.26 142.03h0.6v0.6h-0.6zM325.02 149.73h0.6v0.6h-0.6zM332.22 155.02h0.6v0.6h-0.6zM333.48 146.31h0.6v0.6h-0.6zM324.29 156.32h0.6v0.6h-0.6zM332.89 147.88h0.6v0.6h-0.6zM326.57 142.43h0.6v0.6h-0.6zM335.42 142.83h0.6v0.6h-0.6zM335.16 151.41h0.6v0.6h-0.6zM329.94 139.36h0.6v0.6h-0.6zM334.22 155.57h0.6v0.6h-0.6zM327.55 141.29h0.6v0.6h-0.6zM337.88 148.81h0.6v0.6h-0.6zM328.63 154.61h0.6v0.6h-0.6zM330.51 150.46h0.6v0.6h-0.6zM329.83 144.03h0.6v0.6h-0.6zM333.19 143.45h0.6v0.6h-0.6zM322.42 145.16h0.6v0.6h-0.6zM338.67 153.92h0.6v0.6h-0.6zM343.74 153.36h0.6v0.6h-0.6zM340.72 149.39h0.6v0.6h-0.6zM329.65 150.54h0.6v0.6h-0.6zM326.87 151.98h0.6v0.6h-0.6zM329.58 149.43h0.6v0.6h-0.6zM327.4 147.34h0.6v0.6h-0.6zM337.29 146.9h0.6v0.6h-0.6zM328.37 149.56h0.6v0.6h-0.6zM336.75 147.06h0.6v0.6h-0.6zM325.69 139.73h0.6v0.6h-0.6zM324.77 153.74h0.6v0.6h-0.6zM331.52 150.61h0.6v0.6h-0.6zM337.79 149.57h0.6v0.6h-0.6zM334.6 145.36h0.6v0.6h-0.6zM323.31 151.41h0.6v0.6h-0.6zM331.48 151.12h0.6v0.6h-0.6zM326.25 147.3h0.6v0.6h-0.6zM342.87 143.58h0.6v0.6h-0.6zM332.53 155.04h0.6v0.6h-0.6zM330.75 148.73h0.6v0.6h-0.6zM320.51 152.19h0.6v0.6h-0.6zM329.62 154.91h0.6v0.6h-0.6zM331.51 146.08h0.6v0.6h-0.6zM334.35 146.79h0.6v0.6h-0.6zM329.22 156.27h0.6v0.6h-0.6zM337.3 148.65h0.6v0.6h-0.6zM336.36 152.45h0.6v0.6h-0.6zM335.13 148.31h0.6v0.6h-0.6zM332.39 150.23h0.6v0.6h-0.6zM335.05 149.95h0.6v0.6h-0.6zM329.03 147.67h0.6v0.6h-0.6zM334.47 142.85h0.6v0.6h-0.6zM331.95 152.08h0.6v0.6h-0.6zM332.91 146.56h0.6v0.6h-0.6zM331.88 145.51h0.6v0.6h-0.6zM337.3 146.08h0.6v0.6h-0.6zM323.03 141.68h0.6v0.6h-0.6zM333.62 149.18h0.6v0.6h-0.6zM329.46 141.13h0.6v0.6h-0.6zM331.2 143.64h0.6v0.6h-0.6zM328.47 148.07h0.6v0.6h-0.6zM327.87 149.72h0.6v0.6h-0.6zM328.02 145.62h0.6v0.6h-0.6zM330.78 155.79h0.6v0.6h-0.6zM340.49 153.06h0.6v0.6h-0.6zM328.04 148.11h0.6v0.6h-0.6zM336.92 152.33h0.6v0.6h-0.6zM323.23 147.79h0.6v0.6h-0.6zM328.02 152.04h0.6v0.6h-0.6zM335.43 145.25h0.6v0.6h-0.6zM343.54 146.62h0.6v0.6h-0.6zM345.15 147.19h0.6v0.6h-0.6zM331.54 158.08h0.6v0.6h-0.6zM329.17 145.6h0.6v0.6h-0.6zM339.94 147.88h0.6v0.6h-0.6zM334.57 141.46h0.6v0.6h-0.6zM341.63 153.26h0.6v0.6h-0.6zM333.92 151.8h0.6v0.6h-0.6zM329.31 145.59h0.6v0.6h-0.6zM323.54 150.03h0.6v0.6h-0.6zM338.66 152.59h0.6v0.6h-0.6zM336.95 151.81h0.6v0.6h-0.6zM327.05 141.23h0.6v0.6h-0.6zM335.45 148.96h0.6v0.6h-0.6zM337.31 146.64h0.6v0.6h-0.6zM327.25 150.42h0.6v0.6h-0.6zM329 139.48h0.6v0.6h-0.6zM328.73 143.48h0.6v0.6h-0.6zM326 145.2h0.6v0.6h-0.6zM337.11 160.43h0.6v0.6h-0.6zM341.3 145.91h0.6v0.6h-0.6zM338.15 147.71h0.6v0.6h-0.6zM334.17 144.54h0.6v0.6h-0.6zM331.6 139.29h0.6v0.6h-0.6zM341.65 144.08h0.6v0.6h-0.6zM335.15 145.01h0.6v0.6h-0.6zM333.46 141.93h0.6v0.6h-0.6zM329.98 152.87h0.6v0.6h-0.6zM335.2 137.92h0.6v0.6h-0.6zM336.59 141.22h0.6v0.6h-0.6zM333.54 150.81h0.6v0.6h-0.6zM328.54 146.43h0.6v0.6h-0.6zM330.68 150.19h0.6v0.6h-0.6zM336.92 155.22h0.6v0.6h-0.6zM333.76 158.53h0.6v0.6h-0.6zM326.9 157.4h0.6v0.6h-0.6zM330.59 152.1h0.6v0.6h-0.6zM331.32 148.53h0.6v0.6h-0.6zM327.06 150.12h0.6v0.6h-0.6zM342.9 148.87h0.6v0.6h-0.6zM331.89 148.11h0.6v0.6h-0.6zM335.84 147.02h0.6v0.6h-0.6zM331.98 149.22h0.6v0.6h-0.6zM339.01 153.06h0.6v0.6h-0.6zM326.33 144.79h0.6v0.6h-0.6zM332.11 152.52h0.6v0.6h-0.6zM337.21 147.01h0.6v0.6h-0.6zM343.45 147.24h0.6v0.6h-0.6zM339.57 155.53h0.6v0.6h-0.6zM340.59 149.14h0.6v0.6h-0.6zM335.1 140.11h0.6v0.6h-0.6zM322.42 144.9h0.6v0.6h-0.6zM335.87 153.65h0.6v0.6h-0.6zM331.45 153.52h0.6v0.6h-0.6zM335.11 156.05h0.6v0.6h-0.6zM323.43 143.76h0.6v0.6h-0.6zM326.85 142.64h0.6v0.6h-0.6zM340.88 143.26h0.6v0.6h-0.6zM327.54 146.01h0.6v0.6h-0.6zM336.76 145.68h0.6v0.6h-0.6zM335.97 150.96h0.6v0.6h-0.6zM328.55 135.75h0.6v0.6h-0.6zM327.06 141.57h0.6v0.6h-0.6zM340.81 144.34h0.6v0.6h-0.6zM326.23 150.06h0.6v0.6h-0.6zM332.29 143.2h0.6v0.6h-0.6zM337.9 152.87h0.6v0.6h-0.6zM333.5 144.13h0.6v0.6h-0.6zM327.3 137.38h0.6v0.6h-0.6zM334.07 150.14h0.6v0.6h-0.6zM327.04 148.22h0.6v0.6h-0.6zM349.67 142.19h0.6v0.6h-0.6zM322.8 151.27h0.6v0.6h-0.6zM329.7 145.5h0.6v0.6h-0.6zM335.35 147.4h0.6v0.6h-0.6zM337.36 150.77h0.6v0.6h-0.6zM338.26 148.7h0.6v0.6h-0.6zM320.37 155.17h0.6v0.6h-0.6zM322.83 153.53h0.6v0.6h-0.6zM333.36 140.82h0.6v0.6h-0.6zM332.36 152.68h0.6v0.6h-0.6zM326.49 148.29h0.6v0.6h-0.6zM328.02 142.83h0.6v0.6h-0.6zM328.67 154.74h0.6v0.6h-0.6zM335.7 147.92h0.6v0.6h-0.6zM331.56 148.74h0.6v0.6h-0.6zM333.54 149.03h0.6v0.6h-0.6zM322.74 152.88h0.6v0.6h-0.6zM327.38 134.46h0.6v0.6h-0.6zM335.79 141.76h0.6v0.6h-0.6zM331.24 147.58h0.6v0.6h-0.6zM328.81 150.86h0.6v0.6h-0.6zM330.53 146.61h0.6v0.6h-0.6zM326.85 146.6h0.6v0.6h-0.6zM326.41 148.28h0.6v0.6h-0.6zM339.14 153.34h0.6v0.6h-0.6zM334.31 140.94h0.6v0.6h-0.6zM337.55 152.95h0.6v0.6h-0.6zM343.13 136.29h0.6v0.6h-0.6zM332.09 146.32h0.6v0.6h-0.6zM337.88 142.38h0.6v0.6h-0.6zM329.95 160.19h0.6v0.6h-0.6zM337.37 137.63h0.6v0.6h-0.6zM332.11 155.21h0.6v0.6h-0.6zM328.66 151.18h0.6v0.6h-0.6zM332.54 140.4h0.6v0.6h-0.6zM328.62 153.99h0.6v0.6h-0.6zM338.4 144.9h0.6v0.6h-0.6zM338.08 144.33h0.6v0.6h-0.6zM333.34 147.93h0.6v0.6h-0.6zM325.25 149.74h0.6v0.6h-0.6zM329.9 133.67h0.6v0.6h-0.6zM327.52 143.61h0.6v0.6h-0.6zM327.49 142.93h0.6v0.6h-0.6zM328.28 135.2h0.6v0.6h-0.6zM336.82 148.42h0.6v0.6h-0.6zM333.38 146.65h0.6v0.6h-0.6zM332.35 146.67h0.6v0.6h-0.6zM326.11 140.08h0.6v0.6h-0.6zM332.4 153.37h0.6v0.6h-0.6zM333.27 156.5h0.6v0.6h-0.6zM324.62 146.65h0.6v0.6h-0.6zM328.66 154.5h0.6v0.6h-0.6zM341.17 145.3h0.6v0.6h-0.6zM335.96 146.76h0.6v0.6h-0.6zM326.6 147.45h0.6v0.6h-0.6zM326.37 156.17h0.6v0.6h-0.6zM335.19 154.27h0.6v0.6h-0.6zM333.94 135.27h0.6v0.6h-0.6zM336.34 148.51h0.6v0.6h-0.6zM319.1 148.56h0.6v0.6h-0.6zM337.47 157.01h0.6v0.6h-0.6zM326.47 152.17h0.6v0.6h-0.6zM333.8 147.12h0.6v0.6h-0.6zM330.47 150.81h0.6v0.6h-0.6zM335.12 151.49h0.6v0.6h-0.6zM329.79 141.1h0.6v0.6h-0.6zM339.13 154.85h0.6v0.6h-0.6zM328.95 147.86h0.6v0.6h-0.6zM336.37 138.78h0.6v0.6h-0.6zM334.7 160.75h0.6v0.6h-0.6zM333.47 144.31h0.6v0.6h-0.6zM343.05 148.07h0.6v0.6h-0.6zM333.15 145.79h0.6v0.6h-0.6zM332.98 138.58h0.6v0.6h-0.6zM325.06 140.26h0.6v0.6h-0.6zM336.88 147.53h0.6v0.6h-0.6zM338.24 137.29h0.6v0.6h-0.6zM328.76 155.69h0.6v0.6h-0.6zM327.71 138.2h0.6v0.6h-0.6zM327.97 146.2h0.6v0.6h-0.6zM331.93 154.88h0.6v0.6h-0.6zM339.19 156.19h0.6v0.6h-0.6zM335.14 145.37h0.6v0.6h-0.6zM329.32 140.22h0.6v0.6h-0.6zM338.88 154.62h0.6v0.6h-0.6zM332.48 143.32h0.6v0.6h-0.6zM335.65 150.59h0.6v0.6h-0.6zM332.83 141.89h0.6v0.6h-0.6zM333.29 145.03h0.6v0.6h-0.6zM336 151.16h0.6v0.6h-0.6zM334.38 145.76h0.6v0.6h-0.6zM340.24 152.09h0.6v0.6h-0.6zM338.86 152.43h0.6v0.6h-0.6zM335.58 150.07h0.6v0.6h-0.6zM326.22 138.42h0.6v0.6h-0.6zM326.94 151.25h0.6v0.6h-0.6zM336.92 148.97h0.6v0.6h-0.6zM332.48 157.69h0.6v0.6h-0.6zM329.85 138.61h0.6v0.6h-0.6zM323.64 146.31h0.6v0.6h-0.6zM335.78 151.89h0.6v0.6h-0.6zM330.81 152.32h0.6v0.6h-0.6zM331.74 144.19h0.6v0.6h-0.6zM329.96 151.99h0.6v0.6h-0.6zM337.15 142.08h0.6v0.6h-0.6zM326.66 148.65h0.6v0.6h-0.6zM343.48 141.84h0.6v0.6h-0.6zM325.24 150.21h0.6v0.6h-0.6zM334.75 144.78h0.6v0.6h-0.6zM331.86 150.56h0.6v0.6h-0.6zM322.59 147.88h0.6v0.6h-0.6zM335.24 152.87h0.6v0.6h-0.6zM338.29 147.63h0.6v0.6h-0.6zM324.22 155.09h0.6v0.6h-0.6zM336.16 144.65h0.6v0.6h-0.6zM337.58 153.48h0.6v0.6h-0.6zM331.25 135.56h0.6v0.6h-0.6zM329.47 144.02h0.6v0.6h-0.6zM327.49 147.57h0.6v0.6h-0.6zM326.17 150.06h0.6v0.6h-0.6zM342.19 141.73h0.6v0.6h-0.6zM337.61 145.2h0.6v0.6h-0.6zM334.93 147.33h0.6v0.6h-0.6zM338.92 144.26h0.6v0.6h-0.6zM335.95 143.92h0.6v0.6h-0.6zM333.24 147.93h0.6v0.6h-0.6zM337.87 139.69h0.6v0.6h-0.6zM324.73 155.34h0.6v0.6h-0.6zM334.08 156.95h0.6v0.6h-0.6zM326.45 149.11h0.6v0.6h-0.6zM335.25 157.32h0.6v0.6h-0.6zM331.72 145.64h0.6v0.6h-0.6zM335.85 147.46h0.6v0.6h-0.6zM327.97 152.02h0.6v0.6h-0.6zM321.75 142.65h0.6v0.6h-0.6zM339.33 145.37h0.6v0.6h-0.6zM330.26 149.96h0.6v0.6h-0.6zM338.04 150.79h0.6v0.6h-0.6zM326.81 145.01h0.6v0.6h-0.6zM337.65 147.37h0.6v0.6h-0.6zM328.61 152.61h0.6v0.6h-0.6zM338.14 159.47h0.6v0.6h-0.6zM326.21 144.28h0.6v0.6h-0.6zM328.27 149.87h0.6v0.6h-0.6zM329.44 153.88h0.6v0.6h-0.6zM317.55 153.07h0.6v0.6h-0.6zM328.54 146.55h0.6v0.6h-0.6zM335.06 149.07h0.6v0.6h-0.6zM326.56 155.92h0.6v0.6h-0.6zM335.1 145.41h0.6v0.6h-0.6zM333.12 142.17h0.6v0.6h-0.6zM325.4 146.42h0.6v0.6h-0.6zM333.96 148.54h0.6v0.6h-0.6zM327.84 140.7h0.6v0.6h-0.6zM322.99 156.42h0.6v0.6h-0.6zM333.98 143.78h0.6v0.6h-0.6zM338.37 150.85h0.6v0.6h-0.6zM329.78 144.77h0.6v0.6h-0.6zM338.12 149.73h0.6v0.6h-0.6zM340.78 149.92h0.6v0.6h-0.6zM328.86 144.84h0.6v0.6h-0.6zM328.23 149.34h0.6v0.6h-0.6zM333.36 151.2h0.6v0.6h-0.6zM334.42 142.46h0.6v0.6h-0.6zM330.91 143.04h0.6v0.6h-0.6zM334.59 141.06h0.6v0.6h-0.6zM328.89 143.48h0.6v0.6h-0.6zM328.69 146.65h0.6v0.6h-0.6zM340.1 146.65h0.6v0.6h-0.6zM324.31 146.41h0.6v0.6h-0.6zM336.01 150.92h0.6v0.6h-0.6zM333.28 158.51h0.6v0.6h-0.6zM337.95 148.48h0.6v0.6h-0.6zM338.51 140.94h0.6v0.6h-0.6zM331.09 143.43h0.6v0.6h-0.6zM332.95 156.53h0.6v0.6h-0.6zM329.35 156.41h0.6v0.6h-0.6zM326.53 155.52h0.6v0.6h-0.6zM322.93 143.52h0.6v0.6h-0.6zM337.34 147.52h0.6v0.6h-0.6zM332.78 147.93h0.6v0.6h-0.6zM332.97 147.06h0.6v0.6h-0.6zM326.77 146.47h0.6v0.6h-0.6zM332.6 143.25h0.6v0.6h-0.6zM334.5 157.3h0.6v0.6h-0.6zM323.22 145.13h0.6v0.6h-0.6zM330.5 148.1h0.6v0.6h-0.6zM332.51 144.18h0.6v0.6h-0.6zM331.82 148.03h0.6v0.6h-0.6zM331.54 156.13h0.6v0.6h-0.6zM332.7 140.21h0.6v0.6h-0.6zM323.63 151.12h0.6v0.6h-0.6zM330.18 144.74h0.6v0.6h-0.6zM324.76 146.37h0.6v0.6h-0.6zM331.51 144.38h0.6v0.6h-0.6zM330.12 152.68h0.6v0.6h-0.6zM336.19 150.89h0.6v0.6h-0.6zM331.07 140.84h0.6v0.6h-0.6zM336.15 155.9h0.6v0.6h-0.6zM338.81 154.14h0.6v0.6h-0.6zM333.48 149.98h0.6v0.6h-0.6zM331.93 154.62h0.6v0.6h-0.6zM330.57 159.33h0.6v0.6h-0.6zM336.16 146.3h0.6v0.6h-0.6zM331.99 139.52h0.6v0.6h-0.6zM328.09 146.42h0.6v0.6h-0.6zM345.09 143.71h0.6v0.6h-0.6zM336.91 148.41h0.6v0.6h-0.6zM330.42 151.3h0.6v0.6h-0.6zM321.35 152.99h0.6v0.6h-0.6zM342.34 149.56h0.6v0.6h-0.6zM331.67 148.85h0.6v0.6h-0.6zM335.54 145.42h0.6v0.6h-0.6zM332.65 150.66h0.6v0.6h-0.6zM330.14 150.06h0.6v0.6h-0.6zM333.78 151.77h0.6v0.6h-0.6zM326.73 145.17h0.6v0.6h-0.6zM329.72 154.32h0.6v0.6h-0.6zM333.33 139.28h0.6v0.6h-0.6zM325.18 158.24h0.6v0.6h-0.6zM333.81 141.17h0.6v0.6h-0.6zM327.14 148.75h0.6v0.6h-0.6zM339.62 156.55h0.6v0.6h-0.6zM330.05 146.42h0.6v0.6h-0.6zM342.25 142.82h0.6v0.6h-0.6zM340.35 149.79h0.6v0.6h-0.6zM332.5 154.79h0.6v0.6h-0.6zM334.58 143.59h0.6v0.6h-0.6zM323.86 148.09h0.6v0.6h-0.6zM334.74 155.22h0.6v0.6h-0.6zM318.05 155.08h0.6v0.6h-0.6z" fill="#000" fill-opacity="0.6"/>
<path d="M327.01 161.47h0.6v0.6h-0.6zM327.87 153.33h0.6v0.6h-0.6zM326.1 154.49h0.6v0.6h-0.6zM320.95 151.29h0.6v0.6h-0.6zM324.62 149.19h0.6v0.6h-0.6zM316.89 142.98h0.6v0.6h-0.6zM326.45 155.25h0.6v0.6h-0.6zM324.53 144.71h0.6v0.6h-0.6zM328.13 149.56h0.6v0.6h-0.6zM313.93 161.77h0.6v0.6h-0.6zM326.59 149.25h0.6v0.6h-0.6zM312.59 147.61h0.6v0.6h-0.6zM331.19 160.5h0.6v0.6h-0.6zM325.26 141.31h0.6v0.6h-0.6zM322.15 150.23h0.6v0.6h-0.6zM326.24 151.22h0.6v0.6h-0.6zM325.68 141.81h0.6v0.6h-0.6zM320.88 161h0.6v0.6h-0.6zM316.95 157.77h0.6v0.6h-0.6zM335.21 156.07h0.6v0.6h-0.6zM317.26 159.78h0.6v0.6h-0.6zM315 154.11h0.6v0.6h-0.6zM322.02 159.74h0.6v0.6h-0.6zM329.72 153.19h0.6v0.6h-0.6zM332.7 158.14h0.6v0.6h-0.6zM321.68 145.86h0.6v0.6h-0.6zM335.95 149.47h0.6v0.6h-0.6zM326 151.28h0.6v0.6h-0.6zM321.71 141.95h0.6v0.6h-0.6zM323.3 151.28h0.6v0.6h-0.6zM328.77 148.79h0.6v0.6h-0.6zM316.41 145.29h0.6v0.6h-0.6zM323.81 153.56h0.6v0.6h-0.6zM327.52 149.61h0.6v0.6h-0.6zM326.62 152.9h0.6v0.6h-0.6zM332.2 151.65h0.6v0.6h-0.6zM324.7 155.54h0.6v0.6h-0.6zM329.92 146.24h0.6v0.6h-0.6zM321.7 150.28h0.6v0.6h-0.6zM313.65 160.15h0.6v0.6h-0.6zM329.21 152.14h0.6v0.6h-0.6zM340.35 159.96h0.6v0.6h-0.6zM333.82 161.83h0.6v0.6h-0.6zM328.4 143.14h0.6v0.6h-0.6zM331.44 154.63h0.6v0.6h-0.6zM318.19 152.33h0.6v0.6h-0.6zM327.67 158.16h0.6v0.6h-0.6zM324.85 148.73h0.6v0.6h-0.6zM327.72 147.24h0.6v0.6h-0.6zM323.63 156.78h0.6v0.6h-0.6zM317.01 154.35h0.6v0.6h-0.6zM314.49 146.2h0.6v0.6h-0.6zM318.02 151.44h0.6v0.6h-0.6zM327.47 151.68h0.6v0.6h-0.6zM328.44 152.6h0.6v0.6h-0.6zM323.01 155.08h0.6v0.6h-0.6zM322.84 152.85h0.6v0.6h-0.6zM329.06 148.43h0.6v0.6h-0.6zM329.6 145.06h0.6v0.6h-0.6zM322.94 141.13h0.6v0.6h-0.6zM321.42 161.96h0.6v0.6h-0.6zM325.73 159.96h0.6v0.6h-0.6zM316.86 145.66h0.6v0.6h-0.6zM326.27 157.19h0.6v0.6h-0.6zM328.06 141.51h0.6v0.6h-0.6zM326.49 151.55h0.6v0.6h-0.6zM324.59 154.99h0.6v0.6h-0.6zM322.64 141.39h0.6v0.6h-0.6zM318.81 142.94h0.6v0.6h-0.6zM317.6 151.16h0.6v0.6h-0.6zM330.36 147.53h0.6v0.6h-0.6zM320.29 144.8h0.6v0.6h-0.6zM315.6 152.42h0.6v0.6h-0.6zM321.64 150.5h0.6v0.6h-0.6zM319.33 155.05h0.6v0.6h-0.6zM318.16 155.44h0.6v0.6h-0.6zM320.78 156.94h0.6v0.6h-0.6zM319.68 154.78h0.6v0.6h-0.6zM326.14 151.5h0.6v0.6h-0.6zM331.95 153.1h0.6v0.6h-0.6zM319.68 156.34h0.6v0.6h-0.6zM319.99 148.61h0.6v0.6h-0.6zM324.06 153.14h0.6v0.6h-0.6zM332.3 141.05h0.6v0.6h-0.6zM322.75 159.09h0.6v0.6h-0.6zM323.22 154.02h0.6v0.6h-0.6zM331.43 144.28h0.6v0.6h-0.6zM324.22 156.98h0.6v0.6h-0.6zM321.15 141.01h0.6v0.6h-0.6zM319.14 153.22h0.6v0.6h-0.6zM324.92 163.57h0.6v0.6h-0.6zM330.46 142.29h0.6v0.6h-0.6zM329.05 157.74h0.6v0.6h-0.6zM331.89 151.04h0.6v0.6h-0.6zM321.29 152.92h0.6v0.6h-0.6zM331.53 155.91h0.6v0.6h-0.6zM332.27 156.94h0.6v0.6h-0.6zM321.14 145.65h0.6v0.6h-0.6zM333.02 142.49h0.6v0.6h-0.6zM322.3 150.01h0.6v0.6h-0.6zM319.56 148.41h0.6v0.6h-0.6zM323.68 148.71h0.6v0.6h-0.6zM324.6 157.9h0.6v0.6h-0.6zM320.03 149.45h0.6v0.6h-0.6zM315.49 156.41h0.6v0.6h-0.6zM327.32 161.43h0.6v0.6h-0.6zM328.25 150.27h0.6v0.6h-0.6zM322.1 150.05h0.6v0.6h-0.6zM318.09 156.85h0.6v0.6h-0.6zM321.04 147.46h0.6v0.6h-0.6zM326.52 152.71h0.6v0.6h-0.6zM321.16 150.52h0.6v0.6h-0.6zM321.6 160.47h0.6v0.6h-0.6zM328.88 147.43h0.6v0.6h-0.6zM323.81 160.63h0.6v0.6h-0.6zM322.6 163.2h0.6v0.6h-0.6zM326.17 156.21h0.6v0.6h-0.6zM313.88 157.34h0.6v0.6h-0.6zM325.66 155.66h0.6v0.6h-0.6zM326.35 155.32h0.6v0.6h-0.6zM321.52 157.67h0.6v0.6h-0.6zM324.31 145.4h0.6v0.6h-0.6zM319.04 153.02h0.6v0.6h-0.6zM325.64 138.12h0.6v0.6h-0.6zM313.94 158.61h0.6v0.6h-0.6zM316.53 150.44h0.6v0.6h-0.6zM321.08 155.51h0.6v0.6h-0.6zM330.87 162.16h0.6v0.6h-0.6zM319.08 159.77h0.6v0.6h-0.6zM318.07 153.94h0.6v0.6h-0.6zM324.84 155.91h0.6v0.6h-0.6zM320.1 160.42h0.6v0.6h-0.6zM323.67 151.88h0.6v0.6h-0.6zM322.7 145.28h0.6v0.6h-0.6zM327.52 154.12h0.6v0.6h-0.6zM326.22 163.74h0.6v0.6h-0.6zM319.77 150.21h0.6v0.6h-0.6zM324.04 157.39h0.6v0.6h-0.6zM323.13 157.89h0.6v0.6h-0.6zM326.23 140.91h0.6v0.6h-0.6zM320.67 139.2h0.6v0.6h-0.6zM322.61 149.37h0.6v0.6h-0.6zM326.88 153.08h0.6v0.6h-0.6zM323.69 159.96h0.6v0.6h-0.6zM326.9 144.24h0.6v0.6h-0.6zM320.63 154.07h0.6v0.6h-0.6zM332.31 150.75h0.6v0.6h-0.6zM323.17 153.68h0.6v0.6h-0.6zM327.82 151.43h0.6v0.6h-0.6zM325.44 149.35h0.6v0.6h-0.6zM321.31 146.99h0.6v0.6h-0.6zM327.22 148.49h0.6v0.6h-0.6zM326.68 154.56h0.6v0.6h-0.6zM328.75 135.07h0.6v0.6h-0.6zM319.29 144.31h0.6v0.6h-0.6zM323.2 157.08h0.6v0.6h-0.6zM336.37 161.75h0.6v0.6h-0.6zM330.63 154.41h0.6v0.6h-0.6zM322.11 155.38h0.6v0.6h-0.6zM313.37 157.88h0.6v0.6h-0.6zM324.04 155.9h0.6v0.6h-0.6zM318.97 145.09h0.6v0.6h-0.6zM320.86 151.73h0.6v0.6h-0.6zM325.7 149.76h0.6v0.6h-0.6zM325.71 156.3h0.6v0.6h-0.6zM318.33 151.36h0.6v0.6h-0.6zM316.4 148.54h0.6v0.6h-0.6zM328.42 147.49h0.6v0.6h-0.6zM333.1 155.19h0.6v0.6h-0.6zM328.35 152.66h0.6v0.6h-0.6zM328.23 158.91h0.6v0.6h-0.6zM324.52 148.65h0.6v0.6h-0.6zM321.32 164.2h0.6v0.6h-0.6zM323.11 149.11h0.6v0.6h-0.6zM320.54 141.35h0.6v0.6h-0.6zM321.56 154.05h0.6v0.6h-0.6zM321.63 147.21h0.6v0.6h-0.6zM326 154.91h0.6v0.6h-0.6zM321.87 153.95h0.6v0.6h-0.6zM319.25 157.44h0.6v0.6h-0.6zM319.19 149.87h0.6v0.6h-0.6zM324.66 149.35h0.6v0.6h-0.6zM331.41 140.98h0.6v0.6h-0.6zM324.59 143.98h0.6v0.6h-0.6zM325.52 143.76h0.6v0.6h-0.6zM326.84 155.36h0.6v0.6h-0.6zM332.35 159.62h0.6v0.6h-0.6zM321.76 157.98h0.6v0.6h-0.6zM321.76 151.29h0.6v0.6h-0.6zM321.56 140.86h0.6v0.6h-0.6zM326.95 139.15h0.6v0.6h-0.6zM322.85 155.32h0.6v0.6h-0.6zM324.56 142.03h0.6v0.6h-0.6zM320.83 156.31h0.6v0.6h-0.6zM329.37 162.09h0.6v0.6h-0.6zM315.14 154.91h0.6v0.6h-0.6zM321.65 156.84h0.6v0.6h-0.6zM315.76 151.11h0.6v0.6h-0.6zM327.46 147.92h0.6v0.6h-0.6zM322.23 145.8h0.6v0.6h-0.6zM329.45 143.6h0.6v0.6h-0.6zM319.54 149.9h0.6v0.6h-0.6zM325.34 146.73h0.6v0.6h-0.6zM326.84 154.17h0.6v0.6h-0.6zM325.38 151.59h0.6v0.6h-0.6zM326.26 144.58h0.6v0.6h-0.6zM318.13 149.31h0.6v0.6h-0.6zM318.61 156.43h0.6v0.6h-0.6zM333.48 159.82h0.6v0.6h-0.6zM326.18 154.14h0.6v0.6h-0.6zM320.65 143.78h0.6v0.6h-0.6zM326.68 142.64h0.6v0.6h-0.6zM325.48 151.11h0.6v0.6h-0.6zM327.67 152.32h0.6v0.6h-0.6zM324.52 148.32h0.6v0.6h-0.6zM315.59 149.82h0.6v0.6h-0.6zM327.4 158.62h0.6v0.6h-0.6zM330.73 145.7h0.6v0.6h-0.6zM319.42 156.44h0.6v0.6h-0.6zM325.54 142.39h0.6v0.6h-0.6zM321.29 161.94h0.6v0.6h-0.6zM315.08 152.97h0.6v0.6h-0.6zM317.23 162.14h0.6v0.6h-0.6zM321.82 145.48h0.6v0.6h-0.6zM315.65 147.49h0.6v0.6h-0.6zM334.66 152.63h0.6v0.6h-0.6zM322.7 144.65h0.6v0.6h-0.6zM325.67 149.01h0.6v0.6h-0.6zM319.86 160.76h0.6v0.6h-0.6zM326.15 146.38h0.6v0.6h-0.6zM331.23 151.65h0.6v0.6h-0.6zM326.46 152.94h0.6v0.6h-0.6zM329.76 155.9h0.6v0.6h-0.6zM322.3 156.55h0.6v0.6h-0.6zM322.09 152.85h0.6v0.6h-0.6zM332.02 145.28h0.6v0.6h-0.6zM318.94 149.46h0.6v0.6h-0.6zM321.56 160.24h0.6v0.6h-0.6zM331.75 149.15h0.6v0.6h-0.6zM324.91 149.72h0.6v0.6h-0.6zM327.28 156.2h0.6v0.6h-0.6zM327.68 156.85h0.6v0.6h-0.6zM333.45 150.92h0.6v0.6h-0.6zM327.42 150.82h0.6v0.6h-0.6zM324.19 153.39h0.6v0.6h-0.6zM323.75 154.19h0.6v0.6h-0.6zM319.84 151.03h0.6v0.6h-0.6zM321.04 144.6h0.6v0.6h-0.6zM320.54 148.85h0.6v0.6h-0.6zM323.27 142.11h0.6v0.6h-0.6zM322.74 144.85h0.6v0.6h-0.6zM320 153.2h0.6v0.6h-0.6zM329.42 153.81h0.6v0.6h-0.6zM321.61 149.22h0.6v0.6h-0.6zM330.55 141.71h0.6v0.6h-0.6zM329.57 142.48h0.6v0.6h-0.6zM320.9 152.3h0.6v0.6h-0.6zM322.92 162.54h0.6v0.6h-0.6zM326.42 151.7h0.6v0.6h-0.6zM328.66 152.24h0.6v0.6h-0.6zM320.06 159.12h0.6v0.6h-0.6zM331.33 160.12h0.6v0.6h-0.6zM318.25 164.1h0.6v0.6h-0.6zM321.96 156.87h0.6v0.6h-0.6zM316.09 145.53h0.6v0.6h-0.6zM329.77 155.14h0.6v0.6h-0.6zM322.47 133.43h0.6v0.6h-0.6zM326.16 150.82h0.6v0.6h-0.6zM323.98 153.48h0.6v0.6h-0.6zM327.69 150.31h0.6v0.6h-0.6zM319.61 149.71h0.6v0.6h-0.6zM313.7 144.91h0.6v0.6h-0.6zM333.67 147.64h0.6v0.6h-0.6zM323.61 164.05h0.6v0.6h-0.6zM329.15 152.78h0.6v0.6h-0.6zM327.6 150.29h0.6v0.6h-0.6zM319.57 158.36h0.6v0.6h-0.6zM324.66 162.17h0.6v0.6h-0.6zM322.72 149.62h0.6v0.6h-0.6zM325.69 150.8h0.6v0.6h-0.6zM322.47 146.32h0.6v0.6h-0.6zM325.25 154.06h0.6v0.6h-0.6zM332.97 151.83h0.6v0.6h-0.6zM315.4 154.96h0.6v0.6h-0.6zM335.22 149.2h0.6v0.6h-0.6zM320.07 150.94h0.6v0.6h-0.6zM323.08 142.4h0.6v0.6h-0.6zM326.83 146.44h0.6v0.6h-0.6zM314.94 147.43h0.6v0.6h-0.6zM327.11 164.21h0.6v0.6h-0.6zM330.13 153.24h0.6v0.6h-0.6zM321.49 150.34h0.6v0.6h-0.6zM328.75 148.71h0.6v0.6h-0.6zM326.04 158.14h0.6v0.6h-0.6zM319.56 148.26h0.6v0.6h-0.6zM326.2 152.05h0.6v0.6h-0.6zM323.39 148.64h0.6v0.6h-0.6zM323.69 163.79h0.6v0.6h-0.6zM330.66 141.74h0.6v0.6h-0.6zM324.23 152.59h0.6v0.6h-0.6zM324.18 143.22h0.6v0.6h-0.6zM323.36 152.95h0.6v0.6h-0.6zM320.66 154h0.6v0.6h-0.6zM324.5 154.48h0.6v0.6h-0.6zM323.18 149.08h0.6v0.6h-0.6zM324.91 158.89h0.6v0.6h-0.6zM328.41 151.5h0.6v0.6h-0.6zM321.72 158.76h0.6v0.6h-0.6zM326.66 157.62h0.6v0.6h-0.6zM322.64 146.53h0.6v0.6h-0.6zM324.92 148.03h0.6v0.6h-0.6zM329.64 157.44h0.6v0.6h-0.6zM313.3 156.24h0.6v0.6h-0.6zM330.54 158.6h0.6v0.6h-0.6zM321.68 146.52h0.6v0.6h-0.6zM328.76 158.45h0.6v0.6h-0.6zM324.29 144.66h0.6v0.6h-0.6zM316.51 153.7h0.6v0.6h-0.6zM319.94 147.67h0.6v0.6h-0.6zM326.18 158.68h0.6v0.6h-0.6zM313.87 147.74h0.6v0.6h-0.6zM330.38 151.73h0.6v0.6h-0.6zM322.32 156.06h0.6v0.6h-0.6zM318.41 144.22h0.6v0.6h-0.6zM324.11 161.95h0.6v0.6h-0.6zM328.98 151.97h0.6v0.6h-0.6zM328.97 149.39h0.6v0.6h-0.6zM318.21 141.34h0.6v0.6h-0.6zM325.33 157.73h0.6v0.6h-0.6zM325.83 151.76h0.6v0.6h-0.6zM322.03 158.94h0.6v0.6h-0.6zM323.77 142.83h0.6v0.6h-0.6zM330.73 147.87h0.6v0.6h-0.6zM325.92 152.02h0.6v0.6h-0.6zM329.18 153.57h0.6v0.6h-0.6zM330.02 153.34h0.6v0.6h-0.6z" fill="#000" fill-opacity="0.45"/>
<path d="M336.19 138.26h0.6v0.6h-0.6zM340.56 137.16h0.6v0.6h-0.6zM341.65 139.18h0.6v0.6h-0.6zM334.36 137.01h0.6v0.6h-0.6zM337.43 146.07h0.6v0.6h-0.6zM341.03 140.07h0.6v0.6h-0.6zM334.44 146.54h0.6v0.6h-0.6zM336.91 140h0.6v0.6h-0.6zM336.34 144.57h0.6v0.6h-0.6zM338.69 138.43h0.6v0.6h-0.6zM338.73 136.58h0.6v0.6h-0.6zM333.87 139.45h0.6v0.6h-0.6zM326.69 144.03h0.6v0.6h-0.6zM345.81 136.19h0.6v0.6h-0.6zM337.44 134.59h0.6v0.6h-0.6zM338.68 140.73h0.6v0.6h-0.6zM340.91 135.43h0.6v0.6h-0.6zM335.64 137.78h0.6v0.6h-0.6zM337.03 147.84h0.6v0.6h-0.6zM337.22 139.86h0.6v0.6h-0.6zM336 142.73h0.6v0.6h-0.6zM348.07 143.99h0.6v0.6h-0.6zM344.02 136.32h0.6v0.6h-0.6zM342.16 140.1h0.6v0.6h-0.6zM342.92 143.63h0.6v0.6h-0.6zM340.57 134.25h0.6v0.6h-0.6zM338.53 138.28h0.6v0.6h-0.6zM339.76 140.13h0.6v0.6h-0.6zM342.12 134.5h0.6v0.6h-0.6zM335.09 139.74h0.6v0.6h-0.6zM339.26 138.61h0.6v0.6h-0.6zM337.89 140.19h0.6v0.6h-0.6zM342.12 139.61h0.6v0.6h-0.6zM338.95 133.76h0.6v0.6h-0.6zM327.71 134.98h0.6v0.6h-0.6zM339.4 132.09h0.6v0.6h-0.6zM339.61 139.67h0.6v0.6h-0.6zM338.01 137.49h0.6v0.6h-0.6zM336.35 142.85h0.6v0.6h-0.6zM339.41 139.91h0.6v0.6h-0.6zM336.08 140.73h0.6v0.6h-0.6zM342.68 139.93h0.6v0.6h-0.6zM336.56 135.95h0.6v0.6h-0.6zM338.39 136.85h0.6v0.6h-0.6zM332.35 142.99h0.6v0.6h-0.6zM335.55 133h0.6v0.6h-0.6zM335.17 146.33h0.6v0.6h-0.6zM337.58 135.45h0.6v0.6h-0.6zM333.66 142.47h0.6v0.6h-0.6zM339.6 140.73h0.6v0.6h-0.6zM337.23 141.66h0.6v0.6h-0.6zM344.06 141.68h0.6v0.6h-0.6zM337.35 135.19h0.6v0.6h-0.6zM339.75 145.39h0.6v0.6h-0.6zM340.55 135.68h0.6v0.6h-0.6zM338.73 144.47h0.6v0.6h-0.6zM335.5 141.7h0.6v0.6h-0.6zM342.76 145.63h0.6v0.6h-0.6zM331.74 133.99h0.6v0.6h-0.6zM339.47 142.42h0.6v0.6h-0.6zM336.61 139.93h0.6v0.6h-0.6zM336.39 144.13h0.6v0.6h-0.6zM329.29 140.88h0.6v0.6h-0.6zM332.96 137.67h0.6v0.6h-0.6zM331.96 136.87h0.6v0.6h-0.6zM337.91 140.09h0.6v0.6h-0.6zM345.04 139.24h0.6v0.6h-0.6zM339.36 141.22h0.6v0.6h-0.6zM339.02 145.05h0.6v0.6h-0.6zM338.55 140.52h0.6v0.6h-0.6zM337.56 140.01h0.6v0.6h-0.6zM337.78 143.43h0.6v0.6h-0.6zM338.08 140.24h0.6v0.6h-0.6zM337.81 142.61h0.6v0.6h-0.6zM336.14 143.23h0.6v0.6h-0.6zM335.75 142.39h0.6v0.6h-0.6zM345.57 140.8h0.6v0.6h-0.6zM337.66 135.93h0.6v0.6h-0.6zM340.92 140.05h0.6v0.6h-0.6zM341.59 137.74h0.6v0.6h-0.6zM340.05 146.23h0.6v0.6h-0.6zM339.59 138.87h0.6v0.6h-0.6zM332.87 139.97h0.6v0.6h-0.6zM340.6 142.06h0.6v0.6h-0.6zM333.59 136.46h0.6v0.6h-0.6zM334.15 136.48h0.6v0.6h-0.6zM336.91 140.92h0.6v0.6h-0.6zM345.59 140.68h0.6v0.6h-0.6zM343.73 134.3h0.6v0.6h-0.6zM344.08 142.76h0.6v0.6h-0.6zM339.74 142.85h0.6v0.6h-0.6zM340.44 146.6h0.6v0.6h-0.6zM341.18 134h0.6v0.6h-0.6zM331.1 145.56h0.6v0.6h-0.6zM337.67 144.56h0.6v0.6h-0.6zM336.65 137.74h0.6v0.6h-0.6zM336.65 141.09h0.6v0.6h-0.6zM338.74 137.86h0.6v0.6h-0.6zM340.12 142.13h0.6v0.6h-0.6zM334.38 136.16h0.6v0.6h-0.6zM330.25 138.94h0.6v0.6h-0.6zM338.04 137.6h0.6v0.6h-0.6zM335.62 139.54h0.6v0.6h-0.6zM338.12 141.97h0.6v0.6h-0.6zM341.29 141.51h0.6v0.6h-0.6zM342.42 136.65h0.6v0.6h-0.6zM340.4 141.29h0.6v0.6h-0.6zM333.88 137.66h0.6v0.6h-0.6zM339.75 140.26h0.6v0.6h-0.6zM333.04 138.09h0.6v0.6h-0.6zM344.03 142.91h0.6v0.6h-0.6zM338.32 144.66h0.6v0.6h-0.6zM334.42 139.41h0.6v0.6h-0.6zM341.79 138.84h0.6v0.6h-0.6zM333.58 142.03h0.6v0.6h-0.6zM344.33 131.23h0.6v0.6h-0.6zM338.61 135.68h0.6v0.6h-0.6zM336.82 135.12h0.6v0.6h-0.6zM348.28 137.65h0.6v0.6h-0.6zM338.18 137.56h0.6v0.6h-0.6zM334.09 138.43h0.6v0.6h-0.6zM338.82 146.06h0.6v0.6h-0.6zM339.13 145.41h0.6v0.6h-0.6zM333.79 140.25h0.6v0.6h-0.6zM336.27 134.58h0.6v0.6h-0.6zM352.74 139.16h0.6v0.6h-0.6zM338.97 137.39h0.6v0.6h-0.6zM335.72 136.42h0.6v0.6h-0.6zM342.05 138.61h0.6v0.6h-0.6zM337.43 140.63h0.6v0.6h-0.6zM333.15 140.8h0.6v0.6h-0.6zM337.32 141.54h0.6v0.6h-0.6zM336.48 140.13h0.6v0.6h-0.6zM340.05 143.34h0.6v0.6h-0.6zM335.28 143.36h0.6v0.6h-0.6zM334.1 139.35h0.6v0.6h-0.6zM338.52 140.5h0.6v0.6h-0.6zM328.13 136.62h0.6v0.6h-0.6zM337.27 143.2h0.6v0.6h-0.6zM335.22 145.23h0.6v0.6h-0.6zM330.87 140.27h0.6v0.6h-0.6zM340.13 140.06h0.6v0.6h-0.6zM339.04 143.23h0.6v0.6h-0.6zM334.82 142.04h0.6v0.6h-0.6zM342.2 139.19h0.6v0.6h-0.6zM328.85 135.88h0.6v0.6h-0.6zM334.62 136.34h0.6v0.6h-0.6zM339.7 137.22h0.6v0.6h-0.6zM347.8 141.97h0.6v0.6h-0.6zM332.84 139.01h0.6v0.6h-0.6zM344.04 142.35h0.6v0.6h-0.6zM333.97 143.58h0.6v0.6h-0.6zM336.12 147.66h0.6v0.6h-0.6zM335.82 142.06h0.6v0.6h-0.6zM340.23 138.46h0.6v0.6h-0.6zM337.39 144.01h0.6v0.6h-0.6zM339.97 139.79h0.6v0.6h-0.6zM339.76 146.05h0.6v0.6h-0.6zM341.68 141.65h0.6v0.6h-0.6zM339.3 134.59h0.6v0.6h-0.6zM338.53 138.32h0.6v0.6h-0.6zM340.89 137.9h0.6v0.6h-0.6zM339.77 136.36h0.6v0.6h-0.6zM341.54 137.48h0.6v0.6h-0.6zM337.89 142h0.6v0.6h-0.6zM336.72 140.02h0.6v0.6h-0.6zM342.19 146.12h0.6v0.6h-0.6zM330.87 136.88h0.6v0.6h-0.6zM340.67 143.25h0.6v0.6h-0.6zM336.13 140.33h0.6v0.6h-0.6zM337.24 147.87h0.6v0.6h-0.6zM337.21 135.88h0.6v0.6h-0.6zM331.86 135.59h0.6v0.6h-0.6zM343.15 138.65h0.6v0.6h-0.6zM345.71 142.21h0.6v0.6h-0.6zM339.51 142.23h0.6v0.6h-0.6zM341.12 143.18h0.6v0.6h-0.6zM334.14 138.07h0.6v0.6h-0.6zM335.83 140.36h0.6v0.6h-0.6zM337.01 135.74h0.6v0.6h-0.6zM335.26 146.18h0.6v0.6h-0.6zM346.39 137.04h0.6v0.6h-0.6zM339.5 139.87h0.6v0.6h-0.6zM334.65 142.47h0.6v0.6h-0.6zM337.73 145.77h0.6v0.6h-0.6zM339.81 138.93h0.6v0.6h-0.6zM327.54 139.65h0.6v0.6h-0.6zM341.35 137.53h0.6v0.6h-0.6zM341.49 142.36h0.6v0.6h-0.6zM331.02 139.32h0.6v0.6h-0.6zM339.27 142.61h0.6v0.6h-0.6zM338.61 139.95h0.6v0.6h-0.6zM336.63 139h0.6v0.6h-0.6zM338.01 136.33h0.6v0.6h-0.6zM340.54 138.88h0.6v0.6h-0.6zM340.06 138.25h0.6v0.6h-0.6zM339.62 140.44h0.6v0.6h-0.6zM341.52 141.6h0.6v0.6h-0.6zM341.69 139.43h0.6v0.6h-0.6zM337.78 139.1h0.6v0.6h-0.6zM333.04 139.57h0.6v0.6h-0.6zM342.3 142.66h0.6v0.6h-0.6zM334.64 141.04h0.6v0.6h-0.6zM340.97 135.3h0.6v0.6h-0.6zM339.38 141.14h0.6v0.6h-0.6zM340.96 140.88h0.6v0.6h-0.6zM331.12 133.04h0.6v0.6h-0.6zM345.84 138.64h0.6v0.6h-0.6zM343.03 144.37h0.6v0.6h-0.6zM338.35 136.05h0.6v0.6h-0.6zM343.41 139.87h0.6v0.6h-0.6zM340.05 141.65h0.6v0.6h-0.6zM341.77 143.5h0.6v0.6h-0.6zM332.38 135.14h0.6v0.6h-0.6zM338.56 140.03h0.6v0.6h-0.6zM341.07 139.53h0.6v0.6h-0.6zM337.28 147h0.6v0.6h-0.6zM343.43 144h0.6v0.6h-0.6zM342.1 137.28h0.6v0.6h-0.6zM337.66 139.76h0.6v0.6h-0.6zM333.68 137h0.6v0.6h-0.6zM338.64 135.81h0.6v0.6h-0.6zM340.14 141.63h0.6v0.6h-0.6zM337.07 138.83h0.6v0.6h-0.6zM340.38 141.65h0.6v0.6h-0.6zM339.44 135.78h0.6v0.6h-0.6zM331.59 147.06h0.6v0.6h-0.6zM335.42 138.74h0.6v0.6h-0.6zM330.79 137.25h0.6v0.6h-0.6zM335.11 142.75h0.6v0.6h-0.6zM327.56 135.17h0.6v0.6h-0.6zM336.37 138.31h0.6v0.6h-0.6zM334.94 138.48h0.6v0.6h-0.6zM331.77 140.92h0.6v0.6h-0.6zM342.72 140.53h0.6v0.6h-0.6zM335.88 144.35h0.6v0.6h-0.6zM339.93 136.45h0.6v0.6h-0.6zM335.74 137.9h0.6v0.6h-0.6zM337.82 144.18h0.6v0.6h-0.6zM335.22 139.49h0.6v0.6h-0.6zM338.45 135.9h0.6v0.6h-0.6zM336.12 142.11h0.6v0.6h-0.6zM342.47 133.55h0.6v0.6h-0.6zM340.79 139h0.6v0.6h-0.6zM343.1 142.14h0.6v0.6h-0.6zM345.78 141.07h0.6v0.6h-0.6zM336.44 137.14h0.6v0.6h-0.6zM332.34 141.91h0.6v0.6h-0.6zM340.04 142.82h0.6v0.6h-0.6zM339.39 134.85h0.6v0.6h-0.6z" fill="#000" fill-opacity="0.6"/>
<path d="M342.19 150.57h0.6v0.6h-0.6zM344.71 156.52h0.6v0.6h-0.6zM350.31 153.68h0.6v0.6h-0.6zM334.83 145.98h0.6v0.6h-0.6zM334.51 147.5h0.6v0.6h-0.6zM338.67 153.41h0.6v0.6h-0.6zM343.02 158.57h0.6v0.6h-0.6zM348.8 149.32h0.6v0.6h-0.6zM348.2 152.08h0.6v0.6h-0.6zM346.03 159.94h0.6v0.6h-0.6zM338.89 151.61h0.6v0.6h-0.6zM350.84 147.5h0.6v0.6h-0.6zM344.96 152.78h0.6v0.6h-0.6zM342.15 144.3h0.6v0.6h-0.6zM340.95 146.22h0.6v0.6h-0.6zM348.81 153.47h0.6v0.6h-0.6zM347.12 145h0.6v0.6h-0.6zM346.23 152.85h0.6v0.6h-0.6zM348.66 147.76h0.6v0.6h-0.6zM347.61 160.07h0.6v0.6h-0.6zM352.02 146.53h0.6v0.6h-0.6zM339.01 143.38h0.6v0.6h-0.6zM348.28 155.5h0.6v0.6h-0.6zM345.52 146.91h0.6v0.6h-0.6zM349.58 161.45h0.6v0.6h-0.6zM343.84 151.3h0.6v0.6h-0.6zM349.29 154.98h0.6v0.6h-0.6zM349.98 149.63h0.6v0.6h-0.6zM345.51 150.01h0.6v0.6h-0.6zM341.47 150.25h0.6v0.6h-0.6zM342.74 154.97h0.6v0.6h-0.6zM342.65 152.42h0.6v0.6h-0.6zM340.41 144.8h0.6v0.6h-0.6zM350.36 146.22h0.6v0.6h-0.6zM352.07 157.53h0.6v0.6h-0.6zM333.82 148.25h0.6v0.6h-0.6zM342.15 152.12h0.6v0.6h-0.6zM343.21 148.45h0.6v0.6h-0.6zM349.57 151.25h0.6v0.6h-0.6zM348.28 147.97h0.6v0.6h-0.6zM340.94 159.84h0.6v0.6h-0.6zM342.75 145.55h0.6v0.6h-0.6zM343.25 158.19h0.6v0.6h-0.6zM343.29 147.78h0.6v0.6h-0.6zM346.83 157.78h0.6v0.6h-0.6zM343.09 150.13h0.6v0.6h-0.6zM343.17 162.26h0.6v0.6h-0.6zM343.35 154.39h0.6v0.6h-0.6zM334.95 153.05h0.6v0.6h-0.6zM344.24 150.14h0.6v0.6h-0.6zM342.19 144h0.6v0.6h-0.6zM337.39 152.98h0.6v0.6h-0.6zM341.17 151.48h0.6v0.6h-0.6zM343.21 149.03h0.6v0.6h-0.6zM340.77 162.9h0.6v0.6h-0.6zM339.1 149.02h0.6v0.6h-0.6zM342.7 145.23h0.6v0.6h-0.6zM339.74 157.06h0.6v0.6h-0.6zM348.15 152.78h0.6v0.6h-0.6zM358.42 156.86h0.6v0.6h-0.6zM349.49 147.22h0.6v0.6h-0.6zM348.82 161.89h0.6v0.6h-0.6zM342.33 162.61h0.6v0.6h-0.6zM340.43 145.35h0.6v0.6h-0.6zM343.81 147.27h0.6v0.6h-0.6zM346.84 145.52h0.6v0.6h-0.6zM344.38 140.53h0.6v0.6h-0.6zM343.87 158.17h0.6v0.6h-0.6zM342.84 153.84h0.6v0.6h-0.6zM348.86 145.57h0.6v0.6h-0.6zM338.36 152.48h0.6v0.6h-0.6zM345.25 150.44h0.6v0.6h-0.6zM339.7 159.12h0.6v0.6h-0.6zM338.85 150.48h0.6v0.6h-0.6zM343.82 156.26h0.6v0.6h-0.6zM342.03 147.19h0.6v0.6h-0.6zM352.96 147.05h0.6v0.6h-0.6zM347.56 151.1h0.6v0.6h-0.6zM341.9 151.74h0.6v0.6h-0.6zM342.88 153.83h0.6v0.6h-0.6zM332.71 151.85h0.6v0.6h-0.6zM344.33 146.31h0.6v0.6h-0.6zM352.22 155.76h0.6v0.6h-0.6zM345.05 150.22h0.6v0.6h-0.6zM350.18 149.38h0.6v0.6h-0.6zM340.37 156.06h0.6v0.6h-0.6zM339.72 147.37h0.6v0.6h-0.6zM350.45 142.59h0.6v0.6h-0.6zM343.72 152.7h0.6v0.6h-0.6zM345.16 143.47h0.6v0.6h-0.6zM343.01 150.05h0.6v0.6h-0.6zM352.56 157.89h0.6v0.6h-0.6zM340.66 157.12h0.6v0.6h-0.6zM346.92 151.34h0.6v0.6h-0.6zM342.94 150.39h0.6v0.6h-0.6zM337.16 148.31h0.6v0.6h-0.6zM348.18 160.47h0.6v0.6h-0.6zM352.25 149.8h0.6v0.6h-0.6zM346.76 137.91h0.6v0.6h-0.6zM342.82 144.61h0.6v0.6h-0.6zM347.67 142.29h0.6v0.6h-0.6zM339.39 145.53h0.6v0.6h-0.6zM345.78 156.91h0.6v0.6h-0.6zM339.94 162.56h0.6v0.6h-0.6zM344.73 147.12h0.6v0.6h-0.6zM345.57 151.92h0.6v0.6h-0.6zM347.71 154.02h0.6v0.6h-0.6zM353.74 158.85h0.6v0.6h-0.6zM341.18 156.61h0.6v0.6h-0.6zM347.4 146.15h0.6v0.6h-0.6zM340.69 147.28h0.6v0.6h-0.6zM333.06 155.73h0.6v0.6h-0.6zM343.06 159.22h0.6v0.6h-0.6zM341.54 152.44h0.6v0.6h-0.6zM347.24 157.67h0.6v0.6h-0.6zM345.44 145.91h0.6v0.6h-0.6zM353.81 157.09h0.6v0.6h-0.6zM350.07 161.48h0.6v0.6h-0.6zM350.26 154.43h0.6v0.6h-0.6zM346.12 155.7h0.6v0.6h-0.6zM337.35 156.77h0.6v0.6h-0.6zM339.7 154.47h0.6v0.6h-0.6zM339.54 156.19h0.6v0.6h-0.6zM344.88 154.98h0.6v0.6h-0.6zM340.01 150.32h0.6v0.6h-0.6zM343.77 150.32h0.6v0.6h-0.6zM342.09 146.88h0.6v0.6h-0.6zM347.41 149.76h0.6v0.6h-0.6zM340.41 154.14h0.6v0.6h-0.6zM340.43 150.98h0.6v0.6h-0.6zM341.76 146.59h0.6v0.6h-0.6zM343.03 147.19h0.6v0.6h-0.6zM338.47 154.06h0.6v0.6h-0.6zM342.71 143.45h0.6v0.6h-0.6zM342.28 153.1h0.6v0.6h-0.6zM345.93 154.19h0.6v0.6h-0.6zM345.16 155.49h0.6v0.6h-0.6zM341.84 147.34h0.6v0.6h-0.6zM346.75 149.61h0.6v0.6h-0.6zM344.08 155.81h0.6v0.6h-0.6zM348.2 159.16h0.6v0.6h-0.6zM340.98 149.84h0.6v0.6h-0.6zM346.5 143.64h0.6v0.6h-0.6zM338.45 155.56h0.6v0.6h-0.6zM341.31 146.61h0.6v0.6h-0.6zM347.59 155.11h0.6v0.6h-0.6zM348.1 150.07h0.6v0.6h-0.6zM342.76 150.02h0.6v0.6h-0.6zM345.35 140.15h0.6v0.6h-0.6zM340.97 156.14h0.6v0.6h-0.6zM340.58 151.63h0.6v0.6h-0.6zM344.59 155.05h0.6v0.6h-0.6zM341.93 145.39h0.6v0.6h-0.6zM355.1 147.82h0.6v0.6h-0.6zM351.61 141.74h0.6v0.6h-0.6zM344.53 150.86h0.6v0.6h-0.6zM352.43 163.91h0.6v0.6h-0.6zM348.37 146.09h0.6v0.6h-0.6zM340.48 147.61h0.6v0.6h-0.6zM341.75 153.53h0.6v0.6h-0.6zM340.56 150.57h0.6v0.6h-0.6zM350.56 160.41h0.6v0.6h-0.6zM335.8 146.45h0.6v0.6h-0.6zM342.39 159.57h0.6v0.6h-0.6zM342.58 163.15h0.6v0.6h-0.6zM345.66 160.38h0.6v0.6h-0.6zM340.24 150.2h0.6v0.6h-0.6zM348.55 155.34h0.6v0.6h-0.6zM335.78 150.4h0.6v0.6h-0.6zM344.84 155.68h0.6v0.6h-0.6zM341.23 162.16h0.6v0.6h-0.6zM344.71 160.45h0.6v0.6h-0.6zM345.83 152.5h0.6v0.6h-0.6zM342.63 145.21h0.6v0.6h-0.6zM347.87 156.42h0.6v0.6h-0.6zM348.17 149.82h0.6v0.6h-0.6zM339.6 149.8h0.6v0.6h-0.6zM342.66 151.94h0.6v0.6h-0.6zM348.39 146.7h0.6v0.6h-0.6zM341.89 156.02h0.6v0.6h-0.6zM346.37 147.08h0.6v0.6h-0.6zM339.45 147.41h0.6v0.6h-0.6zM344.36 153.48h0.6v0.6h-0.6zM343.75 148.44h0.6v0.6h-0.6zM343.23 151.56h0.6v0.6h-0.6zM346.67 152.49h0.6v0.6h-0.6zM340.47 145.21h0.6v0.6h-0.6zM350.6 151.51h0.6v0.6h-0.6zM343.27 151.86h0.6v0.6h-0.6zM349.03 150.19h0.6v0.6h-0.6zM344.83 150.63h0.6v0.6h-0.6zM346.61 146.13h0.6v0.6h-0.6zM344.95 157.99h0.6v0.6h-0.6zM349.29 155.6h0.6v0.6h-0.6zM345.35 161.16h0.6v0.6h-0.6zM347.18 160.15h0.6v0.6h-0.6zM338.75 145.63h0.6v0.6h-0.6zM347.58 150.46h0.6v0.6h-0.6zM342.15 146.49h0.6v0.6h-0.6zM350.61 145.08h0.6v0.6h-0.6zM344.52 143.91h0.6v0.6h-0.6zM354.8 149.14h0.6v0.6h-0.6zM339.6 161.48h0.6v0.6h-0.6zM340.28 141.65h0.6v0.6h-0.6zM345.59 145.75h0.6v0.6h-0.6zM337.66 158.54h0.6v0.6h-0.6zM340.84 145.83h0.6v0.6h-0.6zM344.8 150.91h0.6v0.6h-0.6zM349.01 152.56h0.6v0.6h-0.6zM351.08 158.62h0.6v0.6h-0.6zM351.91 158.53h0.6v0.6h-0.6zM344.38 155.18h0.6v0.6h-0.6zM344.16 142.97h0.6v0.6h-0.6zM338.88 156.31h0.6v0.6h-0.6zM333.64 147.22h0.6v0.6h-0.6z" fill="#000" fill-opacity="0.45"/>
<path d="M315.29 133.85h0.6v0.6h-0.6zM316.99 134.61h0.6v0.6h-0.6zM322.75 132.87h0.6v0.6h-0.6zM318.3 128.63h0.6v0.6h-0.6zM324.61 130.88h0.6v0.6h-0.6zM322.08 134.9h0.6v0.6h-0.6zM331.29 135.71h0.6v0.6h-0.6zM334.24 130.57h0.6v0.6h-0.6zM328.73 137.8h0.6v0.6h-0.6zM326.81 131.32h0.6v0.6h-0.6zM326.83 132.75h0.6v0.6h-0.6zM319.69 136.58h0.6v0.6h-0.6zM322.89 131.3h0.6v0.6h-0.6zM319.47 138.75h0.6v0.6h-0.6zM318.32 135.64h0.6v0.6h-0.6zM325.33 136.83h0.6v0.6h-0.6zM322.2 131.72h0.6v0.6h-0.6zM319.72 131.52h0.6v0.6h-0.6zM341.88 134.48h0.6v0.6h-0.6zM321.92 137.05h0.6v0.6h-0.6zM328.61 133.57h0.6v0.6h-0.6zM328.37 134.66h0.6v0.6h-0.6zM331.83 138h0.6v0.6h-0.6zM321.96 133.92h0.6v0.6h-0.6zM322.87 136.96h0.6v0.6h-0.6zM326.74 135.9h0.6v0.6h-0.6zM330.27 132.47h0.6v0.6h-0.6zM324.99 137.35h0.6v0.6h-0.6zM330.44 135.97h0.6v0.6h-0.6zM322.19 133.14h0.6v0.6h-0.6zM318.25 133.35h0.6v0.6h-0.6zM323.68 130.54h0.6v0.6h-0.6zM332.06 132.16h0.6v0.6h-0.6zM325.83 135.46h0.6v0.6h-0.6zM320.34 129.63h0.6v0.6h-0.6zM330.72 134.99h0.6v0.6h-0.6zM322.39 136.75h0.6v0.6h-0.6zM330.24 131.7h0.6v0.6h-0.6zM323.57 129.75h0.6v0.6h-0.6zM322.32 137.42h0.6v0.6h-0.6zM318.38 136h0.6v0.6h-0.6zM313.81 133.29h0.6v0.6h-0.6zM330.56 138.16h0.6v0.6h-0.6zM327.22 135.84h0.6v0.6h-0.6zM335.87 128.11h0.6v0.6h-0.6zM312.45 138.58h0.6v0.6h-0.6zM340.97 135.45h0.6v0.6h-0.6zM324.57 134.64h0.6v0.6h-0.6zM324.31 132.52h0.6v0.6h-0.6zM324.01 133.7h0.6v0.6h-0.6zM328.69 135.65h0.6v0.6h-0.6zM330.82 135.43h0.6v0.6h-0.6zM317.49 137.37h0.6v0.6h-0.6zM326.38 132.73h0.6v0.6h-0.6zM336.9 131.37h0.6v0.6h-0.6zM316.14 132.79h0.6v0.6h-0.6zM326.97 135.93h0.6v0.6h-0.6zM324.86 135.62h0.6v0.6h-0.6zM319.33 132.55h0.6v0.6h-0.6zM325.01 130.76h0.6v0.6h-0.6zM325.4 133.05h0.6v0.6h-0.6zM328.78 131.56h0.6v0.6h-0.6zM320.51 132.64h0.6v0.6h-0.6zM321.62 131.59h0.6v0.6h-0.6zM322.35 130.74h0.6v0.6h-0.6zM327.77 135.63h0.6v0.6h-0.6zM324.02 133.55h0.6v0.6h-0.6zM318.06 131.69h0.6v0.6h-0.6zM322.63 131.82h0.6v0.6h-0.6zM316.12 134.41h0.6v0.6h-0.6zM323.99 133.03h0.6v0.6h-0.6zM318.58 133.88h0.6v0.6h-0.6zM319.41 132.97h0.6v0.6h-0.6zM325.38 135.75h0.6v0.6h-0.6zM329.25 132.54h0.6v0.6h-0.6zM332.33 131.21h0.6v0.6h-0.6zM322.95 137.15h0.6v0.6h-0.6zM340.25 134.32h0.6v0.6h-0.6zM321.67 133.1h0.6v0.6h-0.6zM315.87 133.65h0.6v0.6h-0.6zM321.24 132.18h0.6v0.6h-0.6zM332.24 132.13h0.6v0.6h-0.6zM335.61 136.04h0.6v0.6h-0.6zM328.46 132.59h0.6v0.6h-0.6zM320.66 129.19h0.6v0.6h-0.6zM325.97 133.35h0.6v0.6h-0.6zM326.75 132.39h0.6v0.6h-0.6zM327.41 130.39h0.6v0.6h-0.6zM331.4 126.4h0.6v0.6h-0.6zM332.83 133.16h0.6v0.6h-0.6zM323.01 130.29h0.6v0.6h-0.6zM317.34 135.72h0.6v0.6h-0.6zM319.13 133.91h0.6v0.6h-0.6zM323.06 138.81h0.6v0.6h-0.6zM330.14 130.82h0.6v0.6h-0.6zM320.85 131.23h0.6v0.6h-0.6zM314.7 132.36h0.6v0.6h-0.6zM331.57 134.12h0.6v0.6h-0.6zM328.66 133.68h0.6v0.6h-0.6zM321.25 134.2h0.6v0.6h-0.6zM323.59 138.66h0.6v0.6h-0.6zM336.27 134.91h0.6v0.6h-0.6zM328.18 129.19h0.6v0.6h-0.6zM323.27 139.78h0.6v0.6h-0.6zM318.7 135.97h0.6v0.6h-0.6zM332.36 133.04h0.6v0.6h-0.6zM322.58 132.9h0.6v0.6h-0.6zM329.49 134.06h0.6v0.6h-0.6zM334.27 136.87h0.6v0.6h-0.6zM324.03 140.29h0.6v0.6h-0.6zM322.01 132.53h0.6v0.6h-0.6zM322.5 131.88h0.6v0.6h-0.6zM321.26 133.83h0.6v0.6h-0.6zM330.12 130.18h0.6v0.6h-0.6zM314.63 132.14h0.6v0.6h-0.6zM322.04 135.1h0.6v0.6h-0.6zM318.77 137.65h0.6v0.6h-0.6zM320.53 133.48h0.6v0.6h-0.6zM324.46 136.83h0.6v0.6h-0.6zM326.11 134.07h0.6v0.6h-0.6zM320.43 134.42h0.6v0.6h-0.6zM326.82 133.16h0.6v0.6h-0.6zM323.94 129.55h0.6v0.6h-0.6zM320.5 136.86h0.6v0.6h-0.6zM333.69 133.83h0.6v0.6h-0.6zM322.94 140.22h0.6v0.6h-0.6zM321.31 136.43h0.6v0.6h-0.6zM319.92 137.33h0.6v0.6h-0.6zM331.91 131.43h0.6v0.6h-0.6zM332.83 140.93h0.6v0.6h-0.6zM322.58 131.07h0.6v0.6h-0.6zM325.95 133.03h0.6v0.6h-0.6zM313.97 131.46h0.6v0.6h-0.6zM325.74 130.31h0.6v0.6h-0.6zM331.38 135.09h0.6v0.6h-0.6zM322.87 137.4h0.6v0.6h-0.6zM317.84 135.66h0.6v0.6h-0.6zM314.94 133.21h0.6v0.6h-0.6zM328.4 132.71h0.6v0.6h-0.6zM323.31 135.58h0.6v0.6h-0.6zM334.36 137.16h0.6v0.6h-0.6zM327.18 133.37h0.6v0.6h-0.6zM314.32 138.17h0.6v0.6h-0.6zM336.73 128.78h0.6v0.6h-0.6zM329.95 133.9h0.6v0.6h-0.6zM328.85 134.77h0.6v0.6h-0.6zM322.77 133.99h0.6v0.6h-0.6zM323.82 136.83h0.6v0.6h-0.6zM322.31 132.68h0.6v0.6h-0.6zM328.48 135.56h0.6v0.6h-0.6zM327.01 134.69h0.6v0.6h-0.6zM334.01 136.71h0.6v0.6h-0.6zM325.5 133.49h0.6v0.6h-0.6zM328.52 129.46h0.6v0.6h-0.6zM320.55 132.29h0.6v0.6h-0.6zM325.23 133.07h0.6v0.6h-0.6zM340.67 135.79h0.6v0.6h-0.6zM326.79 139.46h0.6v0.6h-0.6zM324.06 133.23h0.6v0.6h-0.6zM332.37 136.02h0.6v0.6h-0.6zM330.3 136.94h0.6v0.6h-0.6zM321.62 132.4h0.6v0.6h-0.6zM319.22 134.25h0.6v0.6h-0.6zM330.82 131.45h0.6v0.6h-0.6zM320.47 130.75h0.6v0.6h-0.6zM337.54 135.95h0.6v0.6h-0.6zM325.54 131.04h0.6v0.6h-0.6zM317.13 132.43h0.6v0.6h-0.6zM324.29 130.92h0.6v0.6h-0.6zM322.54 136.97h0.6v0.6h-0.6zM324.16 134.24h0.6v0.6h-0.6zM323.08 132.32h0.6v0.6h-0.6zM314.75 133.83h0.6v0.6h-0.6zM317.18 132.67h0.6v0.6h-0.6zM313.33 133.77h0.6v0.6h-0.6zM330.19 131.96h0.6v0.6h-0.6zM326.25 130.31h0.6v0.6h-0.6zM327.96 135.32h0.6v0.6h-0.6zM321.45 136.15h0.6v0.6h-0.6zM318.16 134.12h0.6v0.6h-0.6zM335.39 133.94h0.6v0.6h-0.6zM316.51 136.81h0.6v0.6h-0.6zM327.67 133.33h0.6v0.6h-0.6zM313.84 137.61h0.6v0.6h-0.6zM326.04 131.93h0.6v0.6h-0.6zM331.82 137.57h0.6v0.6h-0.6zM318.39 135.18h0.6v0.6h-0.6zM312.99 134.91h0.6v0.6h-0.6zM336.28 130.56h0.6v0.6h-0.6zM324.45 132.45h0.6v0.6h-0.6zM323.44 134.22h0.6v0.6h-0.6zM325.95 136.17h0.6v0.6h-0.6zM327.51 136.55h0.6v0.6h-0.6zM330.89 136.68h0.6v0.6h-0.6zM319.53 135h0.6v0.6h-0.6zM321.55 131.95h0.6v0.6h-0.6zM337.21 134.71h0.6v0.6h-0.6zM324.37 128.87h0.6v0.6h-0.6zM322.51 135.88h0.6v0.6h-0.6zM322.7 132.67h0.6v0.6h-0.6zM333.96 133.24h0.6v0.6h-0.6zM321.83 133.76h0.6v0.6h-0.6zM322.48 136.57h0.6v0.6h-0.6zM327.89 133.83h0.6v0.6h-0.6zM321.64 133.45h0.6v0.6h-0.6zM335.42 133.25h0.6v0.6h-0.6zM328.45 130.16h0.6v0.6h-0.6zM326.22 135.68h0.6v0.6h-0.6zM332.59 134.77h0.6v0.6h-0.6zM327.95 134.79h0.6v0.6h-0.6zM331.22 138.99h0.6v0.6h-0.6zM325.41 132.01h0.6v0.6h-0.6zM328.06 133.73h0.6v0.6h-0.6zM328.36 135.89h0.6v0.6h-0.6zM325.09 132.93h0.6v0.6h-0.6zM326.12 130.96h0.6v0.6h-0.6zM325.9 131.84h0.6v0.6h-0.6zM327.08 134.3h0.6v0.6h-0.6zM322.61 131.07h0.6v0.6h-0.6zM324.4 132.34h0.6v0.6h-0.6zM323.12 135.69h0.6v0.6h-0.6zM330.46 130.86h0.6v0.6h-0.6zM330.34 137.32h0.6v0.6h-0.6zM331.61 134.68h0.6v0.6h-0.6zM323.46 138.25h0.6v0.6h-0.6zM321.92 130.28h0.6v0.6h-0.6zM324.67 134.7h0.6v0.6h-0.6zM317.13 131.03h0.6v0.6h-0.6zM337.34 134.28h0.6v0.6h-0.6zM329.3 132.58h0.6v0.6h-0.6zM313.92 133.57h0.6v0.6h-0.6zM333.05 132.37h0.6v0.6h-0.6zM322.19 134.04h0.6v0.6h-0.6zM317.08 133.24h0.6v0.6h-0.6zM320.43 136.15h0.6v0.6h-0.6zM325.09 136.13h0.6v0.6h-0.6zM323.73 128.8h0.6v0.6h-0.6zM329.94 136.14h0.6v0.6h-0.6zM323.57 129.64h0.6v0.6h-0.6zM320.78 134.99h0.6v0.6h-0.6zM333.31 133.16h0.6v0.6h-0.6zM320.31 132.11h0.6v0.6h-0.6zM330.9 136.12h0.6v0.6h-0.6z" fill="#000" fill-opacity="0.45"/>
<path d="M335.19 137.15h0.6v0.6h-0.6zM339.08 127.98h0.6v0.6h-0.6zM336.19 130.52h0.6v0.6h-0.6zM353.03 141.73h0.6v0.6h-0.6zM337.69 130.71h0.6v0.6h-0.6zM343.73 134.42h0.6v0.6h-0.6zM340.99 127.59h0.6v0.6h-0.6zM341.27 130.68h0.6v0.6h-0.6zM335.33 133.49h0.6v0.6h-0.6zM336.74 127.07h0.6v0.6h-0.6zM349.58 136.22h0.6v0.6h-0.6zM349.28 133.41h0.6v0.6h-0.6zM341.27 132.71h0.6v0.6h-0.6zM337.17 135.53h0.6v0.6h-0.6zM344.21 131.96h0.6v0.6h-0.6zM335 132.62h0.6v0.6h-0.6zM350.06 137.95h0.6v0.6h-0.6zM346.82 131.8h0.6v0.6h-0.6zM343.64 134.9h0.6v0.6h-0.6zM343.89 136.58h0.6v0.6h-0.6zM340.18 125.07h0.6v0.6h-0.6zM332.61 129.89h0.6v0.6h-0.6zM337.1 135.27h0.6v0.6h-0.6zM347.69 133h0.6v0.6h-0.6zM345.37 133.27h0.6v0.6h-0.6zM343.8 131.39h0.6v0.6h-0.6zM341.31 137.07h0.6v0.6h-0.6zM341.89 132.86h0.6v0.6h-0.6zM348.2 136.36h0.6v0.6h-0.6zM341.36 133.87h0.6v0.6h-0.6zM338.7 133.45h0.6v0.6h-0.6zM344.41 133h0.6v0.6h-0.6zM343.75 134.25h0.6v0.6h-0.6zM332.15 130.18h0.6v0.6h-0.6zM343.38 131.32h0.6v0.6h-0.6zM338.89 132.19h0.6v0.6h-0.6zM349.98 132.22h0.6v0.6h-0.6zM340.25 131.36h0.6v0.6h-0.6zM337.93 134.66h0.6v0.6h-0.6zM338.81 136.12h0.6v0.6h-0.6zM346.97 134.96h0.6v0.6h-0.6zM347.53 132.71h0.6v0.6h-0.6zM335.47 132.78h0.6v0.6h-0.6zM345.8 127.72h0.6v0.6h-0.6zM337.79 136.75h0.6v0.6h-0.6zM344.94 137.61h0.6v0.6h-0.6zM345.93 133.23h0.6v0.6h-0.6zM344.9 135.91h0.6v0.6h-0.6zM342.93 132.28h0.6v0.6h-0.6zM344.41 131.92h0.6v0.6h-0.6zM353.45 130.38h0.6v0.6h-0.6zM336.52 128.58h0.6v0.6h-0.6zM347.57 131.62h0.6v0.6h-0.6zM343.74 132.27h0.6v0.6h-0.6zM344.25 128.04h0.6v0.6h-0.6zM343.42 131.04h0.6v0.6h-0.6zM347.74 135.13h0.6v0.6h-0.6zM337.61 129.69h0.6v0.6h-0.6zM345.51 137.09h0.6v0.6h-0.6zM346.37 132.48h0.6v0.6h-0.6zM347.86 124.93h0.6v0.6h-0.6zM340.74 129.66h0.6v0.6h-0.6zM338.6 134.93h0.6v0.6h-0.6zM344.26 133.97h0.6v0.6h-0.6zM342.48 135.12h0.6v0.6h-0.6zM346.44 131.04h0.6v0.6h-0.6zM347.11 129.82h0.6v0.6h-0.6zM350.68 128.54h0.6v0.6h-0.6zM341.82 129.29h0.6v0.6h-0.6zM343.23 137.51h0.6v0.6h-0.6zM339.81 139.08h0.6v0.6h-0.6zM349.17 134.32h0.6v0.6h-0.6zM340.51 136.1h0.6v0.6h-0.6zM330.66 130.38h0.6v0.6h-0.6zM347.23 132.87h0.6v0.6h-0.6zM353.84 130.69h0.6v0.6h-0.6zM337.28 132.26h0.6v0.6h-0.6zM345.57 138.84h0.6v0.6h-0.6zM335.41 133.54h0.6v0.6h-0.6zM348.55 130.69h0.6v0.6h-0.6zM341.08 128.84h0.6v0.6h-0.6zM346.39 135.85h0.6v0.6h-0.6zM345.62 133.84h0.6v0.6h-0.6zM347.37 132.58h0.6v0.6h-0.6zM346.18 135.81h0.6v0.6h-0.6zM348.72 134.76h0.6v0.6h-0.6zM343.43 135.43h0.6v0.6h-0.6zM336.31 126.96h0.6v0.6h-0.6zM350.1 133.47h0.6v0.6h-0.6zM338.48 131.01h0.6v0.6h-0.6zM342.41 133.25h0.6v0.6h-0.6zM339.73 136.42h0.6v0.6h-0.6zM335.63 142.63h0.6v0.6h-0.6zM338.33 138.71h0.6v0.6h-0.6zM345.97 127.22h0.6v0.6h-0.6zM337.71 133.21h0.6v0.6h-0.6zM344.25 131.54h0.6v0.6h-0.6zM343.11 133.56h0.6v0.6h-0.6zM338.06 133.21h0.6v0.6h-0.6zM353 130.78h0.6v0.6h-0.6z" fill="#000" fill-opacity="0.35"/>
<path d="M320.28 163.48h0.6v0.6h-0.6zM343.22 164.04h0.6v0.6h-0.6zM323.98 162.39h0.6v0.6h-0.6zM332.11 162.19h0.6v0.6h-0.6zM334.02 164.1h0.6v0.6h-0.6zM335.46 162.48h0.6v0.6h-0.6zM337.32 162.63h0.6v0.6h-0.6zM341.99 163.84h0.6v0.6h-0.6zM350.49 159.85h0.6v0.6h-0.6zM331.11 162.05h0.6v0.6h-0.6zM323.02 162.61h0.6v0.6h-0.6zM335.38 163.28h0.6v0.6h-0.6zM328.78 160.55h0.6v0.6h-0.6zM335.6 163.4h0.6v0.6h-0.6zM350.89 163.88h0.6v0.6h-0.6zM330.29 160.8h0.6v0.6h-0.6zM356.82 161.5h0.6v0.6h-0.6zM332.06 163.61h0.6v0.6h-0.6zM335.07 164.47h0.6v0.6h-0.6zM320 161.48h0.6v0.6h-0.6zM331.84 160.68h0.6v0.6h-0.6zM333.04 162.35h0.6v0.6h-0.6zM324.54 162.57h0.6v0.6h-0.6zM329.81 160.91h0.6v0.6h-0.6zM337.88 160.61h0.6v0.6h-0.6zM342.74 162h0.6v0.6h-0.6zM332.97 161.21h0.6v0.6h-0.6zM350.87 163.82h0.6v0.6h-0.6zM343.45 161.6h0.6v0.6h-0.6zM342.97 161.85h0.6v0.6h-0.6zM329.65 160.48h0.6v0.6h-0.6zM330.7 163.1h0.6v0.6h-0.6zM329.52 160.86h0.6v0.6h-0.6zM339.07 163.85h0.6v0.6h-0.6zM329.27 163.66h0.6v0.6h-0.6zM339.88 161.04h0.6v0.6h-0.6zM329.79 159.74h0.6v0.6h-0.6zM319.9 163.14h0.6v0.6h-0.6zM321.44 163.08h0.6v0.6h-0.6zM333.71 159.43h0.6v0.6h-0.6zM330.27 162.68h0.6v0.6h-0.6zM323.15 160.12h0.6v0.6h-0.6zM328.3 161.2h0.6v0.6h-0.6zM331.23 159.62h0.6v0.6h-0.6zM322.66 162.98h0.6v0.6h-0.6zM321.18 163.78h0.6v0.6h-0.6zM321.77 162.29h0.6v0.6h-0.6zM343.12 163.28h0.6v0.6h-0.6zM326.88 160.24h0.6v0.6h-0.6zM314.28 164.29h0.6v0.6h-0.6zM335.23 162.59h0.6v0.6h-0.6zM342.63 162.72h0.6v0.6h-0.6zM322.89 162.34h0.6v0.6h-0.6zM329.16 162.48h0.6v0.6h-0.6zM354.96 163.37h0.6v0.6h-0.6zM332.86 162.13h0.6v0.6h-0.6zM323.35 161.02h0.6v0.6h-0.6zM314.98 159.73h0.6v0.6h-0.6zM320.76 159.47h0.6v0.6h-0.6zM343.83 164.36h0.6v0.6h-0.6zM336.71 158.73h0.6v0.6h-0.6zM330.33 161.01h0.6v0.6h-0.6zM312.73 162.11h0.6v0.6h-0.6zM341.63 163.17h0.6v0.6h-0.6zM315.52 161.51h0.6v0.6h-0.6zM322.54 164.21h0.6v0.6h-0.6zM329.14 161.03h0.6v0.6h-0.6zM321 159.55h0.6v0.6h-0.6zM321.67 163.84h0.6v0.6h-0.6zM328.97 163.72h0.6v0.6h-0.6zM318.65 163.86h0.6v0.6h-0.6zM313.81 162.45h0.6v0.6h-0.6zM328 162.68h0.6v0.6h-0.6zM320.2 163.79h0.6v0.6h-0.6zM320.53 161.63h0.6v0.6h-0.6zM337.4 162.7h0.6v0.6h-0.6zM322.45 164.35h0.6v0.6h-0.6zM335.29 164.04h0.6v0.6h-0.6zM328.33 164.42h0.6v0.6h-0.6zM325.42 160.82h0.6v0.6h-0.6zM330.01 160.41h0.6v0.6h-0.6zM342.65 163.6h0.6v0.6h-0.6zM313.22 162.76h0.6v0.6h-0.6zM338.59 161.96h0.6v0.6h-0.6zM334.25 161.62h0.6v0.6h-0.6zM329.38 162.37h0.6v0.6h-0.6zM334.93 161.05h0.6v0.6h-0.6zM318.74 162.99h0.6v0.6h-0.6zM324.97 163.28h0.6v0.6h-0.6zM325.01 160.53h0.6v0.6h-0.6zM337.48 162.9h0.6v0.6h-0.6zM337.41 161.99h0.6v0.6h-0.6zM326.46 164.4h0.6v0.6h-0.6zM335.23 162.41h0.6v0.6h-0.6zM330.96 163.41h0.6v0.6h-0.6zM322.32 162.92h0.6v0.6h-0.6zM320.47 159.72h0.6v0.6h-0.6zM332.08 162.65h0.6v0.6h-0.6zM336.56 163.34h0.6v0.6h-0.6zM337.09 163.69h0.6v0.6h-0.6zM319.45 164.33h0.6v0.6h-0.6zM356.96 161.65h0.6v0.6h-0.6zM317.4 163.53h0.6v0.6h-0.6zM339.26 164.02h0.6v0.6h-0.6zM345.48 160.42h0.6v0.6h-0.6zM333.84 163.2h0.6v0.6h-0.6zM342.61 161.16h0.6v0.6h-0.6zM330.29 161.94h0.6v0.6h-0.6zM328.42 162.28h0.6v0.6h-0.6zM328.52 159.84h0.6v0.6h-0.6zM329.67 162.6h0.6v0.6h-0.6zM326.17 157.16h0.6v0.6h-0.6zM323.06 161.52h0.6v0.6h-0.6zM339.35 162.22h0.6v0.6h-0.6zM320.29 163.21h0.6v0.6h-0.6zM341.19 162.31h0.6v0.6h-0.6zM336.2 161.3h0.6v0.6h-0.6zM314.11 163.77h0.6v0.6h-0.6zM346.49 162.04h0.6v0.6h-0.6zM324.74 159.8h0.6v0.6h-0.6zM351.64 160.69h0.6v0.6h-0.6zM320.29 162.21h0.6v0.6h-0.6zM342.22 162.58h0.6v0.6h-0.6zM329.84 162.53h0.6v0.6h-0.6zM338.56 162.44h0.6v0.6h-0.6zM331.62 162.39h0.6v0.6h-0.6zM323.05 160.51h0.6v0.6h-0.6zM325.64 162.55h0.6v0.6h-0.6zM338.28 160.29h0.6v0.6h-0.6zM317.28 162.77h0.6v0.6h-0.6zM333.88 160.85h0.6v0.6h-0.6zM318.62 162.76h0.6v0.6h-0.6zM328.58 160.06h0.6v0.6h-0.6zM319.38 164.08h0.6v0.6h-0.6zM346.13 161.55h0.6v0.6h-0.6zM323.17 163.45h0.6v0.6h-0.6zM317.55 163.33h0.6v0.6h-0.6zM342.27 162.9h0.6v0.6h-0.6zM333.28 162.26h0.6v0.6h-0.6zM340.11 161.27h0.6v0.6h-0.6zM346.02 162.46h0.6v0.6h-0.6zM326.75 160.04h0.6v0.6h-0.6zM325.59 162.86h0.6v0.6h-0.6zM342.53 160.07h0.6v0.6h-0.6zM328.74 161.47h0.6v0.6h-0.6zM317.98 162.51h0.6v0.6h-0.6zM322.38 163.81h0.6v0.6h-0.6zM335.24 161.99h0.6v0.6h-0.6zM331.31 161.04h0.6v0.6h-0.6zM319.47 161.39h0.6v0.6h-0.6zM329.46 161.23h0.6v0.6h-0.6zM325.8 161.2h0.6v0.6h-0.6zM332.36 160.79h0.6v0.6h-0.6zM329.81 162.64h0.6v0.6h-0.6zM339.67 161.38h0.6v0.6h-0.6zM318.56 160.25h0.6v0.6h-0.6zM337.63 161.56h0.6v0.6h-0.6zM339.92 162.38h0.6v0.6h-0.6zM327.25 159.7h0.6v0.6h-0.6zM323.21 163.69h0.6v0.6h-0.6zM323.88 163.52h0.6v0.6h-0.6zM313.49 164.03h0.6v0.6h-0.6zM357.97 164.18h0.6v0.6h-0.6zM333.23 160.64h0.6v0.6h-0.6zM324.71 161.51h0.6v0.6h-0.6zM331.87 159.46h0.6v0.6h-0.6zM321.33 163.69h0.6v0.6h-0.6zM331.48 163.62h0.6v0.6h-0.6zM338.58 160.78h0.6v0.6h-0.6zM316.48 163.2h0.6v0.6h-0.6zM330.34 162.62h0.6v0.6h-0.6zM321.84 164.03h0.6v0.6h-0.6zM334.99 164.22h0.6v0.6h-0.6zM326.45 163.54h0.6v0.6h-0.6zM329.41 161.08h0.6v0.6h-0.6zM329.2 160.01h0.6v0.6h-0.6zM328.2 162.77h0.6v0.6h-0.6zM336.98 160.91h0.6v0.6h-0.6zM316.67 161.4h0.6v0.6h-0.6zM356.26 162.72h0.6v0.6h-0.6zM322.38 161.48h0.6v0.6h-0.6zM347.75 160.75h0.6v0.6h-0.6zM328.86 162.38h0.6v0.6h-0.6zM322.64 161.42h0.6v0.6h-0.6zM313.16 161.24h0.6v0.6h-0.6zM327.17 163.56h0.6v0.6h-0.6zM334.62 162.67h0.6v0.6h-0.6zM328.63 164.33h0.6v0.6h-0.6zM335.71 162.16h0.6v0.6h-0.6zM327.65 163.91h0.6v0.6h-0.6zM324.04 161.42h0.6v0.6h-0.6zM327.25 161.75h0.6v0.6h-0.6zM342.67 163.04h0.6v0.6h-0.6zM329.12 161.71h0.6v0.6h-0.6zM344.19 163.16h0.6v0.6h-0.6zM350.9 163.87h0.6v0.6h-0.6zM327.84 161.67h0.6v0.6h-0.6zM327.15 162.77h0.6v0.6h-0.6zM337.93 163.23h0.6v0.6h-0.6zM345.75 160.21h0.6v0.6h-0.6zM330.29 160.36h0.6v0.6h-0.6zM319.68 161.59h0.6v0.6h-0.6zM323.47 161.04h0.6v0.6h-0.6zM314.76 164.21h0.6v0.6h-0.6zM326.79 163.95h0.6v0.6h-0.6zM318.92 159.01h0.6v0.6h-0.6zM324.03 163.82h0.6v0.6h-0.6zM324.39 163.09h0.6v0.6h-0.6zM334.34 164.08h0.6v0.6h-0.6zM327.21 164.43h0.6v0.6h-0.6zM330.72 161.76h0.6v0.6h-0.6zM323.58 162.58h0.6v0.6h-0.6zM320.88 160.7h0.6v0.6h-0.6zM331.3 163.57h0.6v0.6h-0.6zM327.08 163.76h0.6v0.6h-0.6zM345.9 160.59h0.6v0.6h-0.6zM332.58 161.05h0.6v0.6h-0.6zM323.54 162.77h0.6v0.6h-0.6zM338.41 163.32h0.6v0.6h-0.6zM326.33 164.14h0.6v0.6h-0.6zM344.51 163.24h0.6v0.6h-0.6z" fill="#000" fill-opacity="0.5"/>
<path d="M316.1 127.06h0.6v0.6h-0.6zM331.05 125.74h0.6v0.6h-0.6zM333.39 127.88h0.6v0.6h-0.6zM331.4 127.04h0.6v0.6h-0.6zM348.73 126.64h0.6v0.6h-0.6zM324.54 127.23h0.6v0.6h-0.6zM345.24 127.73h0.6v0.6h-0.6zM334.72 126.75h0.6v0.6h-0.6zM346.36 128h0.6v0.6h-0.6zM316.61 127.5h0.6v0.6h-0.6zM340.13 126.63h0.6v0.6h-0.6zM321.05 126.93h0.6v0.6h-0.6zM316.43 127.71h0.6v0.6h-0.6zM328.87 125.6h0.6v0.6h-0.6zM333.78 128.27h0.6v0.6h-0.6zM321.26 126.88h0.6v0.6h-0.6zM352.2 127.37h0.6v0.6h-0.6zM328.43 127.37h0.6v0.6h-0.6zM341.81 126.29h0.6v0.6h-0.6zM333.01 125.73h0.6v0.6h-0.6zM318.11 125.81h0.6v0.6h-0.6zM342.45 127.48h0.6v0.6h-0.6zM341.33 128.3h0.6v0.6h-0.6zM334.46 127.41h0.6v0.6h-0.6zM338.06 127.62h0.6v0.6h-0.6zM323.33 126.95h0.6v0.6h-0.6zM332.47 127.23h0.6v0.6h-0.6zM326.47 127.08h0.6v0.6h-0.6zM336.87 127.37h0.6v0.6h-0.6zM339.9 127.94h0.6v0.6h-0.6zM339.58 128.07h0.6v0.6h-0.6zM342.42 128.46h0.6v0.6h-0.6zM340.29 126.64h0.6v0.6h-0.6zM357.32 128.22h0.6v0.6h-0.6zM346.51 127.86h0.6v0.6h-0.6zM334.47 126.17h0.6v0.6h-0.6zM338.37 126.88h0.6v0.6h-0.6zM329.98 125.27h0.6v0.6h-0.6zM349.52 126.15h0.6v0.6h-0.6zM322.97 127.62h0.6v0.6h-0.6zM339.68 126.48h0.6v0.6h-0.6zM333.92 127.43h0.6v0.6h-0.6zM335.56 127.67h0.6v0.6h-0.6zM341.77 126.87h0.6v0.6h-0.6zM317.74 129.15h0.6v0.6h-0.6zM330.13 126.31h0.6v0.6h-0.6zM341.52 127.73h0.6v0.6h-0.6zM327.8 129.32h0.6v0.6h-0.6zM333.61 127.48h0.6v0.6h-0.6zM337.19 126.99h0.6v0.6h-0.6zM337.19 126.02h0.6v0.6h-0.6zM330 128.87h0.6v0.6h-0.6zM342.8 126.83h0.6v0.6h-0.6zM328.19 125.84h0.6v0.6h-0.6zM332.78 127.04h0.6v0.6h-0.6zM327.58 125.79h0.6v0.6h-0.6zM335.55 127.58h0.6v0.6h-0.6zM345.43 127.66h0.6v0.6h-0.6zM349.24 128.28h0.6v0.6h-0.6zM332.94 126.25h0.6v0.6h-0.6zM338.33 128.07h0.6v0.6h-0.6zM318.45 126.08h0.6v0.6h-0.6zM340.89 126.7h0.6v0.6h-0.6zM348.62 127.39h0.6v0.6h-0.6zM328.47 126h0.6v0.6h-0.6zM340 125.65h0.6v0.6h-0.6zM320.91 126.01h0.6v0.6h-0.6zM351.08 128.74h0.6v0.6h-0.6zM331.77 126.85h0.6v0.6h-0.6zM341.02 128.32h0.6v0.6h-0.6zM325.88 129.19h0.6v0.6h-0.6zM331.91 128.22h0.6v0.6h-0.6zM326.99 128.99h0.6v0.6h-0.6zM331.84 126.05h0.6v0.6h-0.6zM353.56 126.58h0.6v0.6h-0.6zM333.96 126.07h0.6v0.6h-0.6zM340.79 127.37h0.6v0.6h-0.6zM331.09 126.84h0.6v0.6h-0.6zM328.26 126.55h0.6v0.6h-0.6zM319.86 128.29h0.6v0.6h-0.6zM342.96 125.94h0.6v0.6h-0.6zM322.3 127.57h0.6v0.6h-0.6zM356.72 127.01h0.6v0.6h-0.6zM330.84 126.97h0.6v0.6h-0.6zM336.49 127.04h0.6v0.6h-0.6zM344.87 128.09h0.6v0.6h-0.6zM339.53 128.62h0.6v0.6h-0.6zM331.67 126.7h0.6v0.6h-0.6zM363.89 125.45h0.6v0.6h-0.6zM318.33 125.07h0.6v0.6h-0.6zM337.58 126.23h0.6v0.6h-0.6zM344.65 125.3h0.6v0.6h-0.6zM332.61 126.85h0.6v0.6h-0.6zM323.14 128.21h0.6v0.6h-0.6zM329.98 127.61h0.6v0.6h-0.6zM328.69 127.33h0.6v0.6h-0.6zM329.49 127.27h0.6v0.6h-0.6zM332.99 126.58h0.6v0.6h-0.6zM338.38 127.03h0.6v0.6h-0.6zM324.25 126.25h0.6v0.6h-0.6zM338.43 128.4h0.6v0.6h-0.6zM320.83 126.82h0.6v0.6h-0.6zM338.52 128.14h0.6v0.6h-0.6zM341.14 126.13h0.6v0.6h-0.6zM334.36 128.01h0.6v0.6h-0.6zM336.4 127h0.6v0.6h-0.6zM322.11 127.35h0.6v0.6h-0.6zM333.34 127.23h0.6v0.6h-0.6zM349.08 128.27h0.6v0.6h-0.6zM326.02 127.41h0.6v0.6h-0.6zM330.87 127.29h0.6v0.6h-0.6zM350.39 128.03h0.6v0.6h-0.6zM334.4 126.6h0.6v0.6h-0.6zM332.36 127.53h0.6v0.6h-0.6zM328.98 128.19h0.6v0.6h-0.6zM334.2 126.13h0.6v0.6h-0.6zM354.54 124.58h0.6v0.6h-0.6zM331.29 127.09h0.6v0.6h-0.6zM343.92 128.21h0.6v0.6h-0.6zM348.63 128.61h0.6v0.6h-0.6zM337.18 127.3h0.6v0.6h-0.6zM344.21 127.18h0.6v0.6h-0.6zM321.33 126.79h0.6v0.6h-0.6zM340.65 127.75h0.6v0.6h-0.6zM322.89 128.28h0.6v0.6h-0.6zM337.1 125.84h0.6v0.6h-0.6zM338.69 128.11h0.6v0.6h-0.6zM339.35 126.92h0.6v0.6h-0.6zM325.95 128.21h0.6v0.6h-0.6zM336.26 127.19h0.6v0.6h-0.6zM329.98 126.27h0.6v0.6h-0.6zM315.16 126.89h0.6v0.6h-0.6zM345.13 127.89h0.6v0.6h-0.6zM327.15 128.58h0.6v0.6h-0.6zM331.7 126.29h0.6v0.6h-0.6zM343.82 128.45h0.6v0.6h-0.6zM330.08 126.1h0.6v0.6h-0.6zM333.35 125.01h0.6v0.6h-0.6zM334.53 128.58h0.6v0.6h-0.6zM336.74 126.54h0.6v0.6h-0.6zM341.12 126.75h0.6v0.6h-0.6zM346.71 126.88h0.6v0.6h-0.6zM354.47 126.88h0.6v0.6h-0.6zM335.92 126.35h0.6v0.6h-0.6zM321.15 127.51h0.6v0.6h-0.6zM337.52 126.32h0.6v0.6h-0.6zM339.63 126.83h0.6v0.6h-0.6zM328.45 127.13h0.6v0.6h-0.6zM337.96 127.86h0.6v0.6h-0.6zM346.41 127.54h0.6v0.6h-0.6zM326.69 126.58h0.6v0.6h-0.6zM337.71 126.12h0.6v0.6h-0.6zM332.28 126.85h0.6v0.6h-0.6zM333.01 127.36h0.6v0.6h-0.6zM344.45 128.68h0.6v0.6h-0.6zM342.87 128.11h0.6v0.6h-0.6zM323.27 128.14h0.6v0.6h-0.6zM347.01 125.98h0.6v0.6h-0.6zM359.36 126.69h0.6v0.6h-0.6zM334.64 126.48h0.6v0.6h-0.6zM328.25 128.17h0.6v0.6h-0.6zM336.58 126.86h0.6v0.6h-0.6zM345.55 126.35h0.6v0.6h-0.6zM325.47 126.69h0.6v0.6h-0.6zM326.49 127.82h0.6v0.6h-0.6zM331.69 126.25h0.6v0.6h-0.6zM329.38 125.41h0.6v0.6h-0.6zM335.66 127.29h0.6v0.6h-0.6zM340.11 126.99h0.6v0.6h-0.6zM337.99 126.36h0.6v0.6h-0.6zM334.25 127.34h0.6v0.6h-0.6zM321.81 127.73h0.6v0.6h-0.6zM335.43 127.25h0.6v0.6h-0.6zM329.2 129.01h0.6v0.6h-0.6zM334 126.51h0.6v0.6h-0.6zM325.47 127.73h0.6v0.6h-0.6zM331.89 126.49h0.6v0.6h-0.6zM326.74 128.04h0.6v0.6h-0.6zM334.86 128.15h0.6v0.6h-0.6zM333.83 126.13h0.6v0.6h-0.6zM342.7 127.49h0.6v0.6h-0.6zM327.44 126.92h0.6v0.6h-0.6zM324.25 127.95h0.6v0.6h-0.6zM329.82 127.63h0.6v0.6h-0.6zM336.6 126.97h0.6v0.6h-0.6zM337.72 126.98h0.6v0.6h-0.6zM322.16 126.82h0.6v0.6h-0.6zM322.18 127.88h0.6v0.6h-0.6zM340.52 126.67h0.6v0.6h-0.6zM340.21 127.42h0.6v0.6h-0.6zM343.76 126.36h0.6v0.6h-0.6zM334.25 126.31h0.6v0.6h-0.6zM327.15 128.43h0.6v0.6h-0.6zM313.87 126.38h0.6v0.6h-0.6zM338.88 127.9h0.6v0.6h-0.6zM326.14 125.37h0.6v0.6h-0.6zM316.78 127.53h0.6v0.6h-0.6zM345.04 128.02h0.6v0.6h-0.6zM326.66 128.42h0.6v0.6h-0.6zM332.11 127.75h0.6v0.6h-0.6zM332.08 128.63h0.6v0.6h-0.6zM328.82 125.27h0.6v0.6h-0.6zM330.85 127.37h0.6v0.6h-0.6zM336.77 126.55h0.6v0.6h-0.6zM331.68 126.18h0.6v0.6h-0.6zM331.65 127.28h0.6v0.6h-0.6zM336.41 128.68h0.6v0.6h-0.6zM313.99 127.67h0.6v0.6h-0.6zM338.32 126.16h0.6v0.6h-0.6zM334.7 127.19h0.6v0.6h-0.6zM323.97 127.85h0.6v0.6h-0.6zM353.09 127.81h0.6v0.6h-0.6zM341.76 128.16h0.6v0.6h-0.6zM332.7 128.07h0.6v0.6h-0.6zM325.93 127.36h0.6v0.6h-0.6zM341.04 128.37h0.6v0.6h-0.6zM331.12 126.94h0.6v0.6h-0.6zM338.67 127.13h0.6v0.6h-0.6zM335.37 127.92h0.6v0.6h-0.6zM326.35 127.99h0.6v0.6h-0.6zM337.79 126.96h0.6v0.6h-0.6zM321.5 126.63h0.6v0.6h-0.6zM333.55 128.04h0.6v0.6h-0.6zM314.36 127.84h0.6v0.6h-0.6zM335.92 126.19h0.6v0.6h-0.6zM342.54 127.56h0.6v0.6h-0.6zM338.35 126.32h0.6v0.6h-0.6zM322.96 128.01h0.6v0.6h-0.6zM347.99 127.53h0.6v0.6h-0.6zM332.07 126.8h0.6v0.6h-0.6zM316.92 128.08h0.6v0.6h-0.6zM333.05 128.3h0.6v0.6h-0.6zM326.82 128.14h0.6v0.6h-0.6zM326.89 127.72h0.6v0.6h-0.6zM347.67 126.57h0.6v0.6h-0.6zM343.03 127.19h0.6v0.6h-0.6zM324.67 127.38h0.6v0.6h-0.6zM340.41 126.56h0.6v0.6h-0.6zM331.35 126.69h0.6v0.6h-0.6zM326.35 127.01h0.6v0.6h-0.6zM342.18 126.76h0.6v0.6h-0.6zM346.37 126.86h0.6v0.6h-0.6zM327.14 128.16h0.6v0.6h-0.6zM347.95 126.62h0.6v0.6h-0.6zM339.82 126.16h0.6v0.6h-0.6zM329.96 126.87h0.6v0.6h-0.6zM341.03 126.08h0.6v0.6h-0.6zM328.93 126.58h0.6v0.6h-0.6zM335 126.1h0.6v0.6h-0.6zM320.72 129.72h0.6v0.6h-0.6zM336.11 125.86h0.6v0.6h-0.6zM342.26 126.03h0.6v0.6h-0.6zM315.33 128.69h0.6v0.6h-0.6zM346.38 126.45h0.6v0.6h-0.6zM323.19 127.62h0.6v0.6h-0.6zM354.11 127.73h0.6v0.6h-0.6zM340.53 126.14h0.6v0.6h-0.6zM316.37 127.54h0.6v0.6h-0.6zM344.02 127.32h0.6v0.6h-0.6zM333.95 128.43h0.6v0.6h-0.6zM325.68 128.18h0.6v0.6h-0.6zM342.22 126.64h0.6v0.6h-0.6zM335.22 127.3h0.6v0.6h-0.6zM339.75 126.33h0.6v0.6h-0.6zM331.7 127.28h0.6v0.6h-0.6zM334.28 127.22h0.6v0.6h-0.6zM336.47 127.03h0.6v0.6h-0.6zM329.07 128.12h0.6v0.6h-0.6zM327.65 126.92h0.6v0.6h-0.6zM325.3 126.18h0.6v0.6h-0.6zM338.41 127.16h0.6v0.6h-0.6zM332.68 127.6h0.6v0.6h-0.6zM332.29 127.8h0.6v0.6h-0.6zM351.82 127.51h0.6v0.6h-0.6zM331.38 128.67h0.6v0.6h-0.6zM340.96 125.72h0.6v0.6h-0.6zM347.13 127.39h0.6v0.6h-0.6zM342.4 126.18h0.6v0.6h-0.6zM325.64 126.62h0.6v0.6h-0.6zM339.44 126.2h0.6v0.6h-0.6zM327.01 128.04h0.6v0.6h-0.6zM327.67 127.3h0.6v0.6h-0.6zM325.15 125.69h0.6v0.6h-0.6zM333.18 127.09h0.6v0.6h-0.6zM319.9 128.06h0.6v0.6h-0.6zM342.06 127.98h0.6v0.6h-0.6zM328.97 126.18h0.6v0.6h-0.6zM333.1 127.35h0.6v0.6h-0.6zM332.28 126.68h0.6v0.6h-0.6zM324.2 126.55h0.6v0.6h-0.6zM333.17 126.77h0.6v0.6h-0.6zM350.38 126.96h0.6v0.6h-0.6zM338.45 126.79h0.6v0.6h-0.6z" fill="#000" fill-opacity="0.55"/>
<path d="M348.28 131.21h0.6v0.6h-0.6zM347.93 128.64h0.6v0.6h-0.6zM346.05 142.58h0.6v0.6h-0.6zM347.25 138.12h0.6v0.6h-0.6zM348.35 133.2h0.6v0.6h-0.6zM349.36 133.26h0.6v0.6h-0.6zM349.01 134.18h0.6v0.6h-0.6zM349.64 140.69h0.6v0.6h-0.6zM348.58 141.37h0.6v0.6h-0.6zM349.09 143.64h0.6v0.6h-0.6zM348.35 128.41h0.6v0.6h-0.6zM348.75 137.16h0.6v0.6h-0.6zM348.07 134.98h0.6v0.6h-0.6zM348.18 129.85h0.6v0.6h-0.6zM350.52 132.19h0.6v0.6h-0.6zM347.24 128.24h0.6v0.6h-0.6zM347.51 135.8h0.6v0.6h-0.6zM350.23 138.93h0.6v0.6h-0.6zM347.64 129.89h0.6v0.6h-0.6zM347.18 135.59h0.6v0.6h-0.6zM349.52 133.64h0.6v0.6h-0.6zM350.38 145.46h0.6v0.6h-0.6zM348.68 125.38h0.6v0.6h-0.6zM349.78 135.51h0.6v0.6h-0.6zM349.28 140.83h0.6v0.6h-0.6zM347.31 136.31h0.6v0.6h-0.6zM348.71 132.3h0.6v0.6h-0.6zM349.31 135.36h0.6v0.6h-0.6zM348.02 145.2h0.6v0.6h-0.6zM348.69 143.99h0.6v0.6h-0.6zM348.32 141.07h0.6v0.6h-0.6zM347.61 136.71h0.6v0.6h-0.6zM349.77 125.35h0.6v0.6h-0.6zM349.13 134.66h0.6v0.6h-0.6zM349.78 136.87h0.6v0.6h-0.6zM348.41 129.72h0.6v0.6h-0.6zM351.95 132.38h0.6v0.6h-0.6zM348.12 132.45h0.6v0.6h-0.6zM348.14 137.06h0.6v0.6h-0.6zM346.93 141.16h0.6v0.6h-0.6zM348.19 138.93h0.6v0.6h-0.6zM346.02 133.44h0.6v0.6h-0.6zM348.15 134.09h0.6v0.6h-0.6zM347.71 137.5h0.6v0.6h-0.6zM348.97 131.18h0.6v0.6h-0.6zM346.19 139.56h0.6v0.6h-0.6zM348.12 141.22h0.6v0.6h-0.6zM349.52 135.47h0.6v0.6h-0.6zM346.82 134.22h0.6v0.6h-0.6zM347.64 142.06h0.6v0.6h-0.6zM346.51 140.47h0.6v0.6h-0.6zM346.69 133.19h0.6v0.6h-0.6zM346.84 132.57h0.6v0.6h-0.6zM347.98 137.8h0.6v0.6h-0.6zM347.8 139.35h0.6v0.6h-0.6zM350.55 136.77h0.6v0.6h-0.6zM347.14 135.11h0.6v0.6h-0.6zM348.37 134.22h0.6v0.6h-0.6zM349.84 141.64h0.6v0.6h-0.6zM350.84 138.55h0.6v0.6h-0.6zM345.37 135.34h0.6v0.6h-0.6zM349.28 132.04h0.6v0.6h-0.6zM347.79 140.44h0.6v0.6h-0.6zM348.66 130.48h0.6v0.6h-0.6zM347.81 120.89h0.6v0.6h-0.6zM348.49 130h0.6v0.6h-0.6zM348.43 130.17h0.6v0.6h-0.6zM347.41 133.46h0.6v0.6h-0.6zM351.75 130.17h0.6v0.6h-0.6zM347.1 133.35h0.6v0.6h-0.6zM349.74 139.9h0.6v0.6h-0.6zM349.31 134.4h0.6v0.6h-0.6zM348.64 132.21h0.6v0.6h-0.6zM348.28 132.03h0.6v0.6h-0.6zM346.79 131.12h0.6v0.6h-0.6zM350.75 137.93h0.6v0.6h-0.6zM347.61 135.45h0.6v0.6h-0.6zM347.96 141.95h0.6v0.6h-0.6zM348.46 132.87h0.6v0.6h-0.6zM349.29 137.55h0.6v0.6h-0.6zM347.69 132.2h0.6v0.6h-0.6zM348.66 127.97h0.6v0.6h-0.6zM347.42 140.93h0.6v0.6h-0.6zM349.5 141.44h0.6v0.6h-0.6zM347.97 133.07h0.6v0.6h-0.6zM348.17 133.64h0.6v0.6h-0.6zM349.99 134.89h0.6v0.6h-0.6zM350.07 132.51h0.6v0.6h-0.6zM348.93 143.92h0.6v0.6h-0.6zM347.62 132.79h0.6v0.6h-0.6zM347.79 128.09h0.6v0.6h-0.6zM348.14 132.83h0.6v0.6h-0.6zM351.07 133.64h0.6v0.6h-0.6zM345.99 140.6h0.6v0.6h-0.6zM349.6 135.81h0.6v0.6h-0.6zM348.82 139.49h0.6v0.6h-0.6zM347.83 136.18h0.6v0.6h-0.6zM348.66 144.09h0.6v0.6h-0.6zM350.14 136.8h0.6v0.6h-0.6zM346.92 140.3h0.6v0.6h-0.6zM348.42 141.7h0.6v0.6h-0.6zM348.55 136.87h0.6v0.6h-0.6zM349.25 132.4h0.6v0.6h-0.6zM347.72 147.21h0.6v0.6h-0.6zM347.47 140.55h0.6v0.6h-0.6zM349.28 139.98h0.6v0.6h-0.6zM350.09 129.42h0.6v0.6h-0.6zM349.6 125.9h0.6v0.6h-0.6zM348.55 137.63h0.6v0.6h-0.6zM349.69 141.29h0.6v0.6h-0.6zM347.4 134.64h0.6v0.6h-0.6zM348.3 132.58h0.6v0.6h-0.6zM347.53 132.74h0.6v0.6h-0.6zM349.83 142.64h0.6v0.6h-0.6zM349.36 144.22h0.6v0.6h-0.6zM348.59 130.65h0.6v0.6h-0.6zM347.72 136.98h0.6v0.6h-0.6zM349.69 141.93h0.6v0.6h-0.6zM347.44 140.67h0.6v0.6h-0.6zM347.86 138.9h0.6v0.6h-0.6zM349.56 143.24h0.6v0.6h-0.6zM347.87 137.18h0.6v0.6h-0.6zM348.99 133.93h0.6v0.6h-0.6zM348.59 138.9h0.6v0.6h-0.6zM346.56 132.83h0.6v0.6h-0.6zM351.18 138.2h0.6v0.6h-0.6zM347.83 126.99h0.6v0.6h-0.6zM347.37 138.53h0.6v0.6h-0.6zM349.28 138.17h0.6v0.6h-0.6zM349.18 133.03h0.6v0.6h-0.6zM350.35 130.48h0.6v0.6h-0.6zM349.08 134.68h0.6v0.6h-0.6zM346.49 140.41h0.6v0.6h-0.6zM348.16 139.47h0.6v0.6h-0.6zM349.97 136.8h0.6v0.6h-0.6zM347.71 134.93h0.6v0.6h-0.6zM348.4 143.07h0.6v0.6h-0.6zM349.48 143.77h0.6v0.6h-0.6zM349.37 132.25h0.6v0.6h-0.6zM349.57 140.75h0.6v0.6h-0.6zM348.34 138.26h0.6v0.6h-0.6zM348.11 129.81h0.6v0.6h-0.6zM348.38 139.73h0.6v0.6h-0.6zM348.06 125h0.6v0.6h-0.6zM347.55 141.33h0.6v0.6h-0.6zM348.75 141.5h0.6v0.6h-0.6zM347.6 133.93h0.6v0.6h-0.6zM347.31 132.17h0.6v0.6h-0.6zM349.08 136.68h0.6v0.6h-0.6zM347.92 137.45h0.6v0.6h-0.6z" fill="#000" fill-opacity="0.55"/>
</g>
<path d="M314.5 128.4 C320 127.0 330 127.0 336.1 127.0 L351.4 126.7 C350.8 134 348 140 345.4 145.6 C342 142.6 339 139.5 336.1 137.8 C334.5 136.5 333.5 135 332.4 134.2 C328 132.5 320 130.5 314.5 128.4 Z" fill="#f0f0f0" stroke="none" stroke-width="0.8" />
<g filter="url(#bl0)">
<path d="M313.9 128.5 C320 126.6 330 126.6 336.1 126.7 L351.6 126.5 C351.0 134 348.2 140 345.5 146.0" fill="none" stroke="#000" stroke-width="1.9" />
<path d="M313.9 128.5 C320 130.5 328 132.3 332.2 134.0 C334 135.3 335 136.6 337 138.2 L345.5 146.3" fill="none" stroke="#000" stroke-width="1.6" />
</g>
<path d="M317.0 128.6 C322 127.9 328 128.0 332.5 129.2 C330 130.8 323.5 130.4 317.0 128.6 Z" fill="#fff" stroke="none" stroke-width="0.8" />
<ellipse cx="343.4" cy="133.3" rx="5.0" ry="3.6" fill="#fafafa" stroke="#444" stroke-width="0.6"/>
<ellipse cx="343.6" cy="133.4" rx="3.2" ry="2.2" fill="none" stroke="#666" stroke-width="0.5"/>
<ellipse cx="343.8" cy="133.5" rx="1.4" ry="0.9" fill="none" stroke="#777" stroke-width="0.45"/>
<circle cx="332.1" cy="147.3" r="4.1" fill="#fff" stroke="#111" stroke-width="0.7"/>
<rect x="311.8" y="115.4" width="53.4" height="49.5" fill="none" stroke="#222" stroke-width="0.8"/>
<line x1="336.5" y1="115.4" x2="336.5" y2="164.9" stroke="#222" stroke-width="0.9" />
<line x1="311.8" y1="139.4" x2="365.2" y2="139.4" stroke="#222" stroke-width="0.9" />
<line x1="310.2" y1="117.4" x2="311.8" y2="117.4" stroke="#222" stroke-width="0.45" />
<line x1="310.2" y1="120.98" x2="311.8" y2="120.98" stroke="#222" stroke-width="0.45" />
<line x1="310.2" y1="124.55" x2="311.8" y2="124.55" stroke="#222" stroke-width="0.45" />
<line x1="310.2" y1="128.13" x2="311.8" y2="128.13" stroke="#222" stroke-width="0.45" />
<line x1="310.2" y1="131.71" x2="311.8" y2="131.71" stroke="#222" stroke-width="0.45" />
<line x1="310.2" y1="135.28" x2="311.8" y2="135.28" stroke="#222" stroke-width="0.45" />
<line x1="310.2" y1="138.86" x2="311.8" y2="138.86" stroke="#222" stroke-width="0.45" />
<line x1="310.2" y1="142.44" x2="311.8" y2="142.44" stroke="#222" stroke-width="0.45" />
<line x1="310.2" y1="146.02" x2="311.8" y2="146.02" stroke="#222" stroke-width="0.45" />
<line x1="310.2" y1="149.59" x2="311.8" y2="149.59" stroke="#222" stroke-width="0.45" />
<line x1="310.2" y1="153.17" x2="311.8" y2="153.17" stroke="#222" stroke-width="0.45" />
<line x1="310.2" y1="156.75" x2="311.8" y2="156.75" stroke="#222" stroke-width="0.45" />
<line x1="310.2" y1="160.32" x2="311.8" y2="160.32" stroke="#222" stroke-width="0.45" />
<line x1="310.2" y1="163.9" x2="311.8" y2="163.9" stroke="#222" stroke-width="0.45" />
<line x1="313.8" y1="164.9" x2="313.8" y2="166.5" stroke="#222" stroke-width="0.45" />
<line x1="317.68" y1="164.9" x2="317.68" y2="166.5" stroke="#222" stroke-width="0.45" />
<line x1="321.55" y1="164.9" x2="321.55" y2="166.5" stroke="#222" stroke-width="0.45" />
<line x1="325.43" y1="164.9" x2="325.43" y2="166.5" stroke="#222" stroke-width="0.45" />
<line x1="329.31" y1="164.9" x2="329.31" y2="166.5" stroke="#222" stroke-width="0.45" />
<line x1="333.18" y1="164.9" x2="333.18" y2="166.5" stroke="#222" stroke-width="0.45" />
<line x1="337.06" y1="164.9" x2="337.06" y2="166.5" stroke="#222" stroke-width="0.45" />
<line x1="340.94" y1="164.9" x2="340.94" y2="166.5" stroke="#222" stroke-width="0.45" />
<line x1="344.82" y1="164.9" x2="344.82" y2="166.5" stroke="#222" stroke-width="0.45" />
<line x1="348.69" y1="164.9" x2="348.69" y2="166.5" stroke="#222" stroke-width="0.45" />
<line x1="352.57" y1="164.9" x2="352.57" y2="166.5" stroke="#222" stroke-width="0.45" />
<line x1="356.45" y1="164.9" x2="356.45" y2="166.5" stroke="#222" stroke-width="0.45" />
<line x1="360.32" y1="164.9" x2="360.32" y2="166.5" stroke="#222" stroke-width="0.45" />
<line x1="364.2" y1="164.9" x2="364.2" y2="166.5" stroke="#222" stroke-width="0.45" />
<rect x="313.3" y="158.2" width="7.6" height="6" fill="#fff"/>
<text x="313.6" y="163.7" font-size="6.6" fill="#bd2a50" stroke="#bd2a50" stroke-width="0.12" textLength="7" lengthAdjust="spacingAndGlyphs" >17</text>
<text x="314.6" y="122.2" font-size="6.4" fill="#bd2a50" stroke="#bd2a50" stroke-width="0.12" >9</text>
<rect x="315.9" y="124.3" width="1.1" height="1.1" fill="#9a3a55"/>
<text x="364.8" y="122.2" font-size="6.4" fill="#bd2a50" stroke="#bd2a50" stroke-width="0.12" text-anchor="end" >71</text>
<text x="364.2" y="163.7" font-size="6.6" fill="#bd2a50" stroke="#bd2a50" stroke-width="0.12" text-anchor="end" >3</text>
<rect x="357.6" y="125.6" width="1.3" height="1.2" fill="#c8102e"/>
<rect x="360" y="125.6" width="1.3" height="1.2" fill="#c8102e"/>
<rect x="362.4" y="125.6" width="1.3" height="1.2" fill="#c8102e"/>
<rect x="313.8" y="157" width="1.3" height="1.2" fill="#c8102e"/>
<rect x="316.2" y="157" width="1.3" height="1.2" fill="#c8102e"/>
<rect x="318.6" y="157" width="1.3" height="1.2" fill="#c8102e"/>
<g transform="translate(0 0)">
<g transform="translate(436.8 20.3) rotate(58.8)">
<rect x="0" y="-1.1" width="3" height="2.2" fill="#fff"/>
<line x1="0" y1="-1.6" x2="0" y2="1.6" stroke="#555" stroke-width="0.5" />
<line x1="0" y1="0" x2="3.5" y2="0" stroke="#555" stroke-width="0.5" />
<rect x="3.5" y="-1.2" width="12" height="2.4" fill="#e8e8e8" stroke="#555" stroke-width="0.5"/>
<rect x="9" y="-1.2" width="6.5" height="2.4" fill="#777"/>
<line x1="15.5" y1="0" x2="21.3" y2="0" stroke="#555" stroke-width="0.6" />
</g>
<path d="M447.9 38.6 L450.8 40 L450.8 46.3 L456.4 46.3" fill="none" stroke="#777" stroke-width="0.8" />
<circle cx="459.3" cy="30.7" r="3.2" fill="#fff" stroke="#555" stroke-width="0.55"/>
<circle cx="469.8" cy="28.4" r="3.35" fill="#fff" stroke="#555" stroke-width="0.55"/>
<path d="M456.3 46.7 L456.4 39.6 C456.6 36.6 458.6 35.4 461.2 35.3 L468.9 40.8 L468.9 46.7 Z" fill="#fff" stroke="#555" stroke-width="0.55" />
<path d="M462.3 33.2 C462.0 30.8 464.5 29.9 467.0 30.3 C470.5 30.9 472.4 33.5 471.6 36.0 C470.9 38.2 468.9 39.8 466.8 40.6 C464.6 39.0 462.6 36.2 462.3 33.2 Z" fill="#fff" stroke="#555" stroke-width="0.55" />
<ellipse cx="465.0" cy="33.5" rx="1.75" ry="1.3" fill="#fff" stroke="#555" stroke-width="0.4"/>
<ellipse cx="468.6" cy="33.3" rx="1.75" ry="1.3" fill="#fff" stroke="#555" stroke-width="0.4"/>
<circle cx="465.5" cy="33.9" r="0.55" fill="#111" stroke="none" stroke-width="0.5"/>
<circle cx="468.7" cy="33.7" r="0.55" fill="#111" stroke="none" stroke-width="0.5"/>
<ellipse cx="466.9" cy="40.3" rx="1.1" ry="0.7" fill="#333"/>
<line x1="466.8" y1="40.2" x2="475.2" y2="39.6" stroke="#555" stroke-width="0.6" />
<line x1="467.2" y1="40.8" x2="474.6" y2="41" stroke="#777" stroke-width="0.4" />
</g>
<text x="391.3" y="28.27" font-size="6.3" fill="#333333" stroke="#333333" stroke-width="0.12" textLength="34.1" lengthAdjust="spacingAndGlyphs" >Thymocytes</text>
<text x="394.2" y="36.0" font-size="6.3" fill="#333333" textLength="27.8" lengthAdjust="spacingAndGlyphs" stroke="#333333" stroke-width="0.12">(Cd45.2<tspan font-size="3.8" dy="-2.6">+</tspan><tspan dy="2.6">)</tspan></text>
<line x1="388.8" y1="41" x2="428" y2="41" stroke="#7a7a7a" stroke-width="1.1" />
<path d="M426.6 38.4 L427.96 41 L426.6 43.6 L432.8 41 Z" fill="#777" stroke="none" stroke-width="0.8" />
<text x="447.2" y="56.37" font-size="6.3" fill="#333333" stroke="#333333" stroke-width="0.12" textLength="29" lengthAdjust="spacingAndGlyphs" >Recipients</text>
<text x="448.0" y="63.9" font-size="6.3" fill="#333333" textLength="26.6" lengthAdjust="spacingAndGlyphs" stroke="#333333" stroke-width="0.12">(Cd45.1<tspan font-size="3.8" dy="-2.6">+</tspan><tspan dy="2.6">)</tspan></text>
<path d="M480.1 41.3 L505.4 41.3 L505.4 53" fill="none" stroke="#666" stroke-width="0.8" />
<path d="M502.5 51.2 L505.4 52.61 L508.3 51.2 L505.4 57.6 Z" fill="#555" stroke="none" stroke-width="0.8" />
<line x1="424.2" y1="76" x2="424.2" y2="159.6" stroke="#1a1a1a" stroke-width="1.15" />
<line x1="422.3" y1="159.2" x2="508.3" y2="159.2" stroke="#1a1a1a" stroke-width="1.15" />
<line x1="421.5" y1="77.5" x2="424.2" y2="77.5" stroke="#1a1a1a" stroke-width="0.95" />
<line x1="421.5" y1="112.78" x2="424.2" y2="112.78" stroke="#1a1a1a" stroke-width="0.95" />
<line x1="421.5" y1="159.2" x2="424.2" y2="159.2" stroke="#1a1a1a" stroke-width="0.95" />
<line x1="422.7" y1="134.61" x2="424.2" y2="134.61" stroke="#1a1a1a" stroke-width="0.5" />
<line x1="422.7" y1="120.22" x2="424.2" y2="120.22" stroke="#1a1a1a" stroke-width="0.5" />
<line x1="422.7" y1="110.01" x2="424.2" y2="110.01" stroke="#1a1a1a" stroke-width="0.5" />
<line x1="422.7" y1="102.09" x2="424.2" y2="102.09" stroke="#1a1a1a" stroke-width="0.5" />
<line x1="422.7" y1="95.63" x2="424.2" y2="95.63" stroke="#1a1a1a" stroke-width="0.5" />
<line x1="422.7" y1="90.16" x2="424.2" y2="90.16" stroke="#1a1a1a" stroke-width="0.5" />
<line x1="422.7" y1="85.42" x2="424.2" y2="85.42" stroke="#1a1a1a" stroke-width="0.5" />
<line x1="422.7" y1="81.24" x2="424.2" y2="81.24" stroke="#1a1a1a" stroke-width="0.5" />
<text x="419.4" y="79.75" font-size="6.3" fill="#333333" stroke="#333333" stroke-width="0.12" text-anchor="end" >100</text>
<text x="418.7" y="115.03" font-size="6.3" fill="#333333" stroke="#333333" stroke-width="0.12" text-anchor="end" >37</text>
<text x="419.4" y="161.45" font-size="6.3" fill="#333333" stroke="#333333" stroke-width="0.12" text-anchor="end" >10</text>
<line x1="424.6" y1="159.2" x2="424.6" y2="161.8" stroke="#1a1a1a" stroke-width="0.7" />
<text x="424.6" y="170.8" font-size="6.3" fill="#333333" stroke="#333333" stroke-width="0.12" text-anchor="middle" >0</text>
<line x1="446.7" y1="159.2" x2="446.7" y2="161.8" stroke="#1a1a1a" stroke-width="0.7" />
<text x="446.7" y="170.8" font-size="6.3" fill="#333333" stroke="#333333" stroke-width="0.12" text-anchor="middle" >0.5</text>
<line x1="470.2" y1="159.2" x2="470.2" y2="161.8" stroke="#1a1a1a" stroke-width="0.7" />
<text x="470.2" y="170.8" font-size="6.3" fill="#333333" stroke="#333333" stroke-width="0.12" text-anchor="middle" >1.0</text>
<line x1="492.9" y1="159.2" x2="492.9" y2="161.8" stroke="#1a1a1a" stroke-width="0.7" />
<text x="492.9" y="170.8" font-size="6.3" fill="#333333" stroke="#333333" stroke-width="0.12" text-anchor="middle" >1.5</text>
<text x="439.2" y="182.1" font-size="7.6" fill="#333333" textLength="53.1" lengthAdjust="spacingAndGlyphs" stroke="#333333" stroke-width="0.12">Dose of cells (10<tspan font-size="4.4" dy="-3.0">3</tspan><tspan dy="3.0">)</tspan></text>
<text transform="translate(399.5 117.4) rotate(-90)" x="0" y="2.66" font-size="7.4" fill="#333333" stroke="#333333" stroke-width="0.12" text-anchor="middle" textLength="53" lengthAdjust="spacingAndGlyphs">Negative mice (%)</text>
<line x1="424.6" y1="113.1" x2="500.8" y2="113.1" stroke="#111" stroke-width="1" stroke-dasharray="2.1 1.5"/>
<line x1="500.8" y1="113.1" x2="500.8" y2="159" stroke="#111" stroke-width="1" stroke-dasharray="2.1 1.5"/>
<path d="M424.6 80.8 L429.6 159 L424.6 159 Z" fill="#d4d4d4" stroke="none" stroke-width="0.8" />
<line x1="426.8" y1="113.1" x2="426.8" y2="159" stroke="#111" stroke-width="0.8" stroke-dasharray="1.2 1.2"/>
<line x1="424.6" y1="80.8" x2="429.6" y2="159" stroke="#555" stroke-width="0.8" />
<line x1="424.2" y1="81.6" x2="506.2" y2="114.6" stroke="#b3293d" stroke-width="1.2" />
<rect x="427.3" y="83.5" width="1.6" height="1.6" fill="#111"/>
<rect x="465.8" y="95.3" width="1.6" height="1.6" fill="#111"/>
<rect x="430.9" y="152.8" width="1.6" height="1.6" fill="#111"/>
<rect x="424" y="80" width="1.6" height="1.6" fill="#111"/>
<text x="456.3" y="80.07" font-size="6.3" fill="#bd2a50" stroke="#bd2a50" stroke-width="0.12" textLength="44.5" lengthAdjust="spacingAndGlyphs" >Pimozide N = 2</text>
<text x="456.3" y="87.77" font-size="6.3" fill="#bd2a50" stroke="#bd2a50" stroke-width="0.12" textLength="53.6" lengthAdjust="spacingAndGlyphs" >1/1655 [667; 4108]</text>
<text x="432.2" y="143.07" font-size="6.3" fill="#333333" stroke="#333333" stroke-width="0.12" textLength="38.9" lengthAdjust="spacingAndGlyphs" >Vehicle N = 2</text>
<text x="432.2" y="150.87" font-size="6.3" fill="#333333" stroke="#333333" stroke-width="0.12" textLength="39.9" lengthAdjust="spacingAndGlyphs" >1/53 [26; 109]</text>
<g transform="translate(-426.7 187.5)">
<path d="M445.4 37.9 C447.8 38.1 449.9 39.0 450.3 40.7 L450.5 46.3 L456.8 46.5" fill="none" stroke="#555" stroke-width="0.9" />
<circle cx="459.3" cy="30.7" r="3.2" fill="#6f6f6f" stroke="#4a4a4a" stroke-width="0.5"/>
<circle cx="469.8" cy="28.4" r="3.35" fill="#6f6f6f" stroke="#4a4a4a" stroke-width="0.5"/>
<path d="M456.3 46.7 L456.4 39.6 C456.6 36.6 458.6 35.4 461.2 35.3 L468.9 40.8 L468.9 46.7 Z" fill="#6f6f6f" stroke="#4a4a4a" stroke-width="0.5" />
<path d="M462.3 33.2 C462.0 30.8 464.5 29.9 467.0 30.3 C470.5 30.9 472.4 33.5 471.6 36.0 C470.9 38.2 468.9 39.8 466.8 40.6 C464.6 39.0 462.6 36.2 462.3 33.2 Z" fill="#6f6f6f" stroke="#4a4a4a" stroke-width="0.5" />
<ellipse cx="465.0" cy="33.5" rx="1.75" ry="1.3" fill="#fff" stroke="#4a4a4a" stroke-width="0.4"/>
<ellipse cx="468.6" cy="33.3" rx="1.75" ry="1.3" fill="#fff" stroke="#4a4a4a" stroke-width="0.4"/>
<circle cx="465.5" cy="33.9" r="0.55" fill="#111" stroke="none" stroke-width="0.5"/>
<circle cx="468.7" cy="33.7" r="0.55" fill="#111" stroke="none" stroke-width="0.5"/>
<ellipse cx="466.9" cy="40.3" rx="1.1" ry="0.7" fill="#333"/>
<line x1="466.8" y1="40.2" x2="475.2" y2="39.6" stroke="#555" stroke-width="0.6" />
<line x1="467.2" y1="40.8" x2="474.6" y2="41" stroke="#777" stroke-width="0.4" />
</g>
<text x="16.9" y="243.67" font-size="6.3" fill="#333333" stroke="#333333" stroke-width="0.12" textLength="30.8" lengthAdjust="spacingAndGlyphs" >6 week-old</text>
<text x="21.6" y="250.9" font-size="6.3" fill="#333333" stroke="#333333" stroke-width="0.12">Lmo2<tspan font-size="3.8" dy="-2.9">Tg</tspan></text>
<path d="M51.7 234.85 L137.3 234.85 L137.3 250" fill="none" stroke="#888" stroke-width="0.8" />
<path d="M134.4 247.6 L137.3 249.01 L140.2 247.6 L137.3 254 Z" fill="#555" stroke="none" stroke-width="0.8" />
<path d="M56.9 243.2 L61 243.2 L58.95 235.7 Z" fill="url(#gRed)" stroke="none" stroke-width="0.8" />
<path d="M61.23 243.2 L65.33 243.2 L63.28 235.7 Z" fill="url(#gRed)" stroke="none" stroke-width="0.8" />
<path d="M65.56 243.2 L69.66 243.2 L67.61 235.7 Z" fill="url(#gRed)" stroke="none" stroke-width="0.8" />
<path d="M69.89 243.2 L73.99 243.2 L71.94 235.7 Z" fill="url(#gRed)" stroke="none" stroke-width="0.8" />
<path d="M74.22 243.2 L78.32 243.2 L76.27 235.7 Z" fill="url(#gRed)" stroke="none" stroke-width="0.8" />
<path d="M78.55 243.2 L82.65 243.2 L80.6 235.7 Z" fill="url(#gRed)" stroke="none" stroke-width="0.8" />
<path d="M82.88 243.2 L86.98 243.2 L84.93 235.7 Z" fill="url(#gRed)" stroke="none" stroke-width="0.8" />
<path d="M101.2 243.2 L105.3 243.2 L103.25 235.7 Z" fill="url(#gRed)" stroke="none" stroke-width="0.8" />
<path d="M105.53 243.2 L109.63 243.2 L107.58 235.7 Z" fill="url(#gRed)" stroke="none" stroke-width="0.8" />
<path d="M109.86 243.2 L113.96 243.2 L111.91 235.7 Z" fill="url(#gRed)" stroke="none" stroke-width="0.8" />
<path d="M114.19 243.2 L118.29 243.2 L116.24 235.7 Z" fill="url(#gRed)" stroke="none" stroke-width="0.8" />
<path d="M118.52 243.2 L122.62 243.2 L120.57 235.7 Z" fill="url(#gRed)" stroke="none" stroke-width="0.8" />
<path d="M122.85 243.2 L126.95 243.2 L124.9 235.7 Z" fill="url(#gRed)" stroke="none" stroke-width="0.8" />
<path d="M127.18 243.2 L131.28 243.2 L129.23 235.7 Z" fill="url(#gRed)" stroke="none" stroke-width="0.8" />
<text x="80.6" y="252.07" font-size="6.3" fill="#bd2a50" stroke="#bd2a50" stroke-width="0.12" textLength="25.6" lengthAdjust="spacingAndGlyphs" >Pimozide</text>
<path d="M79 209.4 L82.8 209.4 L80.9 214.3 Z" fill="url(#gNavy)" stroke="none" stroke-width="0.8" />
<path d="M79 217.6 L83.2 217.6 L81.1 224.4 Z" fill="url(#gB2)" stroke="none" stroke-width="0.8" />
<path d="M79 225.8 L83.2 225.8 L81.1 232.9 Z" fill="url(#gB3)" stroke="none" stroke-width="0.8" />
<path d="M83.4 217.6 L87.6 217.6 L85.5 224.4 Z" fill="url(#gB2)" stroke="none" stroke-width="0.8" />
<path d="M83.4 225.8 L87.6 225.8 L85.5 232.9 Z" fill="url(#gB3)" stroke="none" stroke-width="0.8" />
<path d="M87.8 217.6 L92 217.6 L89.9 224.4 Z" fill="url(#gB2)" stroke="none" stroke-width="0.8" />
<path d="M87.8 225.8 L92 225.8 L89.9 232.9 Z" fill="url(#gB3)" stroke="none" stroke-width="0.8" />
<path d="M92.2 217.6 L96.4 217.6 L94.3 224.4 Z" fill="url(#gB2)" stroke="none" stroke-width="0.8" />
<path d="M92.2 225.8 L96.4 225.8 L94.3 232.9 Z" fill="url(#gB3)" stroke="none" stroke-width="0.8" />
<path d="M96.6 217.6 L100.8 217.6 L98.7 224.4 Z" fill="url(#gB2)" stroke="none" stroke-width="0.8" />
<path d="M96.6 225.8 L100.8 225.8 L98.7 232.9 Z" fill="url(#gB3)" stroke="none" stroke-width="0.8" />
<path d="M110.2 209.4 L114 209.4 L112.1 214.3 Z" fill="url(#gNavy)" stroke="none" stroke-width="0.8" />
<path d="M110.2 217.6 L114.4 217.6 L112.3 224.4 Z" fill="url(#gB2)" stroke="none" stroke-width="0.8" />
<path d="M110.2 225.8 L114.4 225.8 L112.3 232.9 Z" fill="url(#gB3)" stroke="none" stroke-width="0.8" />
<path d="M114.6 217.6 L118.8 217.6 L116.7 224.4 Z" fill="url(#gB2)" stroke="none" stroke-width="0.8" />
<path d="M114.6 225.8 L118.8 225.8 L116.7 232.9 Z" fill="url(#gB3)" stroke="none" stroke-width="0.8" />
<path d="M119 217.6 L123.2 217.6 L121.1 224.4 Z" fill="url(#gB2)" stroke="none" stroke-width="0.8" />
<path d="M119 225.8 L123.2 225.8 L121.1 232.9 Z" fill="url(#gB3)" stroke="none" stroke-width="0.8" />
<path d="M123.4 217.6 L127.6 217.6 L125.5 224.4 Z" fill="url(#gB2)" stroke="none" stroke-width="0.8" />
<path d="M123.4 225.8 L127.6 225.8 L125.5 232.9 Z" fill="url(#gB3)" stroke="none" stroke-width="0.8" />
<path d="M127.8 217.6 L132 217.6 L129.9 224.4 Z" fill="url(#gB2)" stroke="none" stroke-width="0.8" />
<path d="M127.8 225.8 L132 225.8 L129.9 232.9 Z" fill="url(#gB3)" stroke="none" stroke-width="0.8" />
<text x="86" y="214.36" font-size="6" fill="#2c5a8e" stroke="#2c5a8e" stroke-width="0.12" textLength="10.7" lengthAdjust="spacingAndGlyphs" >VXL</text>
<text x="117.4" y="214.36" font-size="6" fill="#2c5a8e" stroke="#2c5a8e" stroke-width="0.12" textLength="10.8" lengthAdjust="spacingAndGlyphs" >VXL</text>
<line x1="80.4" y1="268.2" x2="80.4" y2="350.1" stroke="#1a1a1a" stroke-width="1.15" />
<line x1="80" y1="349.7" x2="148.5" y2="349.7" stroke="#1a1a1a" stroke-width="1.15" />
<line x1="77.8" y1="269.1" x2="80.4" y2="269.1" stroke="#1a1a1a" stroke-width="0.95" />
<line x1="77.8" y1="289.25" x2="80.4" y2="289.25" stroke="#1a1a1a" stroke-width="0.95" />
<line x1="77.8" y1="309.4" x2="80.4" y2="309.4" stroke="#1a1a1a" stroke-width="0.95" />
<line x1="77.8" y1="329.55" x2="80.4" y2="329.55" stroke="#1a1a1a" stroke-width="0.95" />
<line x1="77.8" y1="349.7" x2="80.4" y2="349.7" stroke="#1a1a1a" stroke-width="0.95" />
<line x1="78.9" y1="283.18" x2="80.4" y2="283.18" stroke="#1a1a1a" stroke-width="0.5" />
<line x1="78.9" y1="279.64" x2="80.4" y2="279.64" stroke="#1a1a1a" stroke-width="0.5" />
<line x1="78.9" y1="277.12" x2="80.4" y2="277.12" stroke="#1a1a1a" stroke-width="0.5" />
<line x1="78.9" y1="275.17" x2="80.4" y2="275.17" stroke="#1a1a1a" stroke-width="0.5" />
<line x1="78.9" y1="273.57" x2="80.4" y2="273.57" stroke="#1a1a1a" stroke-width="0.5" />
<line x1="78.9" y1="272.22" x2="80.4" y2="272.22" stroke="#1a1a1a" stroke-width="0.5" />
<line x1="78.9" y1="271.05" x2="80.4" y2="271.05" stroke="#1a1a1a" stroke-width="0.5" />
<line x1="78.9" y1="270.02" x2="80.4" y2="270.02" stroke="#1a1a1a" stroke-width="0.5" />
<line x1="78.9" y1="303.33" x2="80.4" y2="303.33" stroke="#1a1a1a" stroke-width="0.5" />
<line x1="78.9" y1="299.79" x2="80.4" y2="299.79" stroke="#1a1a1a" stroke-width="0.5" />
<line x1="78.9" y1="297.27" x2="80.4" y2="297.27" stroke="#1a1a1a" stroke-width="0.5" />
<line x1="78.9" y1="295.32" x2="80.4" y2="295.32" stroke="#1a1a1a" stroke-width="0.5" />
<line x1="78.9" y1="293.72" x2="80.4" y2="293.72" stroke="#1a1a1a" stroke-width="0.5" />
<line x1="78.9" y1="292.37" x2="80.4" y2="292.37" stroke="#1a1a1a" stroke-width="0.5" />
<line x1="78.9" y1="291.2" x2="80.4" y2="291.2" stroke="#1a1a1a" stroke-width="0.5" />
<line x1="78.9" y1="290.17" x2="80.4" y2="290.17" stroke="#1a1a1a" stroke-width="0.5" />
<line x1="78.9" y1="323.48" x2="80.4" y2="323.48" stroke="#1a1a1a" stroke-width="0.5" />
<line x1="78.9" y1="319.94" x2="80.4" y2="319.94" stroke="#1a1a1a" stroke-width="0.5" />
<line x1="78.9" y1="317.42" x2="80.4" y2="317.42" stroke="#1a1a1a" stroke-width="0.5" />
<line x1="78.9" y1="315.47" x2="80.4" y2="315.47" stroke="#1a1a1a" stroke-width="0.5" />
<line x1="78.9" y1="313.87" x2="80.4" y2="313.87" stroke="#1a1a1a" stroke-width="0.5" />
<line x1="78.9" y1="312.52" x2="80.4" y2="312.52" stroke="#1a1a1a" stroke-width="0.5" />
<line x1="78.9" y1="311.35" x2="80.4" y2="311.35" stroke="#1a1a1a" stroke-width="0.5" />
<line x1="78.9" y1="310.32" x2="80.4" y2="310.32" stroke="#1a1a1a" stroke-width="0.5" />
<line x1="78.9" y1="343.63" x2="80.4" y2="343.63" stroke="#1a1a1a" stroke-width="0.5" />
<line x1="78.9" y1="340.09" x2="80.4" y2="340.09" stroke="#1a1a1a" stroke-width="0.5" />
<line x1="78.9" y1="337.57" x2="80.4" y2="337.57" stroke="#1a1a1a" stroke-width="0.5" />
<line x1="78.9" y1="335.62" x2="80.4" y2="335.62" stroke="#1a1a1a" stroke-width="0.5" />
<line x1="78.9" y1="334.02" x2="80.4" y2="334.02" stroke="#1a1a1a" stroke-width="0.5" />
<line x1="78.9" y1="332.67" x2="80.4" y2="332.67" stroke="#1a1a1a" stroke-width="0.5" />
<line x1="78.9" y1="331.5" x2="80.4" y2="331.5" stroke="#1a1a1a" stroke-width="0.5" />
<line x1="78.9" y1="330.47" x2="80.4" y2="330.47" stroke="#1a1a1a" stroke-width="0.5" />
<text x="75.9" y="271.4" font-size="6.4" fill="#444" text-anchor="end" stroke="#444" stroke-width="0.12">10<tspan font-size="3.97" dy="-2.6">8</tspan></text>
<text x="75.9" y="291.55" font-size="6.4" fill="#444" text-anchor="end" stroke="#444" stroke-width="0.12">10<tspan font-size="3.97" dy="-2.6">7</tspan></text>
<text x="75.9" y="311.7" font-size="6.4" fill="#444" text-anchor="end" stroke="#444" stroke-width="0.12">10<tspan font-size="3.97" dy="-2.6">6</tspan></text>
<text x="75.9" y="331.85" font-size="6.4" fill="#444" text-anchor="end" stroke="#444" stroke-width="0.12">10<tspan font-size="3.97" dy="-2.6">5</tspan></text>
<text x="75.9" y="352" font-size="6.4" fill="#444" text-anchor="end" stroke="#444" stroke-width="0.12">10<tspan font-size="3.97" dy="-2.6">4</tspan></text>
<text transform="translate(57.6 308.15) rotate(-90)" x="0" y="2.81" font-size="7.8" fill="#333333" stroke="#333333" stroke-width="0.12" text-anchor="middle" textLength="71.5" lengthAdjust="spacingAndGlyphs">DN3a absolute numbers</text>
<line x1="89.2" y1="349.7" x2="89.2" y2="352.3" stroke="#1a1a1a" stroke-width="0.7" />
<line x1="106.3" y1="349.7" x2="106.3" y2="352.3" stroke="#1a1a1a" stroke-width="0.7" />
<line x1="123.6" y1="349.7" x2="123.6" y2="352.3" stroke="#1a1a1a" stroke-width="0.7" />
<line x1="140.9" y1="349.7" x2="140.9" y2="352.3" stroke="#1a1a1a" stroke-width="0.7" />
<text x="52.7" y="361.47" font-size="6.3" fill="#bd2a50" stroke="#bd2a50" stroke-width="0.12" textLength="26.6" lengthAdjust="spacingAndGlyphs" >Pimozide</text>
<text x="87.3" y="361.76" font-size="6" fill="#707070" stroke="#707070" stroke-width="0.12" textLength="3.8" lengthAdjust="spacingAndGlyphs" >–</text>
<text x="121.7" y="361.76" font-size="6" fill="#707070" stroke="#707070" stroke-width="0.12" textLength="3.8" lengthAdjust="spacingAndGlyphs" >–</text>
<text x="106.3" y="361.6" font-size="5.8" fill="#b2476a" stroke="#b2476a" stroke-width="0.12" text-anchor="middle" >+</text>
<text x="140.9" y="361.6" font-size="5.8" fill="#b2476a" stroke="#b2476a" stroke-width="0.12" text-anchor="middle" >+</text>
<line x1="83.9" y1="365.4" x2="112" y2="365.4" stroke="#555" stroke-width="1.1" />
<line x1="118" y1="365.4" x2="146.7" y2="365.4" stroke="#555" stroke-width="1.1" />
<text x="88" y="374.67" font-size="6.3" fill="#333333" stroke="#333333" stroke-width="0.12" textLength="20.6" lengthAdjust="spacingAndGlyphs" >Vehicle</text>
<text x="126.6" y="374.67" font-size="6.3" fill="#2c5a8e" stroke="#2c5a8e" stroke-width="0.12" textLength="11.6" lengthAdjust="spacingAndGlyphs" >VXL</text>
<rect x="88" y="279.7" width="2.6" height="2.6" fill="#38475e"/>
<rect x="84.2" y="281.3" width="2.6" height="2.6" fill="#38475e"/>
<rect x="91.7" y="281.3" width="2.6" height="2.6" fill="#38475e"/>
<rect x="84.2" y="282.7" width="2.6" height="2.6" fill="#38475e"/>
<rect x="91.7" y="282.7" width="2.6" height="2.6" fill="#38475e"/>
<rect x="88" y="284.6" width="2.6" height="2.6" fill="#38475e"/>
<rect x="88" y="291.7" width="2.6" height="2.6" fill="#38475e"/>
<line x1="83.8" y1="283.7" x2="94.8" y2="283.7" stroke="#1a1a1a" stroke-width="1.15" />
<line x1="89.3" y1="281.5" x2="89.3" y2="285.8" stroke="#1a1a1a" stroke-width="0.7" />
<rect x="100.75" y="298.35" width="2.5" height="2.5" fill="#b0123a"/>
<rect x="110.05" y="298.35" width="2.5" height="2.5" fill="#b0123a"/>
<rect x="100.75" y="300.55" width="2.5" height="2.5" fill="#b0123a"/>
<rect x="110.05" y="300.55" width="2.5" height="2.5" fill="#b0123a"/>
<rect x="105.15" y="301.05" width="2.5" height="2.5" fill="#b0123a"/>
<rect x="103.45" y="301.45" width="2.5" height="2.5" fill="#b0123a"/>
<rect x="106.75" y="301.45" width="2.5" height="2.5" fill="#b0123a"/>
<rect x="105.15" y="306.05" width="2.5" height="2.5" fill="#b0123a"/>
<line x1="101.4" y1="302" x2="111.8" y2="302" stroke="#222" stroke-width="0.9" />
<text x="106.4" y="298.4" font-size="5" fill="#333" stroke="#333" stroke-width="0.12" text-anchor="middle" >***</text>
<circle cx="123.2" cy="305.7" r="1.2" fill="#234b78" stroke="none" stroke-width="0.5"/>
<circle cx="120.2" cy="309.4" r="1.2" fill="#234b78" stroke="none" stroke-width="0.5"/>
<circle cx="126.2" cy="309.2" r="1.2" fill="#234b78" stroke="none" stroke-width="0.5"/>
<circle cx="123.2" cy="310.2" r="1.2" fill="#234b78" stroke="none" stroke-width="0.5"/>
<circle cx="121" cy="311" r="1.2" fill="#234b78" stroke="none" stroke-width="0.5"/>
<circle cx="125.5" cy="311" r="1.2" fill="#234b78" stroke="none" stroke-width="0.5"/>
<circle cx="122" cy="314.3" r="1.2" fill="#234b78" stroke="none" stroke-width="0.5"/>
<line x1="118.2" y1="309.6" x2="128.7" y2="309.6" stroke="#222" stroke-width="0.9" />
<text x="123.2" y="304" font-size="5" fill="#333" stroke="#333" stroke-width="0.12" text-anchor="middle" >***</text>
<circle cx="142.8" cy="319.8" r="1.2" fill="#4a2350" stroke="none" stroke-width="0.5"/>
<circle cx="139.2" cy="322.9" r="1.2" fill="#4a2350" stroke="none" stroke-width="0.5"/>
<circle cx="139.2" cy="331.5" r="1.2" fill="#4a2350" stroke="none" stroke-width="0.5"/>
<circle cx="142.3" cy="334.2" r="1.2" fill="#4a2350" stroke="none" stroke-width="0.5"/>
<circle cx="140.8" cy="339.8" r="1.2" fill="#4a2350" stroke="none" stroke-width="0.5"/>
<line x1="135.4" y1="326.8" x2="145.9" y2="326.8" stroke="#222" stroke-width="0.9" />
<line x1="140.6" y1="322.2" x2="140.6" y2="331.4" stroke="#222" stroke-width="0.8" />
<line x1="138" y1="322.2" x2="143.2" y2="322.2" stroke="#222" stroke-width="0.7" />
<line x1="138" y1="331.4" x2="143.2" y2="331.4" stroke="#222" stroke-width="0.7" />
<g transform="translate(-218.3 195)">
<g transform="translate(436.8 20.3) rotate(58.8)">
<rect x="0" y="-1.1" width="3" height="2.2" fill="#fff"/>
<line x1="0" y1="-1.6" x2="0" y2="1.6" stroke="#555" stroke-width="0.5" />
<line x1="0" y1="0" x2="3.5" y2="0" stroke="#555" stroke-width="0.5" />
<rect x="3.5" y="-1.2" width="12" height="2.4" fill="#e8e8e8" stroke="#555" stroke-width="0.5"/>
<rect x="9" y="-1.2" width="6.5" height="2.4" fill="#777"/>
<line x1="15.5" y1="0" x2="21.3" y2="0" stroke="#555" stroke-width="0.6" />
</g>
<path d="M447.9 38.6 L450.8 40 L450.8 46.3 L456.4 46.3" fill="none" stroke="#777" stroke-width="0.8" />
<circle cx="459.3" cy="30.7" r="3.2" fill="#fff" stroke="#555" stroke-width="0.55"/>
<circle cx="469.8" cy="28.4" r="3.35" fill="#fff" stroke="#555" stroke-width="0.55"/>
<path d="M456.3 46.7 L456.4 39.6 C456.6 36.6 458.6 35.4 461.2 35.3 L468.9 40.8 L468.9 46.7 Z" fill="#fff" stroke="#555" stroke-width="0.55" />
<path d="M462.3 33.2 C462.0 30.8 464.5 29.9 467.0 30.3 C470.5 30.9 472.4 33.5 471.6 36.0 C470.9 38.2 468.9 39.8 466.8 40.6 C464.6 39.0 462.6 36.2 462.3 33.2 Z" fill="#fff" stroke="#555" stroke-width="0.55" />
<ellipse cx="465.0" cy="33.5" rx="1.75" ry="1.3" fill="#fff" stroke="#555" stroke-width="0.4"/>
<ellipse cx="468.6" cy="33.3" rx="1.75" ry="1.3" fill="#fff" stroke="#555" stroke-width="0.4"/>
<circle cx="465.5" cy="33.9" r="0.55" fill="#111" stroke="none" stroke-width="0.5"/>
<circle cx="468.7" cy="33.7" r="0.55" fill="#111" stroke="none" stroke-width="0.5"/>
<ellipse cx="466.9" cy="40.3" rx="1.1" ry="0.7" fill="#333"/>
<line x1="466.8" y1="40.2" x2="475.2" y2="39.6" stroke="#555" stroke-width="0.6" />
<line x1="467.2" y1="40.8" x2="474.6" y2="41" stroke="#777" stroke-width="0.4" />
</g>
<text x="176.3" y="224.17" font-size="6.3" fill="#333333" stroke="#333333" stroke-width="0.12" textLength="33.3" lengthAdjust="spacingAndGlyphs" >Thymocytes</text>
<text x="178.4" y="231.9" font-size="6.3" fill="#333333" textLength="27.8" lengthAdjust="spacingAndGlyphs" stroke="#333333" stroke-width="0.12">(Cd45.2<tspan font-size="3.8" dy="-2.6">+</tspan><tspan dy="2.6">)</tspan></text>
<line x1="170.6" y1="235.8" x2="209.5" y2="235.8" stroke="#7a7a7a" stroke-width="1.1" />
<path d="M208 233.2 L209.36 235.8 L208 238.4 L214.2 235.8 Z" fill="#777" stroke="none" stroke-width="0.8" />
<text x="225.6" y="250.77" font-size="6.3" fill="#333333" stroke="#333333" stroke-width="0.12" textLength="28.6" lengthAdjust="spacingAndGlyphs" >Recipients</text>
<text x="226.3" y="258.8" font-size="6.3" fill="#333333" textLength="26.6" lengthAdjust="spacingAndGlyphs" stroke="#333333" stroke-width="0.12">(Cd45.1<tspan font-size="3.8" dy="-2.6">+</tspan><tspan dy="2.6">)</tspan></text>
<path d="M261.5 236.1 L286.3 236.1 L286.3 248.8" fill="none" stroke="#666" stroke-width="0.8" />
<path d="M283.4 246.6 L286.3 248.01 L289.2 246.6 L286.3 253 Z" fill="#555" stroke="none" stroke-width="0.8" />
<text x="274.2" y="234.27" font-size="6.3" fill="#333333" stroke="#333333" stroke-width="0.12" textLength="22.5" lengthAdjust="spacingAndGlyphs" >8 weeks</text>
<line x1="235.3" y1="270.2" x2="235.3" y2="350.9" stroke="#1a1a1a" stroke-width="1.15" />
<line x1="234.9" y1="350.5" x2="304.4" y2="350.5" stroke="#1a1a1a" stroke-width="1.15" />
<line x1="232.6" y1="271" x2="235.3" y2="271" stroke="#1a1a1a" stroke-width="0.95" />
<text x="230.1" y="273.25" font-size="6.3" fill="#333333" stroke="#333333" stroke-width="0.12" text-anchor="end" >1000</text>
<line x1="232.6" y1="286.9" x2="235.3" y2="286.9" stroke="#1a1a1a" stroke-width="0.95" />
<text x="230.1" y="289.15" font-size="6.3" fill="#333333" stroke="#333333" stroke-width="0.12" text-anchor="end" >100</text>
<line x1="232.6" y1="302.8" x2="235.3" y2="302.8" stroke="#1a1a1a" stroke-width="0.95" />
<text x="230.1" y="305.05" font-size="6.3" fill="#333333" stroke="#333333" stroke-width="0.12" text-anchor="end" >10</text>
<line x1="232.6" y1="318.7" x2="235.3" y2="318.7" stroke="#1a1a1a" stroke-width="0.95" />
<text x="230.1" y="320.95" font-size="6.3" fill="#333333" stroke="#333333" stroke-width="0.12" text-anchor="end" >1</text>
<line x1="232.6" y1="334.6" x2="235.3" y2="334.6" stroke="#1a1a1a" stroke-width="0.95" />
<text x="230.1" y="336.85" font-size="6.3" fill="#333333" stroke="#333333" stroke-width="0.12" text-anchor="end" >0.1</text>
<line x1="232.6" y1="350.5" x2="235.3" y2="350.5" stroke="#1a1a1a" stroke-width="0.95" />
<text x="230.1" y="352.75" font-size="6.3" fill="#333333" stroke="#333333" stroke-width="0.12" text-anchor="end" >0</text>
<line x1="233.8" y1="329.81" x2="235.3" y2="329.81" stroke="#1a1a1a" stroke-width="0.5" />
<line x1="233.8" y1="327.01" x2="235.3" y2="327.01" stroke="#1a1a1a" stroke-width="0.5" />
<line x1="233.8" y1="325.03" x2="235.3" y2="325.03" stroke="#1a1a1a" stroke-width="0.5" />
<line x1="233.8" y1="323.49" x2="235.3" y2="323.49" stroke="#1a1a1a" stroke-width="0.5" />
<line x1="233.8" y1="322.23" x2="235.3" y2="322.23" stroke="#1a1a1a" stroke-width="0.5" />
<line x1="233.8" y1="321.16" x2="235.3" y2="321.16" stroke="#1a1a1a" stroke-width="0.5" />
<line x1="233.8" y1="320.24" x2="235.3" y2="320.24" stroke="#1a1a1a" stroke-width="0.5" />
<line x1="233.8" y1="319.43" x2="235.3" y2="319.43" stroke="#1a1a1a" stroke-width="0.5" />
<line x1="233.8" y1="313.91" x2="235.3" y2="313.91" stroke="#1a1a1a" stroke-width="0.5" />
<line x1="233.8" y1="311.11" x2="235.3" y2="311.11" stroke="#1a1a1a" stroke-width="0.5" />
<line x1="233.8" y1="309.13" x2="235.3" y2="309.13" stroke="#1a1a1a" stroke-width="0.5" />
<line x1="233.8" y1="307.59" x2="235.3" y2="307.59" stroke="#1a1a1a" stroke-width="0.5" />
<line x1="233.8" y1="306.33" x2="235.3" y2="306.33" stroke="#1a1a1a" stroke-width="0.5" />
<line x1="233.8" y1="305.26" x2="235.3" y2="305.26" stroke="#1a1a1a" stroke-width="0.5" />
<line x1="233.8" y1="304.34" x2="235.3" y2="304.34" stroke="#1a1a1a" stroke-width="0.5" />
<line x1="233.8" y1="303.53" x2="235.3" y2="303.53" stroke="#1a1a1a" stroke-width="0.5" />
<line x1="233.8" y1="298.01" x2="235.3" y2="298.01" stroke="#1a1a1a" stroke-width="0.5" />
<line x1="233.8" y1="295.21" x2="235.3" y2="295.21" stroke="#1a1a1a" stroke-width="0.5" />
<line x1="233.8" y1="293.23" x2="235.3" y2="293.23" stroke="#1a1a1a" stroke-width="0.5" />
<line x1="233.8" y1="291.69" x2="235.3" y2="291.69" stroke="#1a1a1a" stroke-width="0.5" />
<line x1="233.8" y1="290.43" x2="235.3" y2="290.43" stroke="#1a1a1a" stroke-width="0.5" />
<line x1="233.8" y1="289.36" x2="235.3" y2="289.36" stroke="#1a1a1a" stroke-width="0.5" />
<line x1="233.8" y1="288.44" x2="235.3" y2="288.44" stroke="#1a1a1a" stroke-width="0.5" />
<line x1="233.8" y1="287.63" x2="235.3" y2="287.63" stroke="#1a1a1a" stroke-width="0.5" />
<line x1="233.8" y1="282.11" x2="235.3" y2="282.11" stroke="#1a1a1a" stroke-width="0.5" />
<line x1="233.8" y1="279.31" x2="235.3" y2="279.31" stroke="#1a1a1a" stroke-width="0.5" />
<line x1="233.8" y1="277.33" x2="235.3" y2="277.33" stroke="#1a1a1a" stroke-width="0.5" />
<line x1="233.8" y1="275.79" x2="235.3" y2="275.79" stroke="#1a1a1a" stroke-width="0.5" />
<line x1="233.8" y1="274.53" x2="235.3" y2="274.53" stroke="#1a1a1a" stroke-width="0.5" />
<line x1="233.8" y1="273.46" x2="235.3" y2="273.46" stroke="#1a1a1a" stroke-width="0.5" />
<line x1="233.8" y1="272.54" x2="235.3" y2="272.54" stroke="#1a1a1a" stroke-width="0.5" />
<line x1="233.8" y1="271.73" x2="235.3" y2="271.73" stroke="#1a1a1a" stroke-width="0.5" />
<text transform="translate(207.7 308.95) rotate(-90)" x="0" y="2.95" font-size="8.2" fill="#333333" stroke="#333333" stroke-width="0.12" text-anchor="middle" textLength="60.7" lengthAdjust="spacingAndGlyphs">DN3a fold expansion</text>
<line x1="235.3" y1="318.6" x2="302.5" y2="318.6" stroke="#111" stroke-width="0.9" stroke-dasharray="1.7 1.3"/>
<line x1="244.1" y1="350.5" x2="244.1" y2="353.1" stroke="#1a1a1a" stroke-width="0.7" />
<line x1="261.6" y1="350.5" x2="261.6" y2="353.1" stroke="#1a1a1a" stroke-width="0.7" />
<line x1="278.5" y1="350.5" x2="278.5" y2="353.1" stroke="#1a1a1a" stroke-width="0.7" />
<line x1="295.8" y1="350.5" x2="295.8" y2="353.1" stroke="#1a1a1a" stroke-width="0.7" />
<text x="208.1" y="361.97" font-size="6.3" fill="#bd2a50" stroke="#bd2a50" stroke-width="0.12" textLength="26.2" lengthAdjust="spacingAndGlyphs" >Pimozide</text>
<text x="242.2" y="362.26" font-size="6" fill="#707070" stroke="#707070" stroke-width="0.12" textLength="3.8" lengthAdjust="spacingAndGlyphs" >–</text>
<text x="276.6" y="362.26" font-size="6" fill="#707070" stroke="#707070" stroke-width="0.12" textLength="3.8" lengthAdjust="spacingAndGlyphs" >–</text>
<text x="261.6" y="362.1" font-size="5.8" fill="#b2476a" stroke="#b2476a" stroke-width="0.12" text-anchor="middle" >+</text>
<text x="295.8" y="362.1" font-size="5.8" fill="#b2476a" stroke="#b2476a" stroke-width="0.12" text-anchor="middle" >+</text>
<line x1="238.8" y1="366.3" x2="268" y2="366.3" stroke="#555" stroke-width="1.1" />
<line x1="273.5" y1="366.3" x2="301.7" y2="366.3" stroke="#555" stroke-width="1.1" />
<text x="242.8" y="374.87" font-size="6.3" fill="#333333" stroke="#333333" stroke-width="0.12" textLength="20.2" lengthAdjust="spacingAndGlyphs" >Vehicle</text>
<text x="282.3" y="374.87" font-size="6.3" fill="#2c5a8e" stroke="#2c5a8e" stroke-width="0.12" textLength="11.6" lengthAdjust="spacingAndGlyphs" >VXL</text>
<circle cx="240.6" cy="272.7" r="1.35" fill="#262626" stroke="none" stroke-width="0.5"/>
<circle cx="242.6" cy="274" r="1.35" fill="#262626" stroke="none" stroke-width="0.5"/>
<circle cx="245" cy="274.6" r="1.35" fill="#262626" stroke="none" stroke-width="0.5"/>
<circle cx="247.4" cy="274.3" r="1.35" fill="#262626" stroke="none" stroke-width="0.5"/>
<circle cx="244.4" cy="276.6" r="1.35" fill="#262626" stroke="none" stroke-width="0.5"/>
<circle cx="249.4" cy="274.4" r="1.35" fill="#262626" stroke="none" stroke-width="0.5"/>
<path d="M239.6 271.6 L241.8 271.6 L240.7 273.6 Z" fill="#777"/>
<line x1="238.2" y1="274.4" x2="251.1" y2="274.4" stroke="#111" stroke-width="1.1" />
<circle cx="258.5" cy="287.5" r="1.35" fill="#b0163a" stroke="none" stroke-width="0.5"/>
<circle cx="261.6" cy="288" r="1.35" fill="#b0163a" stroke="none" stroke-width="0.5"/>
<circle cx="265.9" cy="286" r="1.35" fill="#b0163a" stroke="none" stroke-width="0.5"/>
<circle cx="259.4" cy="294.5" r="1.35" fill="#b0163a" stroke="none" stroke-width="0.5"/>
<circle cx="264.3" cy="292.3" r="1.35" fill="#b0163a" stroke="none" stroke-width="0.5"/>
<line x1="256.5" y1="288.8" x2="267" y2="288.8" stroke="#333" stroke-width="0.9" />
<text x="261.6" y="285.2" font-size="5" fill="#333" stroke="#333" stroke-width="0.12" text-anchor="middle" >***</text>
<circle cx="274.1" cy="289.1" r="1.35" fill="#1f4670" stroke="none" stroke-width="0.5"/>
<circle cx="281.3" cy="289.1" r="1.35" fill="#1f4670" stroke="none" stroke-width="0.5"/>
<circle cx="278.2" cy="292.7" r="1.35" fill="#1f4670" stroke="none" stroke-width="0.5"/>
<circle cx="281.6" cy="295.4" r="1.35" fill="#1f4670" stroke="none" stroke-width="0.5"/>
<circle cx="278.5" cy="306.4" r="1.35" fill="#1f4670" stroke="none" stroke-width="0.5"/>
<circle cx="276" cy="293" r="1.35" fill="#1f4670" stroke="none" stroke-width="0.5"/>
<line x1="272.2" y1="292.7" x2="285.6" y2="292.7" stroke="#333" stroke-width="0.9" />
<text x="278.2" y="284.9" font-size="5" fill="#333" stroke="#333" stroke-width="0.12" text-anchor="middle" >***</text>
<text x="295.8" y="310.8" font-size="5" fill="#444" stroke="#444" stroke-width="0.12" text-anchor="middle" >##</text>
<text x="295.8" y="316.8" font-size="5" fill="#333" stroke="#333" stroke-width="0.12" text-anchor="middle" >***</text>
<circle cx="295.8" cy="318.6" r="1.3" fill="#4a2350" stroke="none" stroke-width="0.5"/>
<circle cx="295.8" cy="323.8" r="1.1" fill="#222" stroke="none" stroke-width="0.5"/>
<line x1="289.8" y1="326.5" x2="302" y2="326.5" stroke="#222" stroke-width="0.9" />
<line x1="295.8" y1="323.8" x2="295.8" y2="334.3" stroke="#222" stroke-width="0.8" />
<line x1="292.6" y1="334.3" x2="298.9" y2="334.3" stroke="#222" stroke-width="0.8" />
<circle cx="291.4" cy="345.7" r="1.35" fill="#2a1a35" stroke="none" stroke-width="0.5"/>
<circle cx="295.8" cy="350.4" r="1.35" fill="#4a2350" stroke="none" stroke-width="0.5"/>
<circle cx="300.1" cy="350.4" r="1.35" fill="#4a2350" stroke="none" stroke-width="0.5"/>
<line x1="380" y1="269.8" x2="380" y2="350.1" stroke="#1a1a1a" stroke-width="1.15" />
<line x1="379.6" y1="349.7" x2="448" y2="349.7" stroke="#1a1a1a" stroke-width="1.15" />
<line x1="377.3" y1="349.7" x2="380" y2="349.7" stroke="#1a1a1a" stroke-width="0.95" />
<text x="373.6" y="351.95" font-size="6.3" fill="#333333" stroke="#333333" stroke-width="0.12" text-anchor="end" >0</text>
<line x1="377.3" y1="333.89" x2="380" y2="333.89" stroke="#1a1a1a" stroke-width="0.95" />
<text x="373.6" y="336.14" font-size="6.3" fill="#333333" stroke="#333333" stroke-width="0.12" text-anchor="end" >20</text>
<line x1="377.3" y1="318.08" x2="380" y2="318.08" stroke="#1a1a1a" stroke-width="0.95" />
<text x="373.6" y="320.33" font-size="6.3" fill="#333333" stroke="#333333" stroke-width="0.12" text-anchor="end" >40</text>
<line x1="377.3" y1="302.27" x2="380" y2="302.27" stroke="#1a1a1a" stroke-width="0.95" />
<text x="373.6" y="304.52" font-size="6.3" fill="#333333" stroke="#333333" stroke-width="0.12" text-anchor="end" >60</text>
<line x1="377.3" y1="286.46" x2="380" y2="286.46" stroke="#1a1a1a" stroke-width="0.95" />
<text x="373.6" y="288.71" font-size="6.3" fill="#333333" stroke="#333333" stroke-width="0.12" text-anchor="end" >80</text>
<line x1="377.3" y1="270.65" x2="380" y2="270.65" stroke="#1a1a1a" stroke-width="0.95" />
<text x="373.6" y="272.9" font-size="6.3" fill="#333333" stroke="#333333" stroke-width="0.12" text-anchor="end" >100</text>
<line x1="378.5" y1="341.8" x2="380" y2="341.8" stroke="#1a1a1a" stroke-width="0.5" />
<line x1="378.5" y1="325.99" x2="380" y2="325.99" stroke="#1a1a1a" stroke-width="0.5" />
<line x1="378.5" y1="310.18" x2="380" y2="310.18" stroke="#1a1a1a" stroke-width="0.5" />
<line x1="378.5" y1="294.37" x2="380" y2="294.37" stroke="#1a1a1a" stroke-width="0.5" />
<line x1="378.5" y1="278.56" x2="380" y2="278.56" stroke="#1a1a1a" stroke-width="0.5" />
<text transform="translate(345.1 309.3) rotate(-90)" x="0" y="2.95" font-size="8.2" fill="#333333" stroke="#333333" stroke-width="0.12" text-anchor="middle" textLength="48.4" lengthAdjust="spacingAndGlyphs">% donor-derived</text>
<text transform="translate(355.6 308.55) rotate(-90)" x="0" y="2.95" font-size="8.2" fill="#333333" stroke="#333333" stroke-width="0.12" text-anchor="middle" textLength="33.5" lengthAdjust="spacingAndGlyphs">thymocytes</text>
<rect x="383.3" y="270.5" width="10.7" height="79.2" fill="#c5c7cd"/>
<rect x="383.3" y="270.5" width="10.7" height="9.4" fill="#8d95a3"/>
<rect x="383.3" y="270.5" width="10.7" height="1.5" fill="#4b586c"/>
<rect x="400.6" y="270.5" width="10.7" height="79.2" fill="#c5c7cd"/>
<rect x="400.6" y="270.5" width="10.7" height="31.2" fill="#8d95a3"/>
<rect x="400.6" y="270.5" width="10.7" height="7.5" fill="#4b586c"/>
<rect x="417.8" y="270.5" width="10.6" height="79.2" fill="#c5c7cd"/>
<rect x="417.8" y="270.5" width="10.6" height="12.2" fill="#8d95a3"/>
<rect x="417.8" y="270.5" width="10.6" height="1.3" fill="#4b586c"/>
<rect x="435.2" y="270.5" width="10.4" height="79.2" fill="#c5c7cd"/>
<rect x="435.2" y="270.5" width="10.4" height="33.2" fill="#8d95a3"/>
<rect x="435.2" y="270.5" width="10.4" height="6.5" fill="#4b586c"/>
<line x1="388.6" y1="272" x2="388.6" y2="273.7" stroke="#222" stroke-width="0.8" />
<line x1="385.6" y1="273.7" x2="391.6" y2="273.7" stroke="#222" stroke-width="0.8" />
<line x1="388.6" y1="279.9" x2="388.6" y2="281.9" stroke="#222" stroke-width="0.8" />
<line x1="385.6" y1="281.9" x2="391.6" y2="281.9" stroke="#222" stroke-width="0.8" />
<line x1="385.6" y1="272" x2="391.6" y2="272" stroke="#222" stroke-width="0.7" />
<line x1="385.6" y1="279.9" x2="391.6" y2="279.9" stroke="#222" stroke-width="0.7" />
<line x1="406" y1="278" x2="406" y2="280.8" stroke="#222" stroke-width="0.8" />
<line x1="403" y1="280.8" x2="409" y2="280.8" stroke="#222" stroke-width="0.8" />
<line x1="403" y1="278" x2="409" y2="278" stroke="#222" stroke-width="0.7" />
<text x="406" y="288.6" font-size="5" fill="#333" stroke="#333" stroke-width="0.12" text-anchor="middle" >*</text>
<line x1="406" y1="301.7" x2="406" y2="307.1" stroke="#222" stroke-width="0.8" />
<line x1="403" y1="307.1" x2="409" y2="307.1" stroke="#222" stroke-width="0.8" />
<line x1="403" y1="301.7" x2="409" y2="301.7" stroke="#222" stroke-width="0.7" />
<text x="406" y="314.6" font-size="5" fill="#333" stroke="#333" stroke-width="0.12" text-anchor="middle" >**</text>
<line x1="423.1" y1="271.8" x2="423.1" y2="273.7" stroke="#222" stroke-width="0.8" />
<line x1="420.1" y1="273.7" x2="426.1" y2="273.7" stroke="#222" stroke-width="0.8" />
<line x1="420.1" y1="271.8" x2="426.1" y2="271.8" stroke="#222" stroke-width="0.7" />
<line x1="423.1" y1="279.5" x2="423.1" y2="282.7" stroke="#222" stroke-width="0.8" />
<line x1="420.1" y1="282.7" x2="426.1" y2="282.7" stroke="#222" stroke-width="0.8" />
<line x1="440.4" y1="272.5" x2="440.4" y2="274.2" stroke="#222" stroke-width="0.8" />
<line x1="437.4" y1="274.2" x2="443.4" y2="274.2" stroke="#222" stroke-width="0.8" />
<line x1="437.4" y1="277" x2="443.4" y2="277" stroke="#222" stroke-width="0.7" />
<line x1="440.4" y1="277" x2="440.4" y2="288.3" stroke="#222" stroke-width="0.8" />
<line x1="437.4" y1="288.3" x2="443.4" y2="288.3" stroke="#222" stroke-width="0.8" />
<text x="440.4" y="294.2" font-size="5" fill="#333" stroke="#333" stroke-width="0.12" text-anchor="middle" >*</text>
<line x1="440.4" y1="303.7" x2="440.4" y2="318" stroke="#222" stroke-width="0.8" />
<line x1="437.4" y1="318" x2="443.4" y2="318" stroke="#222" stroke-width="0.8" />
<line x1="437.4" y1="303.7" x2="443.4" y2="303.7" stroke="#222" stroke-width="0.7" />
<text x="440.4" y="324.4" font-size="5" fill="#333" stroke="#333" stroke-width="0.12" text-anchor="middle" >**</text>
<text x="440.4" y="329" font-size="5" fill="#444" stroke="#444" stroke-width="0.12" text-anchor="middle" >##</text>
<path d="M447.6 271 Q448.8 271 448.8 272.2 L448.8 272.65 Q448.8 273.65 449.9 273.65 Q448.8 273.65 448.8 274.65 L448.8 275.1 Q448.8 276.3 447.6 276.3" fill="none" stroke="#333" stroke-width="0.75" />
<path d="M447.6 276.6 Q448.8 276.6 448.8 277.8 L448.8 288.45 Q448.8 289.45 449.9 289.45 Q448.8 289.45 448.8 290.45 L448.8 301.1 Q448.8 302.3 447.6 302.3" fill="none" stroke="#333" stroke-width="0.75" />
<path d="M447.6 304.4 Q448.8 304.4 448.8 305.6 L448.8 325.6 Q448.8 326.6 449.9 326.6 Q448.8 326.6 448.8 327.6 L448.8 347.6 Q448.8 348.8 447.6 348.8" fill="none" stroke="#333" stroke-width="0.75" />
<text x="452.8" y="275.98" font-size="6.6" fill="#333333" stroke="#333333" stroke-width="0.12" textLength="6.9" lengthAdjust="spacingAndGlyphs" >SP</text>
<text x="452.8" y="293.18" font-size="6.6" fill="#333333" stroke="#333333" stroke-width="0.12" textLength="7.6" lengthAdjust="spacingAndGlyphs" >DP</text>
<text x="453" y="328.98" font-size="6.6" fill="#333333" stroke="#333333" stroke-width="0.12" textLength="9.6" lengthAdjust="spacingAndGlyphs" >DN</text>
<line x1="389.2" y1="349.7" x2="389.2" y2="352.3" stroke="#1a1a1a" stroke-width="0.7" />
<line x1="405.8" y1="349.7" x2="405.8" y2="352.3" stroke="#1a1a1a" stroke-width="0.7" />
<line x1="423.1" y1="349.7" x2="423.1" y2="352.3" stroke="#1a1a1a" stroke-width="0.7" />
<line x1="440.5" y1="349.7" x2="440.5" y2="352.3" stroke="#1a1a1a" stroke-width="0.7" />
<text x="352.7" y="362.27" font-size="6.3" fill="#bd2a50" stroke="#bd2a50" stroke-width="0.12" textLength="26.1" lengthAdjust="spacingAndGlyphs" >Pimozide</text>
<text x="387.3" y="362.56" font-size="6" fill="#707070" stroke="#707070" stroke-width="0.12" textLength="3.8" lengthAdjust="spacingAndGlyphs" >–</text>
<text x="421.2" y="362.56" font-size="6" fill="#707070" stroke="#707070" stroke-width="0.12" textLength="3.8" lengthAdjust="spacingAndGlyphs" >–</text>
<text x="405.8" y="362.4" font-size="5.8" fill="#b2476a" stroke="#b2476a" stroke-width="0.12" text-anchor="middle" >+</text>
<text x="440.5" y="362.4" font-size="5.8" fill="#b2476a" stroke="#b2476a" stroke-width="0.12" text-anchor="middle" >+</text>
<line x1="382.7" y1="366.5" x2="412" y2="366.5" stroke="#555" stroke-width="1.1" />
<line x1="417.4" y1="366.5" x2="446.7" y2="366.5" stroke="#555" stroke-width="1.1" />
<text x="386.2" y="374.97" font-size="6.3" fill="#333333" stroke="#333333" stroke-width="0.12" textLength="21.2" lengthAdjust="spacingAndGlyphs" >Vehicle</text>
<text x="426.6" y="374.97" font-size="6.3" fill="#2c5a8e" stroke="#2c5a8e" stroke-width="0.12" textLength="11" lengthAdjust="spacingAndGlyphs" >VXL</text>
<rect x="0" y="0" width="520" height="1" fill="#4d4d4d"/>
<rect x="0" y="0" width="1" height="383" fill="#6e6e6e"/>
<rect x="518.8" y="0" width="1.2" height="383" fill="#3d3d3d"/>
<rect x="0" y="381.75" width="520" height="1.25" fill="#3a3a3a"/>
</svg>
</body></html>
